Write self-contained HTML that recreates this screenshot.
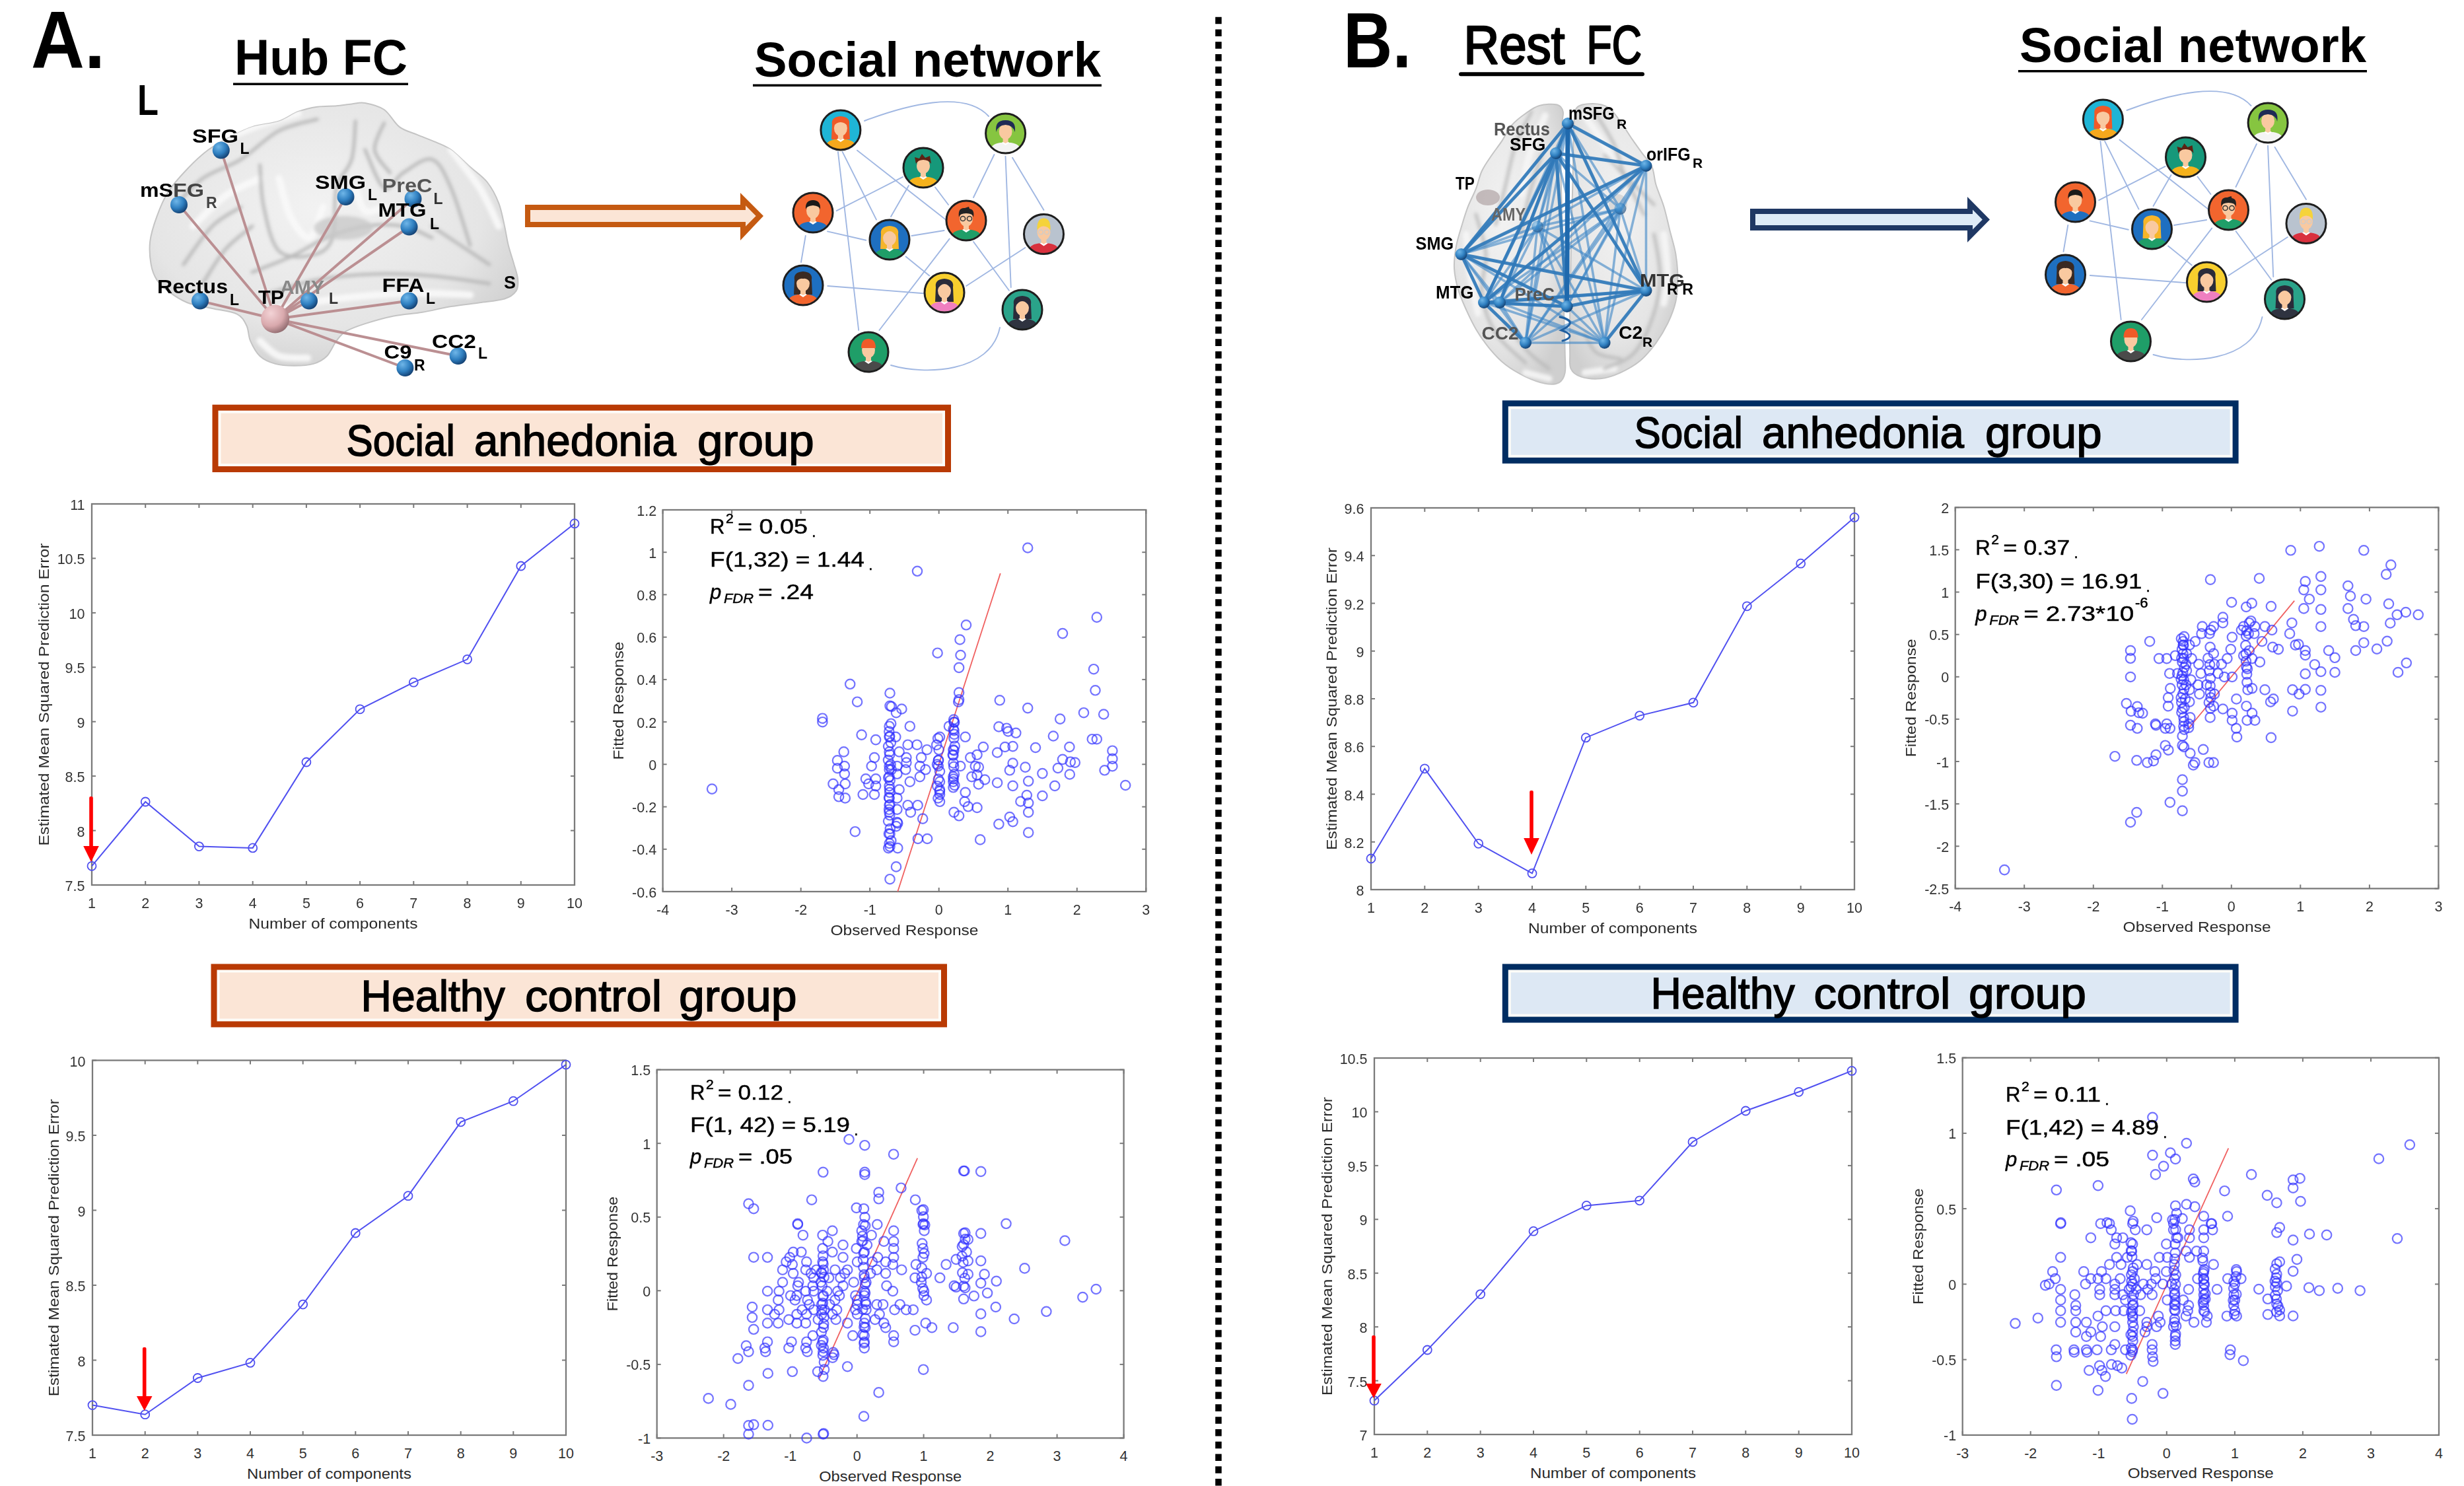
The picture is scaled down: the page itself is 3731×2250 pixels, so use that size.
<!DOCTYPE html>
<html><head><meta charset="utf-8"><title>Figure</title>
<style>
html,body{margin:0;padding:0;background:#fff;width:3731px;height:2250px;overflow:hidden;}
svg{display:block;font-family:"Liberation Sans", sans-serif;}
</style></head><body>
<svg width="3731" height="2250" viewBox="0 0 3731 2250">
<rect width="3731" height="2250" fill="#fff"/>
<line x1="1845" y1="25.7" x2="1845" y2="2250" stroke="#000" stroke-width="9.5" stroke-dasharray="10.6 8.156"/>
<defs>
<radialGradient id="gBrain" cx="0.45" cy="0.4" r="0.65">
<stop offset="0" stop-color="#f2f2f2"/><stop offset="0.7" stop-color="#e5e5e5"/><stop offset="1" stop-color="#cfcfcf"/>
</radialGradient>
<radialGradient id="gBlue" cx="0.35" cy="0.3" r="0.75">
<stop offset="0" stop-color="#6fb6e8"/><stop offset="0.55" stop-color="#2f7fc0"/><stop offset="1" stop-color="#123d6e"/>
</radialGradient>
<radialGradient id="gPink" cx="0.35" cy="0.3" r="0.75">
<stop offset="0" stop-color="#f3d3d6"/><stop offset="0.6" stop-color="#d9a9ad"/><stop offset="1" stop-color="#8f6a6e"/>
</radialGradient>
<filter id="blur2" x="-5%" y="-5%" width="110%" height="110%"><feGaussianBlur stdDeviation="2.5"/></filter>
</defs>
<path d="M228.7 400.4 C227 390.8 225.8 377.8 227.2 365.7 C228.7 353.6 232.8 340.6 237.4 328.1 C241.9 315.5 247 302.5 254.7 290.5 C262.4 278.4 273.5 266.4 283.7 255.7 C293.8 245.1 304.4 235 315.5 226.8 C326.6 218.6 339.1 212.3 350.2 206.6 C361.3 200.8 370 195.9 382 192.1 C394.1 188.2 411 187.3 422.5 183.4 C434.1 179.5 441.8 172.6 451.5 168.9 C461.1 165.3 470.8 163.1 480.4 161.7 C490.1 160.3 500.7 161 509.4 160.3 C518 159.5 525.3 158.1 532.5 157.4 C539.7 156.6 544.6 154.5 552.8 155.9 C561 157.4 573 160 581.7 166 C590.4 172.1 596.6 185.8 604.8 192.1 C613 198.4 621.7 199.8 630.9 203.7 C640 207.5 651.1 211.4 659.8 215.2 C668.5 219.1 674.3 220.5 683 226.8 C691.6 233.1 702.7 244.6 711.9 252.8 C721.1 261 730.7 266.8 737.9 276 C745.2 285.2 751 296.7 755.3 307.8 C759.6 318.9 761.6 331.9 764 342.5 C766.4 353.2 767.4 361.8 769.8 371.5 C772.2 381.1 776 391.7 778.4 400.4 C780.9 409.1 783.8 416.8 784.2 423.6 C784.7 430.3 784.7 436.1 781.3 440.9 C778 445.7 773.1 449.6 764 452.5 C754.8 455.4 739.9 456.4 726.4 458.3 C712.9 460.2 697.4 461.7 683 464.1 C668.5 466.5 654 470.3 639.6 472.8 C625.1 475.2 610.6 475.6 596.2 478.5 C581.7 481.4 564.8 486.3 552.8 490.1 C540.7 494 531.1 497.3 523.8 501.7 C516.6 506 514.2 509.9 509.4 516.2 C504.5 522.4 500.7 533.5 494.9 539.3 C489.1 545.1 482.8 548.5 474.6 550.9 C466.4 553.3 455.3 553.8 445.7 553.8 C436 553.8 425.4 553.3 416.8 550.9 C408.1 548.5 399.9 545.1 393.6 539.3 C387.3 533.5 382.5 523.9 379.1 516.2 C375.8 508.4 376.7 499.8 373.4 493 C370 486.3 367.6 480 358.9 475.6 C350.2 471.3 333.8 469.9 321.3 467 C308.7 464.1 294.7 462.6 283.7 458.3 C272.6 453.9 262.4 446.7 254.7 440.9 C247 435.1 241.7 430.3 237.4 423.6 C233 416.8 230.4 410.1 228.7 400.4 Z" fill="url(#gBrain)" stroke="#c4c4c4" stroke-width="2"/>
<defs><clipPath id="clipBrainA"><path d="M228.7 400.4 C227 390.8 225.8 377.8 227.2 365.7 C228.7 353.6 232.8 340.6 237.4 328.1 C241.9 315.5 247 302.5 254.7 290.5 C262.4 278.4 273.5 266.4 283.7 255.7 C293.8 245.1 304.4 235 315.5 226.8 C326.6 218.6 339.1 212.3 350.2 206.6 C361.3 200.8 370 195.9 382 192.1 C394.1 188.2 411 187.3 422.5 183.4 C434.1 179.5 441.8 172.6 451.5 168.9 C461.1 165.3 470.8 163.1 480.4 161.7 C490.1 160.3 500.7 161 509.4 160.3 C518 159.5 525.3 158.1 532.5 157.4 C539.7 156.6 544.6 154.5 552.8 155.9 C561 157.4 573 160 581.7 166 C590.4 172.1 596.6 185.8 604.8 192.1 C613 198.4 621.7 199.8 630.9 203.7 C640 207.5 651.1 211.4 659.8 215.2 C668.5 219.1 674.3 220.5 683 226.8 C691.6 233.1 702.7 244.6 711.9 252.8 C721.1 261 730.7 266.8 737.9 276 C745.2 285.2 751 296.7 755.3 307.8 C759.6 318.9 761.6 331.9 764 342.5 C766.4 353.2 767.4 361.8 769.8 371.5 C772.2 381.1 776 391.7 778.4 400.4 C780.9 409.1 783.8 416.8 784.2 423.6 C784.7 430.3 784.7 436.1 781.3 440.9 C778 445.7 773.1 449.6 764 452.5 C754.8 455.4 739.9 456.4 726.4 458.3 C712.9 460.2 697.4 461.7 683 464.1 C668.5 466.5 654 470.3 639.6 472.8 C625.1 475.2 610.6 475.6 596.2 478.5 C581.7 481.4 564.8 486.3 552.8 490.1 C540.7 494 531.1 497.3 523.8 501.7 C516.6 506 514.2 509.9 509.4 516.2 C504.5 522.4 500.7 533.5 494.9 539.3 C489.1 545.1 482.8 548.5 474.6 550.9 C466.4 553.3 455.3 553.8 445.7 553.8 C436 553.8 425.4 553.3 416.8 550.9 C408.1 548.5 399.9 545.1 393.6 539.3 C387.3 533.5 382.5 523.9 379.1 516.2 C375.8 508.4 376.7 499.8 373.4 493 C370 486.3 367.6 480 358.9 475.6 C350.2 471.3 333.8 469.9 321.3 467 C308.7 464.1 294.7 462.6 283.7 458.3 C272.6 453.9 262.4 446.7 254.7 440.9 C247 435.1 241.7 430.3 237.4 423.6 C233 416.8 230.4 410.1 228.7 400.4 Z"/></clipPath></defs>
<g clip-path="url(#clipBrainA)" fill="none" stroke-linecap="round" stroke-linejoin="round">
<g filter="url(#blur2)">
<path d="M292.3 342.5 C300.5 334.8 324.6 308.3 341.5 296.2 C358.4 284.2 384.9 274.5 393.6 270.2" stroke="#f8f8f8" stroke-width="11" opacity="0.9"/>
<path d="M422.5 270.2 C425.4 279.9 432.2 313.1 439.9 328.1 C447.6 343 460.6 362.3 468.8 359.9 C477 357.5 485.7 321.3 489.1 313.6" stroke="#f8f8f8" stroke-width="11" opacity="0.9"/>
<path d="M335.7 212.3 C345.4 208.5 374.3 195.9 393.6 189.2 C412.9 182.4 441.8 174.7 451.5 171.8" stroke="#f8f8f8" stroke-width="11" opacity="0.9"/>
<path d="M422.5 467 C437 464.6 475.6 456.4 509.4 452.5 C543.1 448.6 591.3 444.8 625.1 443.8 C658.9 442.9 697.4 446.2 711.9 446.7" stroke="#f8f8f8" stroke-width="11" opacity="0.9"/>
<path d="M538.3 284.7 C540.7 290.5 545.5 314.6 552.8 319.4 C560 324.2 576.9 314.6 581.7 313.6" stroke="#f8f8f8" stroke-width="11" opacity="0.9"/>
<path d="M683 226.8 C690.2 236.5 714.3 265.4 726.4 284.7 C738.4 304 750.5 332.9 755.3 342.5" stroke="#f8f8f8" stroke-width="11" opacity="0.9"/>
<path d="M393.6 516.2 C398.4 520 410.5 535 422.5 539.3 C434.6 543.6 458.7 541.7 465.9 542.2" stroke="#f8f8f8" stroke-width="11" opacity="0.9"/>
<path d="M382 412 C391.7 408.1 421.1 397.5 439.9 388.8 C458.7 380.2 476.1 367.6 494.9 359.9 C513.7 352.2 533.5 345.4 552.8 342.5 C572 339.7 593.7 339.7 610.6 342.5 C627.5 345.4 646.8 357 654 359.9" stroke="#b4b4b4" stroke-width="5" opacity="0.85"/>
<path d="M393.6 250 C394.6 260.6 394.6 291.9 399.4 313.6 C404.2 335.3 410 368.1 422.5 380.2 C435.1 392.2 461.1 389.3 474.6 385.9 C488.1 382.6 497.8 376.8 503.6 359.9 C509.4 343 504.5 304.4 509.4 284.7 C514.2 264.9 527.7 258.2 532.5 241.3 C537.3 224.4 537.3 193 538.3 183.4" stroke="#b4b4b4" stroke-width="5" opacity="0.85"/>
<path d="M263.4 313.6 C270.6 306.4 289.9 282.3 306.8 270.2 C323.7 258.2 345.4 253.3 364.7 241.3 C384 229.2 403.3 208 422.5 197.9 C441.8 187.7 470.8 183.4 480.4 180.5" stroke="#b4b4b4" stroke-width="5" opacity="0.85"/>
<path d="M277.9 400.4 C285.1 390.8 306.8 357 321.3 342.5 C335.7 328.1 357.4 318.4 364.7 313.6" stroke="#b4b4b4" stroke-width="5" opacity="0.85"/>
<path d="M408.1 443.8 C420.1 440.4 453.9 428.4 480.4 423.6 C506.9 418.7 538.3 415.8 567.2 414.9 C596.2 413.9 625.1 415.4 654 417.8 C683 420.2 726.4 427.4 740.8 429.4" stroke="#b4b4b4" stroke-width="5" opacity="0.85"/>
<path d="M552.8 226.8 C557.6 236.5 572 278.9 581.7 284.7 C591.3 290.5 598.6 268.8 610.6 261.5 C622.7 254.3 642 237.4 654 241.3 C666.1 245.1 673.3 263 683 284.7 C692.6 306.4 707.1 357 711.9 371.5" stroke="#b4b4b4" stroke-width="5" opacity="0.85"/>
<path d="M654 342.5 C661.3 347.4 683 361.8 697.4 371.5 C711.9 381.1 733.6 395.6 740.8 400.4" stroke="#b4b4b4" stroke-width="5" opacity="0.85"/>
<path d="M306.8 429.4 C312.6 420.7 329 391.7 341.5 377.3 C354.1 362.8 375.3 348.3 382 342.5" stroke="#b4b4b4" stroke-width="5" opacity="0.85"/>
<path d="M581.7 186.3 C579.3 193 565.8 214.3 567.2 226.8 C568.7 239.3 586.5 255.7 590.4 261.5" stroke="#b4b4b4" stroke-width="5" opacity="0.85"/>
<ellipse cx="520" cy="345" rx="45" ry="18" fill="#c9c9c9" stroke="none" opacity="0.8"/>
</g></g>
<g stroke-linecap="round">
<line x1="416.6" y1="483" x2="334.8" y2="227.5" stroke="#bb8f92" stroke-width="4"/>
<line x1="416.6" y1="483" x2="271" y2="310" stroke="#bb8f92" stroke-width="4"/>
<line x1="416.6" y1="483" x2="523.5" y2="298" stroke="#bb8f92" stroke-width="4"/>
<line x1="416.6" y1="483" x2="625.5" y2="301" stroke="#bb8f92" stroke-width="4"/>
<line x1="416.6" y1="483" x2="619.5" y2="343.5" stroke="#bb8f92" stroke-width="4"/>
<line x1="416.6" y1="483" x2="303" y2="455.6" stroke="#bb8f92" stroke-width="4"/>
<line x1="416.6" y1="483" x2="468" y2="455.6" stroke="#bb8f92" stroke-width="4"/>
<line x1="416.6" y1="483" x2="619.5" y2="455.6" stroke="#bb8f92" stroke-width="4"/>
<line x1="416.6" y1="483" x2="693.7" y2="539" stroke="#bb8f92" stroke-width="4"/>
<line x1="416.6" y1="483" x2="613.4" y2="557" stroke="#bb8f92" stroke-width="4"/>
</g>
<circle cx="334.8" cy="227.5" r="13" fill="url(#gBlue)"/>
<circle cx="271" cy="310" r="13" fill="url(#gBlue)"/>
<circle cx="523.5" cy="298" r="13" fill="url(#gBlue)"/>
<circle cx="625.5" cy="301" r="13" fill="url(#gBlue)"/>
<circle cx="619.5" cy="343.5" r="13" fill="url(#gBlue)"/>
<circle cx="303" cy="455.6" r="13" fill="url(#gBlue)"/>
<circle cx="468" cy="455.6" r="13" fill="url(#gBlue)"/>
<circle cx="619.5" cy="455.6" r="13" fill="url(#gBlue)"/>
<circle cx="693.7" cy="539" r="13" fill="url(#gBlue)"/>
<circle cx="613.4" cy="557" r="13" fill="url(#gBlue)"/>
<circle cx="416.6" cy="483" r="21.5" fill="url(#gPink)"/>
<text x="291" y="216" font-size="30" font-weight="bold" fill="#000" textLength="70" lengthAdjust="spacingAndGlyphs">SFG</text><text x="363.5" y="233" font-size="23" font-weight="bold" fill="#000">L</text>
<text x="212" y="298" font-size="30" font-weight="bold" fill="#000" textLength="50" lengthAdjust="spacingAndGlyphs">mS</text><text x="262" y="298" font-size="30" font-weight="bold" fill="#444" textLength="47" lengthAdjust="spacingAndGlyphs">FG</text><text x="312" y="315" font-size="23" font-weight="bold" fill="#444">R</text>
<text x="477" y="286" font-size="30" font-weight="bold" fill="#000" textLength="77" lengthAdjust="spacingAndGlyphs">SMG</text><text x="557" y="303" font-size="23" font-weight="bold" fill="#000">L</text>
<text x="578.6" y="290.5" font-size="30" font-weight="bold" fill="#555" textLength="76" lengthAdjust="spacingAndGlyphs">PreC</text><text x="656.6" y="308.5" font-size="23" font-weight="bold" fill="#333">L</text>
<text x="572.5" y="328" font-size="30" font-weight="bold" fill="#000" textLength="73" lengthAdjust="spacingAndGlyphs">MTG</text><text x="651" y="346.6" font-size="23" font-weight="bold" fill="#000">L</text>
<text x="238" y="443.5" font-size="30" font-weight="bold" fill="#000" textLength="107" lengthAdjust="spacingAndGlyphs">Rectus</text><text x="348" y="461.5" font-size="23" font-weight="bold" fill="#000">L</text>
<text x="424" y="445" font-size="30" font-weight="bold" fill="#888" textLength="67" lengthAdjust="spacingAndGlyphs">AMY</text><text x="498" y="460" font-size="23" font-weight="bold" fill="#333">L</text>
<text x="391" y="460" font-size="30" font-weight="bold" fill="#000" textLength="39" lengthAdjust="spacingAndGlyphs">TP</text>
<text x="578.6" y="442" font-size="30" font-weight="bold" fill="#000" textLength="64" lengthAdjust="spacingAndGlyphs">FFA</text><text x="645" y="460" font-size="23" font-weight="bold" fill="#000">L</text>
<text x="654" y="527" font-size="30" font-weight="bold" fill="#000" textLength="67" lengthAdjust="spacingAndGlyphs">CC2</text><text x="724" y="543" font-size="23" font-weight="bold" fill="#000">L</text>
<text x="581.6" y="543.4" font-size="30" font-weight="bold" fill="#000" textLength="42" lengthAdjust="spacingAndGlyphs">C9</text><text x="627" y="561.4" font-size="23" font-weight="bold" fill="#000">R</text>
<text x="763" y="437.4" font-size="27" font-weight="bold" fill="#000">S</text>
<path d="M2357.7 158.5 C2351.7 157 2338.7 157.7 2330.8 160 C2322.8 162.2 2316.8 167 2309.8 172 C2302.8 176.9 2294.8 182.9 2288.8 189.9 C2282.8 196.9 2278.8 206.4 2273.9 213.9 C2268.9 221.4 2263.9 227.4 2258.9 234.8 C2253.9 242.3 2247.9 250.3 2243.9 258.8 C2239.9 267.3 2238.4 276.8 2234.9 285.8 C2231.4 294.7 2226.4 303.7 2222.9 312.7 C2219.4 321.7 2217 329.7 2214 339.7 C2211 349.7 2207 361.6 2205 372.6 C2203 383.6 2201.5 394.6 2202 405.6 C2202.5 416.5 2205 428 2208 438.5 C2211 449 2215.5 458.5 2219.9 468.5 C2224.4 478.4 2228.9 488.4 2234.9 498.4 C2240.9 508.4 2248.4 519.4 2255.9 528.3 C2263.4 537.3 2270.9 545.3 2279.8 552.3 C2288.8 559.3 2299.8 565.5 2309.8 570.3 C2319.8 575 2331.3 579.3 2339.7 580.8 C2348.2 582.3 2355.7 582 2360.7 579.3 C2365.7 576.5 2368.2 571.8 2369.7 564.3 C2371.2 556.8 2369.9 549.3 2369.7 534.3 C2369.4 519.4 2368.7 499.4 2368.2 474.4 C2367.7 449.5 2367.4 419.5 2366.7 384.6 C2366 349.7 2364 297.2 2363.7 264.8 C2363.5 232.4 2364.7 205.9 2365.2 189.9 C2365.7 174 2367.9 174.2 2366.7 169 C2365.5 163.7 2363.7 160 2357.7 158.5 Z" fill="url(#gBrain)" stroke="#c4c4c4" stroke-width="2"/>
<path d="M2387.7 163 C2392.4 157.5 2403.6 157 2411.6 157 C2419.6 157 2428.6 158.5 2435.6 163 C2442.6 167.5 2447.6 175.9 2453.6 183.9 C2459.5 191.9 2466 202.9 2471.5 210.9 C2477 218.9 2481.5 224.9 2486.5 231.9 C2491.5 238.8 2498 244.8 2501.5 252.8 C2505 260.8 2504.5 269.8 2507.5 279.8 C2510.5 289.8 2515.9 301.2 2519.4 312.7 C2522.9 324.2 2525.4 336.7 2528.4 348.7 C2531.4 360.6 2535.4 372.6 2537.4 384.6 C2539.4 396.6 2540.4 408.6 2540.4 420.5 C2540.4 432.5 2539.9 445 2537.4 456.5 C2534.9 468 2530.4 478.9 2525.4 489.4 C2520.4 499.9 2514.4 509.9 2507.5 519.4 C2500.5 528.8 2492.5 538.8 2483.5 546.3 C2474.5 553.8 2463.5 559.8 2453.6 564.3 C2443.6 568.8 2433.6 572.3 2423.6 573.3 C2413.6 574.3 2401.1 572.8 2393.7 570.3 C2386.2 567.8 2381.4 564.3 2378.7 558.3 C2375.9 552.3 2377.4 548.3 2377.2 534.3 C2376.9 520.4 2376.9 499.4 2377.2 474.4 C2377.4 449.5 2377.9 419.5 2378.7 384.6 C2379.4 349.7 2380.9 297.2 2381.7 264.8 C2382.4 232.4 2382.2 206.9 2383.2 189.9 C2384.2 173 2382.9 168.5 2387.7 163 Z" fill="url(#gBrain)" stroke="#c4c4c4" stroke-width="2"/>
<defs><clipPath id="clipBrainB"><path d="M2357.7 158.5 C2351.7 157 2338.7 157.7 2330.8 160 C2322.8 162.2 2316.8 167 2309.8 172 C2302.8 176.9 2294.8 182.9 2288.8 189.9 C2282.8 196.9 2278.8 206.4 2273.9 213.9 C2268.9 221.4 2263.9 227.4 2258.9 234.8 C2253.9 242.3 2247.9 250.3 2243.9 258.8 C2239.9 267.3 2238.4 276.8 2234.9 285.8 C2231.4 294.7 2226.4 303.7 2222.9 312.7 C2219.4 321.7 2217 329.7 2214 339.7 C2211 349.7 2207 361.6 2205 372.6 C2203 383.6 2201.5 394.6 2202 405.6 C2202.5 416.5 2205 428 2208 438.5 C2211 449 2215.5 458.5 2219.9 468.5 C2224.4 478.4 2228.9 488.4 2234.9 498.4 C2240.9 508.4 2248.4 519.4 2255.9 528.3 C2263.4 537.3 2270.9 545.3 2279.8 552.3 C2288.8 559.3 2299.8 565.5 2309.8 570.3 C2319.8 575 2331.3 579.3 2339.7 580.8 C2348.2 582.3 2355.7 582 2360.7 579.3 C2365.7 576.5 2368.2 571.8 2369.7 564.3 C2371.2 556.8 2369.9 549.3 2369.7 534.3 C2369.4 519.4 2368.7 499.4 2368.2 474.4 C2367.7 449.5 2367.4 419.5 2366.7 384.6 C2366 349.7 2364 297.2 2363.7 264.8 C2363.5 232.4 2364.7 205.9 2365.2 189.9 C2365.7 174 2367.9 174.2 2366.7 169 C2365.5 163.7 2363.7 160 2357.7 158.5 Z"/><path d="M2387.7 163 C2392.4 157.5 2403.6 157 2411.6 157 C2419.6 157 2428.6 158.5 2435.6 163 C2442.6 167.5 2447.6 175.9 2453.6 183.9 C2459.5 191.9 2466 202.9 2471.5 210.9 C2477 218.9 2481.5 224.9 2486.5 231.9 C2491.5 238.8 2498 244.8 2501.5 252.8 C2505 260.8 2504.5 269.8 2507.5 279.8 C2510.5 289.8 2515.9 301.2 2519.4 312.7 C2522.9 324.2 2525.4 336.7 2528.4 348.7 C2531.4 360.6 2535.4 372.6 2537.4 384.6 C2539.4 396.6 2540.4 408.6 2540.4 420.5 C2540.4 432.5 2539.9 445 2537.4 456.5 C2534.9 468 2530.4 478.9 2525.4 489.4 C2520.4 499.9 2514.4 509.9 2507.5 519.4 C2500.5 528.8 2492.5 538.8 2483.5 546.3 C2474.5 553.8 2463.5 559.8 2453.6 564.3 C2443.6 568.8 2433.6 572.3 2423.6 573.3 C2413.6 574.3 2401.1 572.8 2393.7 570.3 C2386.2 567.8 2381.4 564.3 2378.7 558.3 C2375.9 552.3 2377.4 548.3 2377.2 534.3 C2376.9 520.4 2376.9 499.4 2377.2 474.4 C2377.4 449.5 2377.9 419.5 2378.7 384.6 C2379.4 349.7 2380.9 297.2 2381.7 264.8 C2382.4 232.4 2382.2 206.9 2383.2 189.9 C2384.2 173 2382.9 168.5 2387.7 163 Z"/></clipPath></defs>
<g clip-path="url(#clipBrainB)" fill="none" stroke-linecap="round"><g filter="url(#blur2)">
<path d="M2339.7 174.9 C2335.8 184.9 2321.8 214.9 2315.8 234.8 C2309.8 254.8 2305.8 284.8 2303.8 294.7" stroke="#f6f6f6" stroke-width="10" opacity="0.9"/>
<path d="M2219.9 354.6 C2220.9 364.6 2222.9 394.6 2225.9 414.5 C2228.9 434.5 2235.9 464.5 2237.9 474.4" stroke="#f6f6f6" stroke-width="10" opacity="0.9"/>
<path d="M2399.6 174.9 C2404.6 182.4 2422.1 207.4 2429.6 219.9 C2437.1 232.4 2442.1 244.8 2444.6 249.8" stroke="#f6f6f6" stroke-width="10" opacity="0.9"/>
<path d="M2519.4 354.6 C2520.4 364.6 2525.4 397.1 2525.4 414.5 C2525.4 432 2520.4 452 2519.4 459.5" stroke="#f6f6f6" stroke-width="10" opacity="0.9"/>
<path d="M2309.8 564.3 C2315.8 565.8 2339.7 571.8 2345.7 573.3" stroke="#f6f6f6" stroke-width="10" opacity="0.9"/>
<path d="M2399.6 564.3 C2407.1 563.3 2437.1 559.3 2444.6 558.3" stroke="#f6f6f6" stroke-width="10" opacity="0.9"/>
<path d="M2318.8 169 C2314.8 177.4 2301.3 201.4 2294.8 219.9 C2288.3 238.3 2284.8 259.8 2279.8 279.8 C2274.9 299.7 2267.4 329.7 2264.9 339.7" stroke="#b8b8b8" stroke-width="5" opacity="0.8"/>
<path d="M2234.9 324.7 C2237.4 334.7 2248.4 364.6 2249.9 384.6 C2251.4 404.6 2241.4 424.5 2243.9 444.5 C2246.4 464.5 2253.9 486.9 2264.9 504.4 C2275.9 521.9 2302.3 541.8 2309.8 549.3" stroke="#b8b8b8" stroke-width="5" opacity="0.8"/>
<path d="M2333.8 234.8 C2330.8 244.8 2320.8 274.8 2315.8 294.7 C2310.8 314.7 2305.8 344.7 2303.8 354.6" stroke="#b8b8b8" stroke-width="5" opacity="0.8"/>
<path d="M2414.6 169 C2419.6 177.4 2437.1 203.9 2444.6 219.9 C2452.1 235.8 2452.1 247.3 2459.5 264.8 C2467 282.3 2484.5 314.7 2489.5 324.7" stroke="#b8b8b8" stroke-width="5" opacity="0.8"/>
<path d="M2504.5 354.6 C2506 364.6 2513.5 394.6 2513.5 414.5 C2513.5 434.5 2511 454.5 2504.5 474.4 C2498 494.4 2487 520.4 2474.5 534.3 C2462 548.3 2437.1 554.3 2429.6 558.3" stroke="#b8b8b8" stroke-width="5" opacity="0.8"/>
<path d="M2399.6 504.4 C2402.6 509.4 2408.6 527.8 2417.6 534.3 C2426.6 540.8 2447.6 541.8 2453.6 543.3" stroke="#b8b8b8" stroke-width="5" opacity="0.8"/>
<path d="M2279.8 489.4 C2285.8 496.9 2304.8 522.9 2315.8 534.3 C2326.8 545.8 2340.7 554.3 2345.7 558.3" stroke="#b8b8b8" stroke-width="5" opacity="0.8"/>
<path d="M2429.6 234.8 C2437.1 242.3 2462 267.3 2474.5 279.8 C2487 292.2 2499.5 304.7 2504.5 309.7" stroke="#b8b8b8" stroke-width="5" opacity="0.8"/>
</g></g>
<ellipse cx="2253" cy="299" rx="18" ry="12" fill="#b8acae" opacity="0.8"/>
<ellipse cx="2450" cy="310" rx="14" ry="16" fill="#c9c9c9" opacity="0.6"/>
<g stroke="#3d86c6" stroke-linecap="round">
<line x1="2374" y1="187" x2="2356" y2="232" stroke-width="3.6" opacity="0.6"/>
<line x1="2374" y1="187" x2="2492.5" y2="251" stroke-width="3.6" opacity="0.6"/>
<line x1="2374" y1="187" x2="2328" y2="343" stroke-width="3.6" opacity="0.6"/>
<line x1="2374" y1="187" x2="2212.5" y2="385" stroke-width="3.6" opacity="0.6"/>
<line x1="2374" y1="187" x2="2492.5" y2="440" stroke-width="3.6" opacity="0.6"/>
<line x1="2374" y1="187" x2="2372.7" y2="464" stroke-width="3.6" opacity="0.6"/>
<line x1="2374" y1="187" x2="2247" y2="458" stroke-width="3.6" opacity="0.6"/>
<line x1="2374" y1="187" x2="2271" y2="458" stroke-width="3.6" opacity="0.6"/>
<line x1="2374" y1="187" x2="2310" y2="519" stroke-width="3.6" opacity="0.6"/>
<line x1="2374" y1="187" x2="2429.6" y2="519" stroke-width="3.6" opacity="0.6"/>
<line x1="2374" y1="187" x2="2453.5" y2="316" stroke-width="3.6" opacity="0.6"/>
<line x1="2356" y1="232" x2="2492.5" y2="251" stroke-width="3.6" opacity="0.6"/>
<line x1="2356" y1="232" x2="2328" y2="343" stroke-width="3.6" opacity="0.6"/>
<line x1="2356" y1="232" x2="2212.5" y2="385" stroke-width="3.6" opacity="0.6"/>
<line x1="2356" y1="232" x2="2492.5" y2="440" stroke-width="3.6" opacity="0.6"/>
<line x1="2356" y1="232" x2="2372.7" y2="464" stroke-width="3.6" opacity="0.6"/>
<line x1="2356" y1="232" x2="2247" y2="458" stroke-width="3.6" opacity="0.6"/>
<line x1="2356" y1="232" x2="2271" y2="458" stroke-width="3.6" opacity="0.6"/>
<line x1="2356" y1="232" x2="2310" y2="519" stroke-width="3.6" opacity="0.6"/>
<line x1="2356" y1="232" x2="2429.6" y2="519" stroke-width="3.6" opacity="0.6"/>
<line x1="2356" y1="232" x2="2453.5" y2="316" stroke-width="3.6" opacity="0.6"/>
<line x1="2492.5" y1="251" x2="2328" y2="343" stroke-width="3.6" opacity="0.6"/>
<line x1="2492.5" y1="251" x2="2212.5" y2="385" stroke-width="3.6" opacity="0.6"/>
<line x1="2492.5" y1="251" x2="2492.5" y2="440" stroke-width="3.6" opacity="0.6"/>
<line x1="2492.5" y1="251" x2="2372.7" y2="464" stroke-width="3.6" opacity="0.6"/>
<line x1="2492.5" y1="251" x2="2247" y2="458" stroke-width="3.6" opacity="0.6"/>
<line x1="2492.5" y1="251" x2="2271" y2="458" stroke-width="3.6" opacity="0.6"/>
<line x1="2492.5" y1="251" x2="2310" y2="519" stroke-width="3.6" opacity="0.6"/>
<line x1="2492.5" y1="251" x2="2429.6" y2="519" stroke-width="3.6" opacity="0.6"/>
<line x1="2492.5" y1="251" x2="2453.5" y2="316" stroke-width="3.6" opacity="0.6"/>
<line x1="2328" y1="343" x2="2212.5" y2="385" stroke-width="3.6" opacity="0.6"/>
<line x1="2328" y1="343" x2="2492.5" y2="440" stroke-width="3.6" opacity="0.6"/>
<line x1="2328" y1="343" x2="2372.7" y2="464" stroke-width="3.6" opacity="0.6"/>
<line x1="2328" y1="343" x2="2247" y2="458" stroke-width="3.6" opacity="0.6"/>
<line x1="2328" y1="343" x2="2271" y2="458" stroke-width="3.6" opacity="0.6"/>
<line x1="2328" y1="343" x2="2310" y2="519" stroke-width="3.6" opacity="0.6"/>
<line x1="2328" y1="343" x2="2429.6" y2="519" stroke-width="3.6" opacity="0.6"/>
<line x1="2328" y1="343" x2="2453.5" y2="316" stroke-width="3.6" opacity="0.6"/>
<line x1="2212.5" y1="385" x2="2492.5" y2="440" stroke-width="3.6" opacity="0.6"/>
<line x1="2212.5" y1="385" x2="2372.7" y2="464" stroke-width="3.6" opacity="0.6"/>
<line x1="2212.5" y1="385" x2="2247" y2="458" stroke-width="3.6" opacity="0.6"/>
<line x1="2212.5" y1="385" x2="2271" y2="458" stroke-width="3.6" opacity="0.6"/>
<line x1="2212.5" y1="385" x2="2310" y2="519" stroke-width="3.6" opacity="0.6"/>
<line x1="2212.5" y1="385" x2="2429.6" y2="519" stroke-width="3.6" opacity="0.6"/>
<line x1="2212.5" y1="385" x2="2453.5" y2="316" stroke-width="3.6" opacity="0.6"/>
<line x1="2492.5" y1="440" x2="2372.7" y2="464" stroke-width="3.6" opacity="0.6"/>
<line x1="2492.5" y1="440" x2="2247" y2="458" stroke-width="3.6" opacity="0.6"/>
<line x1="2492.5" y1="440" x2="2271" y2="458" stroke-width="3.6" opacity="0.6"/>
<line x1="2492.5" y1="440" x2="2310" y2="519" stroke-width="3.6" opacity="0.6"/>
<line x1="2492.5" y1="440" x2="2429.6" y2="519" stroke-width="3.6" opacity="0.6"/>
<line x1="2492.5" y1="440" x2="2453.5" y2="316" stroke-width="3.6" opacity="0.6"/>
<line x1="2372.7" y1="464" x2="2247" y2="458" stroke-width="3.6" opacity="0.6"/>
<line x1="2372.7" y1="464" x2="2271" y2="458" stroke-width="3.6" opacity="0.6"/>
<line x1="2372.7" y1="464" x2="2310" y2="519" stroke-width="3.6" opacity="0.6"/>
<line x1="2372.7" y1="464" x2="2429.6" y2="519" stroke-width="3.6" opacity="0.6"/>
<line x1="2372.7" y1="464" x2="2453.5" y2="316" stroke-width="3.6" opacity="0.6"/>
<line x1="2247" y1="458" x2="2271" y2="458" stroke-width="3.6" opacity="0.6"/>
<line x1="2247" y1="458" x2="2310" y2="519" stroke-width="3.6" opacity="0.6"/>
<line x1="2247" y1="458" x2="2429.6" y2="519" stroke-width="3.6" opacity="0.6"/>
<line x1="2247" y1="458" x2="2453.5" y2="316" stroke-width="3.6" opacity="0.6"/>
<line x1="2271" y1="458" x2="2310" y2="519" stroke-width="3.6" opacity="0.6"/>
<line x1="2271" y1="458" x2="2429.6" y2="519" stroke-width="3.6" opacity="0.6"/>
<line x1="2271" y1="458" x2="2453.5" y2="316" stroke-width="3.6" opacity="0.6"/>
<line x1="2310" y1="519" x2="2429.6" y2="519" stroke-width="3.6" opacity="0.6"/>
<line x1="2310" y1="519" x2="2453.5" y2="316" stroke-width="3.6" opacity="0.6"/>
<line x1="2429.6" y1="519" x2="2453.5" y2="316" stroke-width="3.6" opacity="0.6"/>
<line x1="2374" y1="187" x2="2372.7" y2="464" stroke="#2f78b8" stroke-width="5" opacity="0.85"/>
<line x1="2356" y1="232" x2="2212.5" y2="385" stroke="#2f78b8" stroke-width="5" opacity="0.85"/>
<line x1="2374" y1="187" x2="2492.5" y2="251" stroke="#2f78b8" stroke-width="5" opacity="0.85"/>
<line x1="2212.5" y1="385" x2="2492.5" y2="440" stroke="#2f78b8" stroke-width="5" opacity="0.85"/>
<line x1="2212.5" y1="385" x2="2372.7" y2="464" stroke="#2f78b8" stroke-width="5" opacity="0.85"/>
<line x1="2247" y1="458" x2="2372.7" y2="464" stroke="#2f78b8" stroke-width="5" opacity="0.85"/>
<line x1="2492.5" y1="440" x2="2372.7" y2="464" stroke="#2f78b8" stroke-width="5" opacity="0.85"/>
<line x1="2374" y1="187" x2="2492.5" y2="440" stroke="#2f78b8" stroke-width="5" opacity="0.85"/>
<line x1="2356" y1="232" x2="2247" y2="458" stroke="#2f78b8" stroke-width="5" opacity="0.85"/>
<line x1="2212.5" y1="385" x2="2247" y2="458" stroke="#2f78b8" stroke-width="5" opacity="0.85"/>
<line x1="2356" y1="232" x2="2492.5" y2="251" stroke="#2f78b8" stroke-width="5" opacity="0.85"/>
<line x1="2492.5" y1="251" x2="2212.5" y2="385" stroke="#2f78b8" stroke-width="5" opacity="0.85"/>
<line x1="2374" y1="187" x2="2212.5" y2="385" stroke="#2f78b8" stroke-width="5" opacity="0.85"/>
<line x1="2356" y1="232" x2="2372.7" y2="464" stroke="#2f78b8" stroke-width="5" opacity="0.85"/>
<line x1="2492.5" y1="440" x2="2247" y2="458" stroke="#2f78b8" stroke-width="5" opacity="0.85"/>
<line x1="2356" y1="232" x2="2492.5" y2="440" stroke="#2f78b8" stroke-width="5" opacity="0.85"/>
<line x1="2492.5" y1="440" x2="2429.6" y2="519" stroke="#2f78b8" stroke-width="5" opacity="0.85"/>
<line x1="2247" y1="458" x2="2310" y2="519" stroke="#2f78b8" stroke-width="5" opacity="0.85"/>
<line x1="2492.5" y1="251" x2="2247" y2="458" stroke="#2f78b8" stroke-width="5" opacity="0.85"/>
<line x1="2374" y1="187" x2="2271" y2="458" stroke="#2f78b8" stroke-width="5" opacity="0.85"/>
<line x1="2374" y1="187" x2="2372.7" y2="464" stroke="#1f69ad" stroke-width="7"/>
<path d="M2362 480 C2382 484 2382 492 2364 500 C2382 506 2380 512 2366 516" fill="none" stroke="#1f5fa0" stroke-width="3"/>
</g>
<circle cx="2374" cy="187" r="9" fill="url(#gBlue)" opacity="1"/>
<circle cx="2356" cy="232" r="9" fill="url(#gBlue)" opacity="1"/>
<circle cx="2492.5" cy="251" r="9" fill="url(#gBlue)" opacity="1"/>
<circle cx="2328" cy="343" r="9" fill="url(#gBlue)" opacity="0.6"/>
<circle cx="2212.5" cy="385" r="9" fill="url(#gBlue)" opacity="1"/>
<circle cx="2492.5" cy="440" r="9" fill="url(#gBlue)" opacity="1"/>
<circle cx="2372.7" cy="464" r="9" fill="url(#gBlue)" opacity="1"/>
<circle cx="2247" cy="458" r="9" fill="url(#gBlue)" opacity="1"/>
<circle cx="2271" cy="458" r="9" fill="url(#gBlue)" opacity="1"/>
<circle cx="2310" cy="519" r="9" fill="url(#gBlue)" opacity="1"/>
<circle cx="2429.6" cy="519" r="9" fill="url(#gBlue)" opacity="1"/>
<circle cx="2453.5" cy="316" r="9" fill="url(#gBlue)" opacity="0.6"/>
<text x="2375" y="181" font-size="27" font-weight="bold" fill="#000" textLength="69.7" lengthAdjust="spacingAndGlyphs">mSFG</text><text x="2448" y="195" font-size="21" font-weight="bold" fill="#000">R</text>
<text x="2262" y="205" font-size="27" font-weight="bold" fill="#555" textLength="84.8" lengthAdjust="spacingAndGlyphs">Rectus</text>
<text x="2286" y="228" font-size="27" font-weight="bold" fill="#000" textLength="54.5" lengthAdjust="spacingAndGlyphs">SFG</text>
<text x="2493" y="243" font-size="27" font-weight="bold" fill="#000" textLength="66.6" lengthAdjust="spacingAndGlyphs">orIFG</text><text x="2563" y="254" font-size="21" font-weight="bold" fill="#000">R</text>
<text x="2204" y="287" font-size="27" font-weight="bold" fill="#000" textLength="28.8" lengthAdjust="spacingAndGlyphs">TP</text>
<text x="2258" y="334" font-size="27" font-weight="bold" fill="#666" textLength="52" lengthAdjust="spacingAndGlyphs">AMY</text>
<text x="2143.6" y="377.7" font-size="27" font-weight="bold" fill="#000" textLength="57.5" lengthAdjust="spacingAndGlyphs">SMG</text>
<text x="2174" y="452" font-size="27" font-weight="bold" fill="#000" textLength="57.5" lengthAdjust="spacingAndGlyphs">MTG</text>
<text x="2293.5" y="455" font-size="27" font-weight="bold" fill="#555" textLength="60.6" lengthAdjust="spacingAndGlyphs">PreC</text>
<text x="2483" y="433.8" font-size="27" font-weight="bold" fill="#333" textLength="68" lengthAdjust="spacingAndGlyphs">MTG</text>
<text x="2524" y="446" font-size="23" font-weight="bold" fill="#000" textLength="40" lengthAdjust="spacingAndGlyphs">R R</text>
<text x="2243.6" y="514" font-size="27" font-weight="bold" fill="#555" textLength="56" lengthAdjust="spacingAndGlyphs">CC2</text>
<text x="2451" y="512.5" font-size="27" font-weight="bold" fill="#000" textLength="36.3" lengthAdjust="spacingAndGlyphs">C2</text><text x="2487" y="524.5" font-size="21" font-weight="bold" fill="#000">R</text>
<path d="M795 310 L1121 310 L1121 292 L1156 327 L1121 364 L1121 344 L795 344 Z" fill="#c55a11"/><path d="M803 318 L1129 318 L1129 311.3 L1144.7 327 L1129 342.7 L1129 336 L803 336 Z" fill="#fbe5d6"/>
<path d="M2650 316 L2979 316 L2979 298 L3013 332.5 L2979 367 L2979 349 L2650 349 Z" fill="#1f3864"/><path d="M2658 324 L2987 324 L2987 317.5 L3001.8 332.5 L2987 347.5 L2987 341 L2658 341 Z" fill="#deebf7"/>
<defs><clipPath id="avclip"><circle r="29"/></clipPath></defs>
<g><g stroke="#a0b7e2" stroke-width="1.9" fill="none" stroke-linecap="round">
<line x1="1268.9" y1="229.9" x2="1300.2" y2="500"/>
<line x1="1275.6" y1="229.9" x2="1327" y2="332.6"/>
<line x1="1298" y1="227.7" x2="1431.9" y2="332.6"/>
<line x1="1266.7" y1="319.2" x2="1367.1" y2="267.9"/>
<line x1="1376" y1="281" x2="1349" y2="328"/>
<line x1="1416" y1="283.5" x2="1436" y2="310"/>
<line x1="1505.5" y1="234" x2="1474" y2="299"/>
<line x1="1522.5" y1="236.6" x2="1530.8" y2="435"/>
<line x1="1533" y1="238.8" x2="1580.5" y2="317.9"/>
<line x1="1253" y1="350.4" x2="1311.3" y2="363.8"/>
<line x1="1380.5" y1="357" x2="1429.6" y2="349"/>
<line x1="1219.8" y1="357" x2="1213" y2="397"/>
<line x1="1371.6" y1="388.4" x2="1407.3" y2="417.4"/>
<line x1="1437.7" y1="361.6" x2="1331.4" y2="500"/>
<line x1="1474" y1="366" x2="1527.9" y2="439.7"/>
<line x1="1253.3" y1="433" x2="1398.4" y2="444.2"/>
<line x1="1463.1" y1="433" x2="1552.4" y2="375"/>
<path d="M1309 183 C1370 160 1460 135 1497 176"/>
<path d="M1349 553 C1400 568 1500 565 1514 496"/>
</g>
<g transform="translate(1272.9 196.9)">
<circle r="30" fill="#1fb5d6"/>
<g clip-path="url(#avclip)">
<path d="M-13 -8 Q-15 -20 0 -21 Q15 -20 13 -8 L14 14 L-14 14 Z" fill="#f05a28"/>
<path d="M-24 30 Q-24 16 -8 14 L8 14 Q24 16 24 30 Z" fill="#f6a81c"/>
<rect x="-4" y="6" width="8" height="9" fill="#f9c9a0"/>
<path d="M-6 14 L0 18 L6 14 L4 13 L0 15 L-4 13 Z" fill="#fff"/>
<ellipse cx="0" cy="-3" rx="10" ry="12" fill="#f9c9a0"/>
<path d="M-11 -6 Q-12 -19 0 -19 Q12 -19 11 -6 Q6 -12 0 -12 Q-6 -12 -11 -6 Z" fill="#f05a28"/>
</g>
<circle r="30" fill="none" stroke="#1e1e1e" stroke-width="3"/>
</g>
<g transform="translate(1522.6 202)">
<circle r="30" fill="#86c540"/>
<g clip-path="url(#avclip)">
<path d="M-24 30 Q-24 16 -8 14 L8 14 Q24 16 24 30 Z" fill="#f4f4f4"/>
<rect x="-4" y="6" width="8" height="9" fill="#f9c9a0"/>
<path d="M-6 14 L0 18 L6 14 L4 13 L0 15 L-4 13 Z" fill="#fff"/>
<ellipse cx="0" cy="-3" rx="10" ry="12" fill="#f9c9a0"/>
<path d="M-14 -2 Q-17 -20 0 -20 Q17 -20 14 -2 Q12 -12 0 -13 Q-12 -12 -14 -2 Z" fill="#1f2a55"/>
</g>
<circle r="30" fill="none" stroke="#1e1e1e" stroke-width="3"/>
</g>
<g transform="translate(1398 254)">
<circle r="30" fill="#16987a"/>
<g clip-path="url(#avclip)">
<path d="M-24 30 Q-24 16 -8 14 L8 14 Q24 16 24 30 Z" fill="#f6b21c"/>
<rect x="-4" y="6" width="8" height="9" fill="#f9c9a0"/>
<path d="M-6 14 L0 18 L6 14 L4 13 L0 15 L-4 13 Z" fill="#fff"/>
<ellipse cx="0" cy="-3" rx="10" ry="12" fill="#f9c9a0"/>
<path d="M-11 -6 L-13 -16 L-6 -14 L-2 -21 L3 -15 L10 -18 L12 -6 Q8 -12 0 -12 Q-8 -12 -11 -6 Z" fill="#5b2314"/>
</g>
<circle r="30" fill="none" stroke="#1e1e1e" stroke-width="3"/>
</g>
<g transform="translate(1231 322)">
<circle r="30" fill="#f2652e"/>
<g clip-path="url(#avclip)">
<path d="M-24 30 Q-24 16 -8 14 L8 14 Q24 16 24 30 Z" fill="#1e6fc0"/>
<rect x="-4" y="6" width="8" height="9" fill="#f9c9a0"/>
<path d="M-6 14 L0 18 L6 14 L4 13 L0 15 L-4 13 Z" fill="#fff"/>
<ellipse cx="0" cy="-3" rx="10" ry="12" fill="#f9c9a0"/>
<path d="M-11 -5 Q-12 -19 0 -19 Q12 -19 11 -5 Q10 -10 0 -11 Q-10 -10 -11 -5 Z" fill="#1a1a1a"/>
</g>
<circle r="30" fill="none" stroke="#1e1e1e" stroke-width="3"/>
</g>
<g transform="translate(1347 363)">
<circle r="30" fill="#1e6fc0"/>
<g clip-path="url(#avclip)">
<path d="M-13 -8 Q-15 -20 0 -21 Q15 -20 13 -8 L14 14 L-14 14 Z" fill="#f6b52a"/>
<path d="M-24 30 Q-24 16 -8 14 L8 14 Q24 16 24 30 Z" fill="#1f9e68"/>
<rect x="-4" y="6" width="8" height="9" fill="#f9c9a0"/>
<path d="M-6 14 L0 18 L6 14 L4 13 L0 15 L-4 13 Z" fill="#fff"/>
<ellipse cx="0" cy="-3" rx="10" ry="12" fill="#f9c9a0"/>
<path d="M-11 -4 Q-11 -18 0 -18 Q11 -18 11 -4 Q6 -13 0 -13 Q-6 -13 -11 -4 Z" fill="#f6b52a"/>
</g>
<circle r="30" fill="none" stroke="#1e1e1e" stroke-width="3"/>
</g>
<g transform="translate(1463 334)">
<circle r="30" fill="#f2652e"/>
<g clip-path="url(#avclip)">
<path d="M-24 30 Q-24 16 -8 14 L8 14 Q24 16 24 30 Z" fill="#1f9e68"/>
<rect x="-4" y="6" width="8" height="9" fill="#f9c9a0"/>
<path d="M-6 14 L0 18 L6 14 L4 13 L0 15 L-4 13 Z" fill="#fff"/>
<ellipse cx="0" cy="-3" rx="10" ry="12" fill="#f9c9a0"/>
<path d="M-11 -5 Q-13 -20 -2 -19 L4 -21 L5 -18 Q13 -17 11 -5 Q10 -11 0 -11 Q-10 -11 -11 -5 Z" fill="#222222"/>
<g fill="none" stroke="#333" stroke-width="1.5"><circle cx="-5" cy="-3" r="3.6"/><circle cx="5" cy="-3" r="3.6"/></g>
</g>
<circle r="30" fill="none" stroke="#1e1e1e" stroke-width="3"/>
</g>
<g transform="translate(1580.5 354.5)">
<circle r="30" fill="#b9c3cf"/>
<g clip-path="url(#avclip)">
<path d="M-24 30 Q-24 16 -8 14 L8 14 Q24 16 24 30 Z" fill="#d9313e"/>
<rect x="-4" y="6" width="8" height="9" fill="#f9c9a0"/>
<path d="M-6 14 L0 18 L6 14 L4 13 L0 15 L-4 13 Z" fill="#fff"/>
<ellipse cx="0" cy="-3" rx="10" ry="12" fill="#f9c9a0"/>
<path d="M-10 -6 Q-11 -24 0 -24 Q11 -24 10 -6 Q6 -12 0 -12 Q-6 -12 -10 -6 Z" fill="#f5d33a"/>
<g fill="none" stroke="#ccc" stroke-width="1.3"><circle cx="-4.5" cy="-3" r="3.4"/><circle cx="4.5" cy="-3" r="3.4"/></g>
</g>
<circle r="30" fill="none" stroke="#1e1e1e" stroke-width="3"/>
</g>
<g transform="translate(1216 432)">
<circle r="30" fill="#1e6fc0"/>
<g clip-path="url(#avclip)">
<path d="M-13 -8 Q-15 -20 0 -21 Q15 -20 13 -8 L14 14 L-14 14 Z" fill="#3b2a22"/>
<path d="M-24 30 Q-24 16 -8 14 L8 14 Q24 16 24 30 Z" fill="#f2652e"/>
<rect x="-4" y="6" width="8" height="9" fill="#f9c9a0"/>
<path d="M-6 14 L0 18 L6 14 L4 13 L0 15 L-4 13 Z" fill="#fff"/>
<ellipse cx="0" cy="-3" rx="10" ry="12" fill="#f9c9a0"/>
<path d="M-12 -3 Q-13 -19 0 -19 Q13 -19 12 -3 Q6 -12 0 -10 Q-6 -12 -12 -3 Z" fill="#3b2a22"/>
</g>
<circle r="30" fill="none" stroke="#1e1e1e" stroke-width="3"/>
</g>
<g transform="translate(1430 443)">
<circle r="30" fill="#f8cf2e"/>
<g clip-path="url(#avclip)">
<path d="M-13 -8 Q-15 -20 0 -21 Q15 -20 13 -8 L14 14 L-14 14 Z" fill="#2a2b3a"/>
<path d="M-24 30 Q-24 16 -8 14 L8 14 Q24 16 24 30 Z" fill="#ef7fc0"/>
<rect x="-4" y="6" width="8" height="9" fill="#f9c9a0"/>
<path d="M-6 14 L0 18 L6 14 L4 13 L0 15 L-4 13 Z" fill="#fff"/>
<ellipse cx="0" cy="-3" rx="10" ry="12" fill="#f9c9a0"/>
<path d="M-11 -4 Q-11 -18 0 -18 Q11 -18 11 -4 Q6 -13 0 -13 Q-6 -13 -11 -4 Z" fill="#2a2b3a"/>
</g>
<circle r="30" fill="none" stroke="#1e1e1e" stroke-width="3"/>
</g>
<g transform="translate(1548 469)">
<circle r="30" fill="#2aa38a"/>
<g clip-path="url(#avclip)">
<path d="M-13 -8 Q-15 -20 0 -21 Q15 -20 13 -8 L14 14 L-14 14 Z" fill="#2a2b3a"/>
<path d="M-24 30 Q-24 16 -8 14 L8 14 Q24 16 24 30 Z" fill="#2f3340"/>
<rect x="-4" y="6" width="8" height="9" fill="#f9c9a0"/>
<path d="M-6 14 L0 18 L6 14 L4 13 L0 15 L-4 13 Z" fill="#fff"/>
<ellipse cx="0" cy="-3" rx="10" ry="12" fill="#f9c9a0"/>
<path d="M-11 -4 Q-11 -18 0 -18 Q11 -18 11 -4 Q6 -13 0 -13 Q-6 -13 -11 -4 Z" fill="#2a2b3a"/>
</g>
<circle r="30" fill="none" stroke="#1e1e1e" stroke-width="3"/>
</g>
<g transform="translate(1315 533)">
<circle r="30" fill="#1f9e68"/>
<g clip-path="url(#avclip)">
<path d="M-24 30 Q-24 16 -8 14 L8 14 Q24 16 24 30 Z" fill="#4a4a4a"/>
<rect x="-4" y="6" width="8" height="9" fill="#f9c9a0"/>
<path d="M-6 14 L0 18 L6 14 L4 13 L0 15 L-4 13 Z" fill="#fff"/>
<ellipse cx="0" cy="-3" rx="10" ry="12" fill="#f9c9a0"/>
<path d="M-11 -6 Q-11 -20 0 -20 Q11 -20 11 -6 Z" fill="#f05a28"/>
</g>
<circle r="30" fill="none" stroke="#1e1e1e" stroke-width="3"/>
</g></g>
<g transform="translate(1911.5 -16)"><g stroke="#a0b7e2" stroke-width="1.9" fill="none" stroke-linecap="round">
<line x1="1268.9" y1="229.9" x2="1300.2" y2="500"/>
<line x1="1275.6" y1="229.9" x2="1327" y2="332.6"/>
<line x1="1298" y1="227.7" x2="1431.9" y2="332.6"/>
<line x1="1266.7" y1="319.2" x2="1367.1" y2="267.9"/>
<line x1="1376" y1="281" x2="1349" y2="328"/>
<line x1="1416" y1="283.5" x2="1436" y2="310"/>
<line x1="1505.5" y1="234" x2="1474" y2="299"/>
<line x1="1522.5" y1="236.6" x2="1530.8" y2="435"/>
<line x1="1533" y1="238.8" x2="1580.5" y2="317.9"/>
<line x1="1253" y1="350.4" x2="1311.3" y2="363.8"/>
<line x1="1380.5" y1="357" x2="1429.6" y2="349"/>
<line x1="1219.8" y1="357" x2="1213" y2="397"/>
<line x1="1371.6" y1="388.4" x2="1407.3" y2="417.4"/>
<line x1="1437.7" y1="361.6" x2="1331.4" y2="500"/>
<line x1="1474" y1="366" x2="1527.9" y2="439.7"/>
<line x1="1253.3" y1="433" x2="1398.4" y2="444.2"/>
<line x1="1463.1" y1="433" x2="1552.4" y2="375"/>
<path d="M1309 183 C1370 160 1460 135 1497 176"/>
<path d="M1349 553 C1400 568 1500 565 1514 496"/>
</g>
<g transform="translate(1272.9 196.9)">
<circle r="30" fill="#1fb5d6"/>
<g clip-path="url(#avclip)">
<path d="M-13 -8 Q-15 -20 0 -21 Q15 -20 13 -8 L14 14 L-14 14 Z" fill="#f05a28"/>
<path d="M-24 30 Q-24 16 -8 14 L8 14 Q24 16 24 30 Z" fill="#f6a81c"/>
<rect x="-4" y="6" width="8" height="9" fill="#f9c9a0"/>
<path d="M-6 14 L0 18 L6 14 L4 13 L0 15 L-4 13 Z" fill="#fff"/>
<ellipse cx="0" cy="-3" rx="10" ry="12" fill="#f9c9a0"/>
<path d="M-11 -6 Q-12 -19 0 -19 Q12 -19 11 -6 Q6 -12 0 -12 Q-6 -12 -11 -6 Z" fill="#f05a28"/>
</g>
<circle r="30" fill="none" stroke="#1e1e1e" stroke-width="3"/>
</g>
<g transform="translate(1522.6 202)">
<circle r="30" fill="#86c540"/>
<g clip-path="url(#avclip)">
<path d="M-24 30 Q-24 16 -8 14 L8 14 Q24 16 24 30 Z" fill="#f4f4f4"/>
<rect x="-4" y="6" width="8" height="9" fill="#f9c9a0"/>
<path d="M-6 14 L0 18 L6 14 L4 13 L0 15 L-4 13 Z" fill="#fff"/>
<ellipse cx="0" cy="-3" rx="10" ry="12" fill="#f9c9a0"/>
<path d="M-14 -2 Q-17 -20 0 -20 Q17 -20 14 -2 Q12 -12 0 -13 Q-12 -12 -14 -2 Z" fill="#1f2a55"/>
</g>
<circle r="30" fill="none" stroke="#1e1e1e" stroke-width="3"/>
</g>
<g transform="translate(1398 254)">
<circle r="30" fill="#16987a"/>
<g clip-path="url(#avclip)">
<path d="M-24 30 Q-24 16 -8 14 L8 14 Q24 16 24 30 Z" fill="#f6b21c"/>
<rect x="-4" y="6" width="8" height="9" fill="#f9c9a0"/>
<path d="M-6 14 L0 18 L6 14 L4 13 L0 15 L-4 13 Z" fill="#fff"/>
<ellipse cx="0" cy="-3" rx="10" ry="12" fill="#f9c9a0"/>
<path d="M-11 -6 L-13 -16 L-6 -14 L-2 -21 L3 -15 L10 -18 L12 -6 Q8 -12 0 -12 Q-8 -12 -11 -6 Z" fill="#5b2314"/>
</g>
<circle r="30" fill="none" stroke="#1e1e1e" stroke-width="3"/>
</g>
<g transform="translate(1231 322)">
<circle r="30" fill="#f2652e"/>
<g clip-path="url(#avclip)">
<path d="M-24 30 Q-24 16 -8 14 L8 14 Q24 16 24 30 Z" fill="#1e6fc0"/>
<rect x="-4" y="6" width="8" height="9" fill="#f9c9a0"/>
<path d="M-6 14 L0 18 L6 14 L4 13 L0 15 L-4 13 Z" fill="#fff"/>
<ellipse cx="0" cy="-3" rx="10" ry="12" fill="#f9c9a0"/>
<path d="M-11 -5 Q-12 -19 0 -19 Q12 -19 11 -5 Q10 -10 0 -11 Q-10 -10 -11 -5 Z" fill="#1a1a1a"/>
</g>
<circle r="30" fill="none" stroke="#1e1e1e" stroke-width="3"/>
</g>
<g transform="translate(1347 363)">
<circle r="30" fill="#1e6fc0"/>
<g clip-path="url(#avclip)">
<path d="M-13 -8 Q-15 -20 0 -21 Q15 -20 13 -8 L14 14 L-14 14 Z" fill="#f6b52a"/>
<path d="M-24 30 Q-24 16 -8 14 L8 14 Q24 16 24 30 Z" fill="#1f9e68"/>
<rect x="-4" y="6" width="8" height="9" fill="#f9c9a0"/>
<path d="M-6 14 L0 18 L6 14 L4 13 L0 15 L-4 13 Z" fill="#fff"/>
<ellipse cx="0" cy="-3" rx="10" ry="12" fill="#f9c9a0"/>
<path d="M-11 -4 Q-11 -18 0 -18 Q11 -18 11 -4 Q6 -13 0 -13 Q-6 -13 -11 -4 Z" fill="#f6b52a"/>
</g>
<circle r="30" fill="none" stroke="#1e1e1e" stroke-width="3"/>
</g>
<g transform="translate(1463 334)">
<circle r="30" fill="#f2652e"/>
<g clip-path="url(#avclip)">
<path d="M-24 30 Q-24 16 -8 14 L8 14 Q24 16 24 30 Z" fill="#1f9e68"/>
<rect x="-4" y="6" width="8" height="9" fill="#f9c9a0"/>
<path d="M-6 14 L0 18 L6 14 L4 13 L0 15 L-4 13 Z" fill="#fff"/>
<ellipse cx="0" cy="-3" rx="10" ry="12" fill="#f9c9a0"/>
<path d="M-11 -5 Q-13 -20 -2 -19 L4 -21 L5 -18 Q13 -17 11 -5 Q10 -11 0 -11 Q-10 -11 -11 -5 Z" fill="#222222"/>
<g fill="none" stroke="#333" stroke-width="1.5"><circle cx="-5" cy="-3" r="3.6"/><circle cx="5" cy="-3" r="3.6"/></g>
</g>
<circle r="30" fill="none" stroke="#1e1e1e" stroke-width="3"/>
</g>
<g transform="translate(1580.5 354.5)">
<circle r="30" fill="#b9c3cf"/>
<g clip-path="url(#avclip)">
<path d="M-24 30 Q-24 16 -8 14 L8 14 Q24 16 24 30 Z" fill="#d9313e"/>
<rect x="-4" y="6" width="8" height="9" fill="#f9c9a0"/>
<path d="M-6 14 L0 18 L6 14 L4 13 L0 15 L-4 13 Z" fill="#fff"/>
<ellipse cx="0" cy="-3" rx="10" ry="12" fill="#f9c9a0"/>
<path d="M-10 -6 Q-11 -24 0 -24 Q11 -24 10 -6 Q6 -12 0 -12 Q-6 -12 -10 -6 Z" fill="#f5d33a"/>
<g fill="none" stroke="#ccc" stroke-width="1.3"><circle cx="-4.5" cy="-3" r="3.4"/><circle cx="4.5" cy="-3" r="3.4"/></g>
</g>
<circle r="30" fill="none" stroke="#1e1e1e" stroke-width="3"/>
</g>
<g transform="translate(1216 432)">
<circle r="30" fill="#1e6fc0"/>
<g clip-path="url(#avclip)">
<path d="M-13 -8 Q-15 -20 0 -21 Q15 -20 13 -8 L14 14 L-14 14 Z" fill="#3b2a22"/>
<path d="M-24 30 Q-24 16 -8 14 L8 14 Q24 16 24 30 Z" fill="#f2652e"/>
<rect x="-4" y="6" width="8" height="9" fill="#f9c9a0"/>
<path d="M-6 14 L0 18 L6 14 L4 13 L0 15 L-4 13 Z" fill="#fff"/>
<ellipse cx="0" cy="-3" rx="10" ry="12" fill="#f9c9a0"/>
<path d="M-12 -3 Q-13 -19 0 -19 Q13 -19 12 -3 Q6 -12 0 -10 Q-6 -12 -12 -3 Z" fill="#3b2a22"/>
</g>
<circle r="30" fill="none" stroke="#1e1e1e" stroke-width="3"/>
</g>
<g transform="translate(1430 443)">
<circle r="30" fill="#f8cf2e"/>
<g clip-path="url(#avclip)">
<path d="M-13 -8 Q-15 -20 0 -21 Q15 -20 13 -8 L14 14 L-14 14 Z" fill="#2a2b3a"/>
<path d="M-24 30 Q-24 16 -8 14 L8 14 Q24 16 24 30 Z" fill="#ef7fc0"/>
<rect x="-4" y="6" width="8" height="9" fill="#f9c9a0"/>
<path d="M-6 14 L0 18 L6 14 L4 13 L0 15 L-4 13 Z" fill="#fff"/>
<ellipse cx="0" cy="-3" rx="10" ry="12" fill="#f9c9a0"/>
<path d="M-11 -4 Q-11 -18 0 -18 Q11 -18 11 -4 Q6 -13 0 -13 Q-6 -13 -11 -4 Z" fill="#2a2b3a"/>
</g>
<circle r="30" fill="none" stroke="#1e1e1e" stroke-width="3"/>
</g>
<g transform="translate(1548 469)">
<circle r="30" fill="#2aa38a"/>
<g clip-path="url(#avclip)">
<path d="M-13 -8 Q-15 -20 0 -21 Q15 -20 13 -8 L14 14 L-14 14 Z" fill="#2a2b3a"/>
<path d="M-24 30 Q-24 16 -8 14 L8 14 Q24 16 24 30 Z" fill="#2f3340"/>
<rect x="-4" y="6" width="8" height="9" fill="#f9c9a0"/>
<path d="M-6 14 L0 18 L6 14 L4 13 L0 15 L-4 13 Z" fill="#fff"/>
<ellipse cx="0" cy="-3" rx="10" ry="12" fill="#f9c9a0"/>
<path d="M-11 -4 Q-11 -18 0 -18 Q11 -18 11 -4 Q6 -13 0 -13 Q-6 -13 -11 -4 Z" fill="#2a2b3a"/>
</g>
<circle r="30" fill="none" stroke="#1e1e1e" stroke-width="3"/>
</g>
<g transform="translate(1315 533)">
<circle r="30" fill="#1f9e68"/>
<g clip-path="url(#avclip)">
<path d="M-24 30 Q-24 16 -8 14 L8 14 Q24 16 24 30 Z" fill="#4a4a4a"/>
<rect x="-4" y="6" width="8" height="9" fill="#f9c9a0"/>
<path d="M-6 14 L0 18 L6 14 L4 13 L0 15 L-4 13 Z" fill="#fff"/>
<ellipse cx="0" cy="-3" rx="10" ry="12" fill="#f9c9a0"/>
<path d="M-11 -6 Q-11 -20 0 -20 Q11 -20 11 -6 Z" fill="#f05a28"/>
</g>
<circle r="30" fill="none" stroke="#1e1e1e" stroke-width="3"/>
</g></g>
<text x="47" y="103.2" font-size="122" font-weight="bold" fill="#000" textLength="112" lengthAdjust="spacingAndGlyphs">A.</text>
<text x="355" y="113" font-size="76" font-weight="bold" fill="#000" textLength="262" lengthAdjust="spacingAndGlyphs">Hub FC</text>
<rect x="353" y="125.5" width="265" height="3.5" fill="#000"/>
<text x="208" y="173.6" font-size="64" font-weight="bold" fill="#000" textLength="32" lengthAdjust="spacingAndGlyphs">L</text>
<text x="1142" y="116" font-size="74" font-weight="bold" fill="#000" textLength="525" lengthAdjust="spacingAndGlyphs">Social network</text>
<rect x="1140" y="127.5" width="528" height="3.5" fill="#000"/>
<text x="2034" y="101.8" font-size="119" font-weight="bold" fill="#000" textLength="103" lengthAdjust="spacingAndGlyphs">B.</text>
<g fill="#000" stroke="#000" stroke-width="2.6" stroke-linejoin="round" font-size="82"><text x="2216.5" y="95.5" textLength="153" lengthAdjust="spacingAndGlyphs">Rest</text><text x="2402.5" y="95.5" textLength="83.5" lengthAdjust="spacingAndGlyphs">FC</text></g>
<rect x="2209" y="109.2" width="281" height="6" rx="3" fill="#000"/>
<text x="3058" y="94" font-size="74" font-weight="bold" fill="#000" textLength="525" lengthAdjust="spacingAndGlyphs">Social network</text>
<rect x="3056" y="106" width="528" height="3.5" fill="#000"/>
<rect x="321.5" y="612.7" width="1118.5" height="102.3" fill="#b93a04"/>
<rect x="330.5" y="621.7" width="1100.5" height="84.3" fill="#fdfcf8"/>
<rect x="334.5" y="625.7" width="1092.5" height="76.3" fill="#fbe5d6"/>
<text x="524.5" y="690" font-size="66" fill="#000" stroke="#000" stroke-width="1.5" textLength="164.5" lengthAdjust="spacingAndGlyphs">Social</text>
<text x="718" y="690" font-size="66" fill="#000" stroke="#000" stroke-width="1.5" textLength="306" lengthAdjust="spacingAndGlyphs">anhedonia</text>
<text x="1056" y="690" font-size="66" fill="#000" stroke="#000" stroke-width="1.5" textLength="176.7" lengthAdjust="spacingAndGlyphs">group</text>
<rect x="319.5" y="1459.5" width="1114.5" height="95.9" fill="#b93a04"/>
<rect x="328.5" y="1468.5" width="1096.5" height="77.9" fill="#fdfcf8"/>
<rect x="332.5" y="1472.5" width="1088.5" height="69.9" fill="#fbe5d6"/>
<text x="546.6" y="1530.5" font-size="66" fill="#000" stroke="#000" stroke-width="1.5" textLength="218.2" lengthAdjust="spacingAndGlyphs">Healthy</text>
<text x="795" y="1530.5" font-size="66" fill="#000" stroke="#000" stroke-width="1.5" textLength="207" lengthAdjust="spacingAndGlyphs">control</text>
<text x="1028" y="1530.5" font-size="66" fill="#000" stroke="#000" stroke-width="1.5" textLength="178.6" lengthAdjust="spacingAndGlyphs">group</text>
<rect x="2274.8" y="606.3" width="1114.8" height="95.5" fill="#002d62"/>
<rect x="2283.8" y="615.3" width="1096.8" height="77.5" fill="#fdfcf8"/>
<rect x="2287.8" y="619.3" width="1088.8" height="69.5" fill="#dde8f4"/>
<text x="2474.5" y="678" font-size="66" fill="#000" stroke="#000" stroke-width="1.5" textLength="164.5" lengthAdjust="spacingAndGlyphs">Social</text>
<text x="2668" y="678" font-size="66" fill="#000" stroke="#000" stroke-width="1.5" textLength="306" lengthAdjust="spacingAndGlyphs">anhedonia</text>
<text x="3006" y="678" font-size="66" fill="#000" stroke="#000" stroke-width="1.5" textLength="176.7" lengthAdjust="spacingAndGlyphs">group</text>
<rect x="2274.8" y="1459.5" width="1114.8" height="89" fill="#002d62"/>
<rect x="2283.8" y="1468.5" width="1096.8" height="71" fill="#fdfcf8"/>
<rect x="2287.8" y="1472.5" width="1088.8" height="63" fill="#dde8f4"/>
<text x="2499.5" y="1527" font-size="66" fill="#000" stroke="#000" stroke-width="1.5" textLength="218.1" lengthAdjust="spacingAndGlyphs">Healthy</text>
<text x="2746.6" y="1527" font-size="66" fill="#000" stroke="#000" stroke-width="1.5" textLength="206.8" lengthAdjust="spacingAndGlyphs">control</text>
<text x="2981" y="1527" font-size="66" fill="#000" stroke="#000" stroke-width="1.5" textLength="178" lengthAdjust="spacingAndGlyphs">group</text>
<rect x="139" y="763" width="731" height="577" fill="none" stroke="#7a7a7a" stroke-width="2.3"/>
<line x1="139" y1="1340" x2="145" y2="1340" stroke="#7a7a7a" stroke-width="2"/>
<line x1="870" y1="1340" x2="864" y2="1340" stroke="#7a7a7a" stroke-width="2"/>
<text transform="translate(128.5 1349) scale(1.0 1)" font-size="21.5" fill="#333333" text-anchor="end">7.5</text>
<line x1="139" y1="1257.6" x2="145" y2="1257.6" stroke="#7a7a7a" stroke-width="2"/>
<line x1="870" y1="1257.6" x2="864" y2="1257.6" stroke="#7a7a7a" stroke-width="2"/>
<text transform="translate(128.5 1266.6) scale(1.0 1)" font-size="21.5" fill="#333333" text-anchor="end">8</text>
<line x1="139" y1="1175.1" x2="145" y2="1175.1" stroke="#7a7a7a" stroke-width="2"/>
<line x1="870" y1="1175.1" x2="864" y2="1175.1" stroke="#7a7a7a" stroke-width="2"/>
<text transform="translate(128.5 1184.1) scale(1.0 1)" font-size="21.5" fill="#333333" text-anchor="end">8.5</text>
<line x1="139" y1="1092.7" x2="145" y2="1092.7" stroke="#7a7a7a" stroke-width="2"/>
<line x1="870" y1="1092.7" x2="864" y2="1092.7" stroke="#7a7a7a" stroke-width="2"/>
<text transform="translate(128.5 1101.7) scale(1.0 1)" font-size="21.5" fill="#333333" text-anchor="end">9</text>
<line x1="139" y1="1010.3" x2="145" y2="1010.3" stroke="#7a7a7a" stroke-width="2"/>
<line x1="870" y1="1010.3" x2="864" y2="1010.3" stroke="#7a7a7a" stroke-width="2"/>
<text transform="translate(128.5 1019.3) scale(1.0 1)" font-size="21.5" fill="#333333" text-anchor="end">9.5</text>
<line x1="139" y1="927.9" x2="145" y2="927.9" stroke="#7a7a7a" stroke-width="2"/>
<line x1="870" y1="927.9" x2="864" y2="927.9" stroke="#7a7a7a" stroke-width="2"/>
<text transform="translate(128.5 936.9) scale(1.0 1)" font-size="21.5" fill="#333333" text-anchor="end">10</text>
<line x1="139" y1="845.4" x2="145" y2="845.4" stroke="#7a7a7a" stroke-width="2"/>
<line x1="870" y1="845.4" x2="864" y2="845.4" stroke="#7a7a7a" stroke-width="2"/>
<text transform="translate(128.5 854.4) scale(1.0 1)" font-size="21.5" fill="#333333" text-anchor="end">10.5</text>
<line x1="139" y1="763" x2="145" y2="763" stroke="#7a7a7a" stroke-width="2"/>
<line x1="870" y1="763" x2="864" y2="763" stroke="#7a7a7a" stroke-width="2"/>
<text transform="translate(128.5 772) scale(1.0 1)" font-size="21.5" fill="#333333" text-anchor="end">11</text>
<line x1="139" y1="1340" x2="139" y2="1334" stroke="#7a7a7a" stroke-width="2"/>
<line x1="139" y1="763" x2="139" y2="769" stroke="#7a7a7a" stroke-width="2"/>
<text transform="translate(139 1374.5) scale(1.0 1)" font-size="21.5" fill="#333333" text-anchor="middle">1</text>
<line x1="220.2" y1="1340" x2="220.2" y2="1334" stroke="#7a7a7a" stroke-width="2"/>
<line x1="220.2" y1="763" x2="220.2" y2="769" stroke="#7a7a7a" stroke-width="2"/>
<text transform="translate(220.2 1374.5) scale(1.0 1)" font-size="21.5" fill="#333333" text-anchor="middle">2</text>
<line x1="301.4" y1="1340" x2="301.4" y2="1334" stroke="#7a7a7a" stroke-width="2"/>
<line x1="301.4" y1="763" x2="301.4" y2="769" stroke="#7a7a7a" stroke-width="2"/>
<text transform="translate(301.4 1374.5) scale(1.0 1)" font-size="21.5" fill="#333333" text-anchor="middle">3</text>
<line x1="382.7" y1="1340" x2="382.7" y2="1334" stroke="#7a7a7a" stroke-width="2"/>
<line x1="382.7" y1="763" x2="382.7" y2="769" stroke="#7a7a7a" stroke-width="2"/>
<text transform="translate(382.7 1374.5) scale(1.0 1)" font-size="21.5" fill="#333333" text-anchor="middle">4</text>
<line x1="463.9" y1="1340" x2="463.9" y2="1334" stroke="#7a7a7a" stroke-width="2"/>
<line x1="463.9" y1="763" x2="463.9" y2="769" stroke="#7a7a7a" stroke-width="2"/>
<text transform="translate(463.9 1374.5) scale(1.0 1)" font-size="21.5" fill="#333333" text-anchor="middle">5</text>
<line x1="545.1" y1="1340" x2="545.1" y2="1334" stroke="#7a7a7a" stroke-width="2"/>
<line x1="545.1" y1="763" x2="545.1" y2="769" stroke="#7a7a7a" stroke-width="2"/>
<text transform="translate(545.1 1374.5) scale(1.0 1)" font-size="21.5" fill="#333333" text-anchor="middle">6</text>
<line x1="626.3" y1="1340" x2="626.3" y2="1334" stroke="#7a7a7a" stroke-width="2"/>
<line x1="626.3" y1="763" x2="626.3" y2="769" stroke="#7a7a7a" stroke-width="2"/>
<text transform="translate(626.3 1374.5) scale(1.0 1)" font-size="21.5" fill="#333333" text-anchor="middle">7</text>
<line x1="707.6" y1="1340" x2="707.6" y2="1334" stroke="#7a7a7a" stroke-width="2"/>
<line x1="707.6" y1="763" x2="707.6" y2="769" stroke="#7a7a7a" stroke-width="2"/>
<text transform="translate(707.6 1374.5) scale(1.0 1)" font-size="21.5" fill="#333333" text-anchor="middle">8</text>
<line x1="788.8" y1="1340" x2="788.8" y2="1334" stroke="#7a7a7a" stroke-width="2"/>
<line x1="788.8" y1="763" x2="788.8" y2="769" stroke="#7a7a7a" stroke-width="2"/>
<text transform="translate(788.8 1374.5) scale(1.0 1)" font-size="21.5" fill="#333333" text-anchor="middle">9</text>
<line x1="870" y1="1340" x2="870" y2="1334" stroke="#7a7a7a" stroke-width="2"/>
<line x1="870" y1="763" x2="870" y2="769" stroke="#7a7a7a" stroke-width="2"/>
<text transform="translate(870 1374.5) scale(1.0 1)" font-size="21.5" fill="#333333" text-anchor="middle">10</text>
<text x="376.5" y="1405.5" font-size="22.3" fill="#2a2a2a" textLength="256" lengthAdjust="spacingAndGlyphs">Number of components</text>
<text transform="translate(74.4 1051.5) rotate(-90)" font-size="22.3" fill="#2a2a2a" x="-229" textLength="458" lengthAdjust="spacingAndGlyphs">Estimated Mean Squared Prediction Error</text>
<polyline points="139,1311.3 220.2,1214 301.4,1281.6 382.7,1283.9 463.9,1154 545.1,1073.8 626.3,1033.2 707.6,998.3 788.8,857 870,792.7" fill="none" stroke="#5050f0" stroke-width="2"/>
<circle cx="139" cy="1311.3" r="6.5" fill="none" stroke="#5050f0" stroke-width="1.8"/>
<circle cx="220.2" cy="1214" r="6.5" fill="none" stroke="#5050f0" stroke-width="1.8"/>
<circle cx="301.4" cy="1281.6" r="6.5" fill="none" stroke="#5050f0" stroke-width="1.8"/>
<circle cx="382.7" cy="1283.9" r="6.5" fill="none" stroke="#5050f0" stroke-width="1.8"/>
<circle cx="463.9" cy="1154" r="6.5" fill="none" stroke="#5050f0" stroke-width="1.8"/>
<circle cx="545.1" cy="1073.8" r="6.5" fill="none" stroke="#5050f0" stroke-width="1.8"/>
<circle cx="626.3" cy="1033.2" r="6.5" fill="none" stroke="#5050f0" stroke-width="1.8"/>
<circle cx="707.6" cy="998.3" r="6.5" fill="none" stroke="#5050f0" stroke-width="1.8"/>
<circle cx="788.8" cy="857" r="6.5" fill="none" stroke="#5050f0" stroke-width="1.8"/>
<circle cx="870" cy="792.7" r="6.5" fill="none" stroke="#5050f0" stroke-width="1.8"/>
<rect x="135.2" y="1206" width="5.6" height="77" rx="2" fill="#f00"/>
<path d="M126.2 1281 L149.8 1281 L138 1305 Z" fill="#f00"/>
<rect x="140" y="1605.5" width="717" height="567.5" fill="none" stroke="#7a7a7a" stroke-width="2.3"/>
<line x1="140" y1="2173" x2="146" y2="2173" stroke="#7a7a7a" stroke-width="2"/>
<line x1="857" y1="2173" x2="851" y2="2173" stroke="#7a7a7a" stroke-width="2"/>
<text transform="translate(129.5 2182) scale(1.0 1)" font-size="21.5" fill="#333333" text-anchor="end">7.5</text>
<line x1="140" y1="2059.5" x2="146" y2="2059.5" stroke="#7a7a7a" stroke-width="2"/>
<line x1="857" y1="2059.5" x2="851" y2="2059.5" stroke="#7a7a7a" stroke-width="2"/>
<text transform="translate(129.5 2068.5) scale(1.0 1)" font-size="21.5" fill="#333333" text-anchor="end">8</text>
<line x1="140" y1="1946" x2="146" y2="1946" stroke="#7a7a7a" stroke-width="2"/>
<line x1="857" y1="1946" x2="851" y2="1946" stroke="#7a7a7a" stroke-width="2"/>
<text transform="translate(129.5 1955) scale(1.0 1)" font-size="21.5" fill="#333333" text-anchor="end">8.5</text>
<line x1="140" y1="1832.5" x2="146" y2="1832.5" stroke="#7a7a7a" stroke-width="2"/>
<line x1="857" y1="1832.5" x2="851" y2="1832.5" stroke="#7a7a7a" stroke-width="2"/>
<text transform="translate(129.5 1841.5) scale(1.0 1)" font-size="21.5" fill="#333333" text-anchor="end">9</text>
<line x1="140" y1="1719" x2="146" y2="1719" stroke="#7a7a7a" stroke-width="2"/>
<line x1="857" y1="1719" x2="851" y2="1719" stroke="#7a7a7a" stroke-width="2"/>
<text transform="translate(129.5 1728) scale(1.0 1)" font-size="21.5" fill="#333333" text-anchor="end">9.5</text>
<line x1="140" y1="1605.5" x2="146" y2="1605.5" stroke="#7a7a7a" stroke-width="2"/>
<line x1="857" y1="1605.5" x2="851" y2="1605.5" stroke="#7a7a7a" stroke-width="2"/>
<text transform="translate(129.5 1614.5) scale(1.0 1)" font-size="21.5" fill="#333333" text-anchor="end">10</text>
<line x1="140" y1="2173" x2="140" y2="2167" stroke="#7a7a7a" stroke-width="2"/>
<line x1="140" y1="1605.5" x2="140" y2="1611.5" stroke="#7a7a7a" stroke-width="2"/>
<text transform="translate(140 2207.5) scale(1.0 1)" font-size="21.5" fill="#333333" text-anchor="middle">1</text>
<line x1="219.7" y1="2173" x2="219.7" y2="2167" stroke="#7a7a7a" stroke-width="2"/>
<line x1="219.7" y1="1605.5" x2="219.7" y2="1611.5" stroke="#7a7a7a" stroke-width="2"/>
<text transform="translate(219.7 2207.5) scale(1.0 1)" font-size="21.5" fill="#333333" text-anchor="middle">2</text>
<line x1="299.3" y1="2173" x2="299.3" y2="2167" stroke="#7a7a7a" stroke-width="2"/>
<line x1="299.3" y1="1605.5" x2="299.3" y2="1611.5" stroke="#7a7a7a" stroke-width="2"/>
<text transform="translate(299.3 2207.5) scale(1.0 1)" font-size="21.5" fill="#333333" text-anchor="middle">3</text>
<line x1="379" y1="2173" x2="379" y2="2167" stroke="#7a7a7a" stroke-width="2"/>
<line x1="379" y1="1605.5" x2="379" y2="1611.5" stroke="#7a7a7a" stroke-width="2"/>
<text transform="translate(379 2207.5) scale(1.0 1)" font-size="21.5" fill="#333333" text-anchor="middle">4</text>
<line x1="458.7" y1="2173" x2="458.7" y2="2167" stroke="#7a7a7a" stroke-width="2"/>
<line x1="458.7" y1="1605.5" x2="458.7" y2="1611.5" stroke="#7a7a7a" stroke-width="2"/>
<text transform="translate(458.7 2207.5) scale(1.0 1)" font-size="21.5" fill="#333333" text-anchor="middle">5</text>
<line x1="538.3" y1="2173" x2="538.3" y2="2167" stroke="#7a7a7a" stroke-width="2"/>
<line x1="538.3" y1="1605.5" x2="538.3" y2="1611.5" stroke="#7a7a7a" stroke-width="2"/>
<text transform="translate(538.3 2207.5) scale(1.0 1)" font-size="21.5" fill="#333333" text-anchor="middle">6</text>
<line x1="618" y1="2173" x2="618" y2="2167" stroke="#7a7a7a" stroke-width="2"/>
<line x1="618" y1="1605.5" x2="618" y2="1611.5" stroke="#7a7a7a" stroke-width="2"/>
<text transform="translate(618 2207.5) scale(1.0 1)" font-size="21.5" fill="#333333" text-anchor="middle">7</text>
<line x1="697.7" y1="2173" x2="697.7" y2="2167" stroke="#7a7a7a" stroke-width="2"/>
<line x1="697.7" y1="1605.5" x2="697.7" y2="1611.5" stroke="#7a7a7a" stroke-width="2"/>
<text transform="translate(697.7 2207.5) scale(1.0 1)" font-size="21.5" fill="#333333" text-anchor="middle">8</text>
<line x1="777.3" y1="2173" x2="777.3" y2="2167" stroke="#7a7a7a" stroke-width="2"/>
<line x1="777.3" y1="1605.5" x2="777.3" y2="1611.5" stroke="#7a7a7a" stroke-width="2"/>
<text transform="translate(777.3 2207.5) scale(1.0 1)" font-size="21.5" fill="#333333" text-anchor="middle">9</text>
<line x1="857" y1="2173" x2="857" y2="2167" stroke="#7a7a7a" stroke-width="2"/>
<line x1="857" y1="1605.5" x2="857" y2="1611.5" stroke="#7a7a7a" stroke-width="2"/>
<text transform="translate(857 2207.5) scale(1.0 1)" font-size="21.5" fill="#333333" text-anchor="middle">10</text>
<text x="374" y="2238.5" font-size="22.3" fill="#2a2a2a" textLength="249" lengthAdjust="spacingAndGlyphs">Number of components</text>
<text transform="translate(88.5 1889.2) rotate(-90)" font-size="22.3" fill="#2a2a2a" x="-225" textLength="450" lengthAdjust="spacingAndGlyphs">Estimated Mean Squared Prediction Error</text>
<polyline points="140,2127.6 219.7,2141.7 299.3,2086.5 379,2063.4 458.7,1975.1 538.3,1867 618,1810.7 697.7,1698.8 777.3,1667.2 857,1612.1" fill="none" stroke="#5050f0" stroke-width="2"/>
<circle cx="140" cy="2127.6" r="6.5" fill="none" stroke="#5050f0" stroke-width="1.8"/>
<circle cx="219.7" cy="2141.7" r="6.5" fill="none" stroke="#5050f0" stroke-width="1.8"/>
<circle cx="299.3" cy="2086.5" r="6.5" fill="none" stroke="#5050f0" stroke-width="1.8"/>
<circle cx="379" cy="2063.4" r="6.5" fill="none" stroke="#5050f0" stroke-width="1.8"/>
<circle cx="458.7" cy="1975.1" r="6.5" fill="none" stroke="#5050f0" stroke-width="1.8"/>
<circle cx="538.3" cy="1867" r="6.5" fill="none" stroke="#5050f0" stroke-width="1.8"/>
<circle cx="618" cy="1810.7" r="6.5" fill="none" stroke="#5050f0" stroke-width="1.8"/>
<circle cx="697.7" cy="1698.8" r="6.5" fill="none" stroke="#5050f0" stroke-width="1.8"/>
<circle cx="777.3" cy="1667.2" r="6.5" fill="none" stroke="#5050f0" stroke-width="1.8"/>
<circle cx="857" cy="1612.1" r="6.5" fill="none" stroke="#5050f0" stroke-width="1.8"/>
<rect x="215.9" y="2040" width="5.6" height="76" rx="2" fill="#f00"/>
<path d="M206.9 2114 L230.5 2114 L218.7 2136 Z" fill="#f00"/>
<rect x="2076" y="769" width="732" height="578" fill="none" stroke="#7a7a7a" stroke-width="2.3"/>
<line x1="2076" y1="1347" x2="2082" y2="1347" stroke="#7a7a7a" stroke-width="2"/>
<line x1="2808" y1="1347" x2="2802" y2="1347" stroke="#7a7a7a" stroke-width="2"/>
<text transform="translate(2065.5 1356) scale(1.0 1)" font-size="21.5" fill="#333333" text-anchor="end">8</text>
<line x1="2076" y1="1274.8" x2="2082" y2="1274.8" stroke="#7a7a7a" stroke-width="2"/>
<line x1="2808" y1="1274.8" x2="2802" y2="1274.8" stroke="#7a7a7a" stroke-width="2"/>
<text transform="translate(2065.5 1283.8) scale(1.0 1)" font-size="21.5" fill="#333333" text-anchor="end">8.2</text>
<line x1="2076" y1="1202.5" x2="2082" y2="1202.5" stroke="#7a7a7a" stroke-width="2"/>
<line x1="2808" y1="1202.5" x2="2802" y2="1202.5" stroke="#7a7a7a" stroke-width="2"/>
<text transform="translate(2065.5 1211.5) scale(1.0 1)" font-size="21.5" fill="#333333" text-anchor="end">8.4</text>
<line x1="2076" y1="1130.2" x2="2082" y2="1130.2" stroke="#7a7a7a" stroke-width="2"/>
<line x1="2808" y1="1130.2" x2="2802" y2="1130.2" stroke="#7a7a7a" stroke-width="2"/>
<text transform="translate(2065.5 1139.2) scale(1.0 1)" font-size="21.5" fill="#333333" text-anchor="end">8.6</text>
<line x1="2076" y1="1058" x2="2082" y2="1058" stroke="#7a7a7a" stroke-width="2"/>
<line x1="2808" y1="1058" x2="2802" y2="1058" stroke="#7a7a7a" stroke-width="2"/>
<text transform="translate(2065.5 1067) scale(1.0 1)" font-size="21.5" fill="#333333" text-anchor="end">8.8</text>
<line x1="2076" y1="985.8" x2="2082" y2="985.8" stroke="#7a7a7a" stroke-width="2"/>
<line x1="2808" y1="985.8" x2="2802" y2="985.8" stroke="#7a7a7a" stroke-width="2"/>
<text transform="translate(2065.5 994.8) scale(1.0 1)" font-size="21.5" fill="#333333" text-anchor="end">9</text>
<line x1="2076" y1="913.5" x2="2082" y2="913.5" stroke="#7a7a7a" stroke-width="2"/>
<line x1="2808" y1="913.5" x2="2802" y2="913.5" stroke="#7a7a7a" stroke-width="2"/>
<text transform="translate(2065.5 922.5) scale(1.0 1)" font-size="21.5" fill="#333333" text-anchor="end">9.2</text>
<line x1="2076" y1="841.2" x2="2082" y2="841.2" stroke="#7a7a7a" stroke-width="2"/>
<line x1="2808" y1="841.2" x2="2802" y2="841.2" stroke="#7a7a7a" stroke-width="2"/>
<text transform="translate(2065.5 850.2) scale(1.0 1)" font-size="21.5" fill="#333333" text-anchor="end">9.4</text>
<line x1="2076" y1="769" x2="2082" y2="769" stroke="#7a7a7a" stroke-width="2"/>
<line x1="2808" y1="769" x2="2802" y2="769" stroke="#7a7a7a" stroke-width="2"/>
<text transform="translate(2065.5 778) scale(1.0 1)" font-size="21.5" fill="#333333" text-anchor="end">9.6</text>
<line x1="2076" y1="1347" x2="2076" y2="1341" stroke="#7a7a7a" stroke-width="2"/>
<line x1="2076" y1="769" x2="2076" y2="775" stroke="#7a7a7a" stroke-width="2"/>
<text transform="translate(2076 1381.5) scale(1.0 1)" font-size="21.5" fill="#333333" text-anchor="middle">1</text>
<line x1="2157.3" y1="1347" x2="2157.3" y2="1341" stroke="#7a7a7a" stroke-width="2"/>
<line x1="2157.3" y1="769" x2="2157.3" y2="775" stroke="#7a7a7a" stroke-width="2"/>
<text transform="translate(2157.3 1381.5) scale(1.0 1)" font-size="21.5" fill="#333333" text-anchor="middle">2</text>
<line x1="2238.7" y1="1347" x2="2238.7" y2="1341" stroke="#7a7a7a" stroke-width="2"/>
<line x1="2238.7" y1="769" x2="2238.7" y2="775" stroke="#7a7a7a" stroke-width="2"/>
<text transform="translate(2238.7 1381.5) scale(1.0 1)" font-size="21.5" fill="#333333" text-anchor="middle">3</text>
<line x1="2320" y1="1347" x2="2320" y2="1341" stroke="#7a7a7a" stroke-width="2"/>
<line x1="2320" y1="769" x2="2320" y2="775" stroke="#7a7a7a" stroke-width="2"/>
<text transform="translate(2320 1381.5) scale(1.0 1)" font-size="21.5" fill="#333333" text-anchor="middle">4</text>
<line x1="2401.3" y1="1347" x2="2401.3" y2="1341" stroke="#7a7a7a" stroke-width="2"/>
<line x1="2401.3" y1="769" x2="2401.3" y2="775" stroke="#7a7a7a" stroke-width="2"/>
<text transform="translate(2401.3 1381.5) scale(1.0 1)" font-size="21.5" fill="#333333" text-anchor="middle">5</text>
<line x1="2482.7" y1="1347" x2="2482.7" y2="1341" stroke="#7a7a7a" stroke-width="2"/>
<line x1="2482.7" y1="769" x2="2482.7" y2="775" stroke="#7a7a7a" stroke-width="2"/>
<text transform="translate(2482.7 1381.5) scale(1.0 1)" font-size="21.5" fill="#333333" text-anchor="middle">6</text>
<line x1="2564" y1="1347" x2="2564" y2="1341" stroke="#7a7a7a" stroke-width="2"/>
<line x1="2564" y1="769" x2="2564" y2="775" stroke="#7a7a7a" stroke-width="2"/>
<text transform="translate(2564 1381.5) scale(1.0 1)" font-size="21.5" fill="#333333" text-anchor="middle">7</text>
<line x1="2645.3" y1="1347" x2="2645.3" y2="1341" stroke="#7a7a7a" stroke-width="2"/>
<line x1="2645.3" y1="769" x2="2645.3" y2="775" stroke="#7a7a7a" stroke-width="2"/>
<text transform="translate(2645.3 1381.5) scale(1.0 1)" font-size="21.5" fill="#333333" text-anchor="middle">8</text>
<line x1="2726.7" y1="1347" x2="2726.7" y2="1341" stroke="#7a7a7a" stroke-width="2"/>
<line x1="2726.7" y1="769" x2="2726.7" y2="775" stroke="#7a7a7a" stroke-width="2"/>
<text transform="translate(2726.7 1381.5) scale(1.0 1)" font-size="21.5" fill="#333333" text-anchor="middle">9</text>
<line x1="2808" y1="1347" x2="2808" y2="1341" stroke="#7a7a7a" stroke-width="2"/>
<line x1="2808" y1="769" x2="2808" y2="775" stroke="#7a7a7a" stroke-width="2"/>
<text transform="translate(2808 1381.5) scale(1.0 1)" font-size="21.5" fill="#333333" text-anchor="middle">10</text>
<text x="2314" y="1412.5" font-size="22.3" fill="#2a2a2a" textLength="256" lengthAdjust="spacingAndGlyphs">Number of components</text>
<text transform="translate(2024 1058) rotate(-90)" font-size="22.3" fill="#2a2a2a" x="-229" textLength="458" lengthAdjust="spacingAndGlyphs">Estimated Mean Squared Prediction Error</text>
<polyline points="2076,1300 2157.3,1163.8 2238.7,1277.3 2320,1322.4 2401.3,1116.9 2482.7,1083.6 2564,1063.8 2645.3,917.8 2726.7,853.2 2808,783.4" fill="none" stroke="#5050f0" stroke-width="2"/>
<circle cx="2076" cy="1300" r="6.5" fill="none" stroke="#5050f0" stroke-width="1.8"/>
<circle cx="2157.3" cy="1163.8" r="6.5" fill="none" stroke="#5050f0" stroke-width="1.8"/>
<circle cx="2238.7" cy="1277.3" r="6.5" fill="none" stroke="#5050f0" stroke-width="1.8"/>
<circle cx="2320" cy="1322.4" r="6.5" fill="none" stroke="#5050f0" stroke-width="1.8"/>
<circle cx="2401.3" cy="1116.9" r="6.5" fill="none" stroke="#5050f0" stroke-width="1.8"/>
<circle cx="2482.7" cy="1083.6" r="6.5" fill="none" stroke="#5050f0" stroke-width="1.8"/>
<circle cx="2564" cy="1063.8" r="6.5" fill="none" stroke="#5050f0" stroke-width="1.8"/>
<circle cx="2645.3" cy="917.8" r="6.5" fill="none" stroke="#5050f0" stroke-width="1.8"/>
<circle cx="2726.7" cy="853.2" r="6.5" fill="none" stroke="#5050f0" stroke-width="1.8"/>
<circle cx="2808" cy="783.4" r="6.5" fill="none" stroke="#5050f0" stroke-width="1.8"/>
<rect x="2316.2" y="1197" width="5.6" height="74" rx="2" fill="#f00"/>
<path d="M2307.2 1269 L2330.8 1269 L2319 1294 Z" fill="#f00"/>
<rect x="2081" y="1602" width="723" height="570" fill="none" stroke="#7a7a7a" stroke-width="2.3"/>
<line x1="2081" y1="2172" x2="2087" y2="2172" stroke="#7a7a7a" stroke-width="2"/>
<line x1="2804" y1="2172" x2="2798" y2="2172" stroke="#7a7a7a" stroke-width="2"/>
<text transform="translate(2070.5 2181) scale(1.0 1)" font-size="21.5" fill="#333333" text-anchor="end">7</text>
<line x1="2081" y1="2090.6" x2="2087" y2="2090.6" stroke="#7a7a7a" stroke-width="2"/>
<line x1="2804" y1="2090.6" x2="2798" y2="2090.6" stroke="#7a7a7a" stroke-width="2"/>
<text transform="translate(2070.5 2099.6) scale(1.0 1)" font-size="21.5" fill="#333333" text-anchor="end">7.5</text>
<line x1="2081" y1="2009.1" x2="2087" y2="2009.1" stroke="#7a7a7a" stroke-width="2"/>
<line x1="2804" y1="2009.1" x2="2798" y2="2009.1" stroke="#7a7a7a" stroke-width="2"/>
<text transform="translate(2070.5 2018.1) scale(1.0 1)" font-size="21.5" fill="#333333" text-anchor="end">8</text>
<line x1="2081" y1="1927.7" x2="2087" y2="1927.7" stroke="#7a7a7a" stroke-width="2"/>
<line x1="2804" y1="1927.7" x2="2798" y2="1927.7" stroke="#7a7a7a" stroke-width="2"/>
<text transform="translate(2070.5 1936.7) scale(1.0 1)" font-size="21.5" fill="#333333" text-anchor="end">8.5</text>
<line x1="2081" y1="1846.3" x2="2087" y2="1846.3" stroke="#7a7a7a" stroke-width="2"/>
<line x1="2804" y1="1846.3" x2="2798" y2="1846.3" stroke="#7a7a7a" stroke-width="2"/>
<text transform="translate(2070.5 1855.3) scale(1.0 1)" font-size="21.5" fill="#333333" text-anchor="end">9</text>
<line x1="2081" y1="1764.9" x2="2087" y2="1764.9" stroke="#7a7a7a" stroke-width="2"/>
<line x1="2804" y1="1764.9" x2="2798" y2="1764.9" stroke="#7a7a7a" stroke-width="2"/>
<text transform="translate(2070.5 1773.9) scale(1.0 1)" font-size="21.5" fill="#333333" text-anchor="end">9.5</text>
<line x1="2081" y1="1683.4" x2="2087" y2="1683.4" stroke="#7a7a7a" stroke-width="2"/>
<line x1="2804" y1="1683.4" x2="2798" y2="1683.4" stroke="#7a7a7a" stroke-width="2"/>
<text transform="translate(2070.5 1692.4) scale(1.0 1)" font-size="21.5" fill="#333333" text-anchor="end">10</text>
<line x1="2081" y1="1602" x2="2087" y2="1602" stroke="#7a7a7a" stroke-width="2"/>
<line x1="2804" y1="1602" x2="2798" y2="1602" stroke="#7a7a7a" stroke-width="2"/>
<text transform="translate(2070.5 1611) scale(1.0 1)" font-size="21.5" fill="#333333" text-anchor="end">10.5</text>
<line x1="2081" y1="2172" x2="2081" y2="2166" stroke="#7a7a7a" stroke-width="2"/>
<line x1="2081" y1="1602" x2="2081" y2="1608" stroke="#7a7a7a" stroke-width="2"/>
<text transform="translate(2081 2206.5) scale(1.0 1)" font-size="21.5" fill="#333333" text-anchor="middle">1</text>
<line x1="2161.3" y1="2172" x2="2161.3" y2="2166" stroke="#7a7a7a" stroke-width="2"/>
<line x1="2161.3" y1="1602" x2="2161.3" y2="1608" stroke="#7a7a7a" stroke-width="2"/>
<text transform="translate(2161.3 2206.5) scale(1.0 1)" font-size="21.5" fill="#333333" text-anchor="middle">2</text>
<line x1="2241.7" y1="2172" x2="2241.7" y2="2166" stroke="#7a7a7a" stroke-width="2"/>
<line x1="2241.7" y1="1602" x2="2241.7" y2="1608" stroke="#7a7a7a" stroke-width="2"/>
<text transform="translate(2241.7 2206.5) scale(1.0 1)" font-size="21.5" fill="#333333" text-anchor="middle">3</text>
<line x1="2322" y1="2172" x2="2322" y2="2166" stroke="#7a7a7a" stroke-width="2"/>
<line x1="2322" y1="1602" x2="2322" y2="1608" stroke="#7a7a7a" stroke-width="2"/>
<text transform="translate(2322 2206.5) scale(1.0 1)" font-size="21.5" fill="#333333" text-anchor="middle">4</text>
<line x1="2402.3" y1="2172" x2="2402.3" y2="2166" stroke="#7a7a7a" stroke-width="2"/>
<line x1="2402.3" y1="1602" x2="2402.3" y2="1608" stroke="#7a7a7a" stroke-width="2"/>
<text transform="translate(2402.3 2206.5) scale(1.0 1)" font-size="21.5" fill="#333333" text-anchor="middle">5</text>
<line x1="2482.7" y1="2172" x2="2482.7" y2="2166" stroke="#7a7a7a" stroke-width="2"/>
<line x1="2482.7" y1="1602" x2="2482.7" y2="1608" stroke="#7a7a7a" stroke-width="2"/>
<text transform="translate(2482.7 2206.5) scale(1.0 1)" font-size="21.5" fill="#333333" text-anchor="middle">6</text>
<line x1="2563" y1="2172" x2="2563" y2="2166" stroke="#7a7a7a" stroke-width="2"/>
<line x1="2563" y1="1602" x2="2563" y2="1608" stroke="#7a7a7a" stroke-width="2"/>
<text transform="translate(2563 2206.5) scale(1.0 1)" font-size="21.5" fill="#333333" text-anchor="middle">7</text>
<line x1="2643.3" y1="2172" x2="2643.3" y2="2166" stroke="#7a7a7a" stroke-width="2"/>
<line x1="2643.3" y1="1602" x2="2643.3" y2="1608" stroke="#7a7a7a" stroke-width="2"/>
<text transform="translate(2643.3 2206.5) scale(1.0 1)" font-size="21.5" fill="#333333" text-anchor="middle">8</text>
<line x1="2723.7" y1="2172" x2="2723.7" y2="2166" stroke="#7a7a7a" stroke-width="2"/>
<line x1="2723.7" y1="1602" x2="2723.7" y2="1608" stroke="#7a7a7a" stroke-width="2"/>
<text transform="translate(2723.7 2206.5) scale(1.0 1)" font-size="21.5" fill="#333333" text-anchor="middle">9</text>
<line x1="2804" y1="2172" x2="2804" y2="2166" stroke="#7a7a7a" stroke-width="2"/>
<line x1="2804" y1="1602" x2="2804" y2="1608" stroke="#7a7a7a" stroke-width="2"/>
<text transform="translate(2804 2206.5) scale(1.0 1)" font-size="21.5" fill="#333333" text-anchor="middle">10</text>
<text x="2317" y="2237.5" font-size="22.3" fill="#2a2a2a" textLength="251" lengthAdjust="spacingAndGlyphs">Number of components</text>
<text transform="translate(2017 1887) rotate(-90)" font-size="22.3" fill="#2a2a2a" x="-226" textLength="452" lengthAdjust="spacingAndGlyphs">Estimated Mean Squared Prediction Error</text>
<polyline points="2081,2120.7 2161.3,2044 2241.7,1959.6 2322,1864.2 2402.3,1825.4 2482.7,1817.8 2563,1729 2643.3,1682 2723.7,1653.3 2804,1621.4" fill="none" stroke="#5050f0" stroke-width="2"/>
<circle cx="2081" cy="2120.7" r="6.5" fill="none" stroke="#5050f0" stroke-width="1.8"/>
<circle cx="2161.3" cy="2044" r="6.5" fill="none" stroke="#5050f0" stroke-width="1.8"/>
<circle cx="2241.7" cy="1959.6" r="6.5" fill="none" stroke="#5050f0" stroke-width="1.8"/>
<circle cx="2322" cy="1864.2" r="6.5" fill="none" stroke="#5050f0" stroke-width="1.8"/>
<circle cx="2402.3" cy="1825.4" r="6.5" fill="none" stroke="#5050f0" stroke-width="1.8"/>
<circle cx="2482.7" cy="1817.8" r="6.5" fill="none" stroke="#5050f0" stroke-width="1.8"/>
<circle cx="2563" cy="1729" r="6.5" fill="none" stroke="#5050f0" stroke-width="1.8"/>
<circle cx="2643.3" cy="1682" r="6.5" fill="none" stroke="#5050f0" stroke-width="1.8"/>
<circle cx="2723.7" cy="1653.3" r="6.5" fill="none" stroke="#5050f0" stroke-width="1.8"/>
<circle cx="2804" cy="1621.4" r="6.5" fill="none" stroke="#5050f0" stroke-width="1.8"/>
<rect x="2077.2" y="2022" width="5.6" height="75" rx="2" fill="#f00"/>
<path d="M2068.2 2095 L2091.8 2095 L2080 2117 Z" fill="#f00"/>
<rect x="1003.6" y="772" width="731.7" height="578" fill="none" stroke="#7a7a7a" stroke-width="2.3"/>
<line x1="1003.6" y1="1350" x2="1009.6" y2="1350" stroke="#7a7a7a" stroke-width="2"/>
<line x1="1735.3" y1="1350" x2="1729.3" y2="1350" stroke="#7a7a7a" stroke-width="2"/>
<text transform="translate(994.1 1358.5) scale(1.0 1)" font-size="21.5" fill="#333333" text-anchor="end">-0.6</text>
<line x1="1003.6" y1="1285.8" x2="1009.6" y2="1285.8" stroke="#7a7a7a" stroke-width="2"/>
<line x1="1735.3" y1="1285.8" x2="1729.3" y2="1285.8" stroke="#7a7a7a" stroke-width="2"/>
<text transform="translate(994.1 1294.3) scale(1.0 1)" font-size="21.5" fill="#333333" text-anchor="end">-0.4</text>
<line x1="1003.6" y1="1221.6" x2="1009.6" y2="1221.6" stroke="#7a7a7a" stroke-width="2"/>
<line x1="1735.3" y1="1221.6" x2="1729.3" y2="1221.6" stroke="#7a7a7a" stroke-width="2"/>
<text transform="translate(994.1 1230.1) scale(1.0 1)" font-size="21.5" fill="#333333" text-anchor="end">-0.2</text>
<line x1="1003.6" y1="1157.3" x2="1009.6" y2="1157.3" stroke="#7a7a7a" stroke-width="2"/>
<line x1="1735.3" y1="1157.3" x2="1729.3" y2="1157.3" stroke="#7a7a7a" stroke-width="2"/>
<text transform="translate(994.1 1165.8) scale(1.0 1)" font-size="21.5" fill="#333333" text-anchor="end">0</text>
<line x1="1003.6" y1="1093.1" x2="1009.6" y2="1093.1" stroke="#7a7a7a" stroke-width="2"/>
<line x1="1735.3" y1="1093.1" x2="1729.3" y2="1093.1" stroke="#7a7a7a" stroke-width="2"/>
<text transform="translate(994.1 1101.6) scale(1.0 1)" font-size="21.5" fill="#333333" text-anchor="end">0.2</text>
<line x1="1003.6" y1="1028.9" x2="1009.6" y2="1028.9" stroke="#7a7a7a" stroke-width="2"/>
<line x1="1735.3" y1="1028.9" x2="1729.3" y2="1028.9" stroke="#7a7a7a" stroke-width="2"/>
<text transform="translate(994.1 1037.4) scale(1.0 1)" font-size="21.5" fill="#333333" text-anchor="end">0.4</text>
<line x1="1003.6" y1="964.7" x2="1009.6" y2="964.7" stroke="#7a7a7a" stroke-width="2"/>
<line x1="1735.3" y1="964.7" x2="1729.3" y2="964.7" stroke="#7a7a7a" stroke-width="2"/>
<text transform="translate(994.1 973.2) scale(1.0 1)" font-size="21.5" fill="#333333" text-anchor="end">0.6</text>
<line x1="1003.6" y1="900.4" x2="1009.6" y2="900.4" stroke="#7a7a7a" stroke-width="2"/>
<line x1="1735.3" y1="900.4" x2="1729.3" y2="900.4" stroke="#7a7a7a" stroke-width="2"/>
<text transform="translate(994.1 908.9) scale(1.0 1)" font-size="21.5" fill="#333333" text-anchor="end">0.8</text>
<line x1="1003.6" y1="836.2" x2="1009.6" y2="836.2" stroke="#7a7a7a" stroke-width="2"/>
<line x1="1735.3" y1="836.2" x2="1729.3" y2="836.2" stroke="#7a7a7a" stroke-width="2"/>
<text transform="translate(994.1 844.7) scale(1.0 1)" font-size="21.5" fill="#333333" text-anchor="end">1</text>
<line x1="1003.6" y1="772" x2="1009.6" y2="772" stroke="#7a7a7a" stroke-width="2"/>
<line x1="1735.3" y1="772" x2="1729.3" y2="772" stroke="#7a7a7a" stroke-width="2"/>
<text transform="translate(994.1 780.5) scale(1.0 1)" font-size="21.5" fill="#333333" text-anchor="end">1.2</text>
<line x1="1003.6" y1="1350" x2="1003.6" y2="1344" stroke="#7a7a7a" stroke-width="2"/>
<line x1="1003.6" y1="772" x2="1003.6" y2="778" stroke="#7a7a7a" stroke-width="2"/>
<text transform="translate(1003.6 1385) scale(1.0 1)" font-size="21.5" fill="#333333" text-anchor="middle">-4</text>
<line x1="1108.1" y1="1350" x2="1108.1" y2="1344" stroke="#7a7a7a" stroke-width="2"/>
<line x1="1108.1" y1="772" x2="1108.1" y2="778" stroke="#7a7a7a" stroke-width="2"/>
<text transform="translate(1108.1 1385) scale(1.0 1)" font-size="21.5" fill="#333333" text-anchor="middle">-3</text>
<line x1="1212.7" y1="1350" x2="1212.7" y2="1344" stroke="#7a7a7a" stroke-width="2"/>
<line x1="1212.7" y1="772" x2="1212.7" y2="778" stroke="#7a7a7a" stroke-width="2"/>
<text transform="translate(1212.7 1385) scale(1.0 1)" font-size="21.5" fill="#333333" text-anchor="middle">-2</text>
<line x1="1317.2" y1="1350" x2="1317.2" y2="1344" stroke="#7a7a7a" stroke-width="2"/>
<line x1="1317.2" y1="772" x2="1317.2" y2="778" stroke="#7a7a7a" stroke-width="2"/>
<text transform="translate(1317.2 1385) scale(1.0 1)" font-size="21.5" fill="#333333" text-anchor="middle">-1</text>
<line x1="1421.7" y1="1350" x2="1421.7" y2="1344" stroke="#7a7a7a" stroke-width="2"/>
<line x1="1421.7" y1="772" x2="1421.7" y2="778" stroke="#7a7a7a" stroke-width="2"/>
<text transform="translate(1421.7 1385) scale(1.0 1)" font-size="21.5" fill="#333333" text-anchor="middle">0</text>
<line x1="1526.2" y1="1350" x2="1526.2" y2="1344" stroke="#7a7a7a" stroke-width="2"/>
<line x1="1526.2" y1="772" x2="1526.2" y2="778" stroke="#7a7a7a" stroke-width="2"/>
<text transform="translate(1526.2 1385) scale(1.0 1)" font-size="21.5" fill="#333333" text-anchor="middle">1</text>
<line x1="1630.8" y1="1350" x2="1630.8" y2="1344" stroke="#7a7a7a" stroke-width="2"/>
<line x1="1630.8" y1="772" x2="1630.8" y2="778" stroke="#7a7a7a" stroke-width="2"/>
<text transform="translate(1630.8 1385) scale(1.0 1)" font-size="21.5" fill="#333333" text-anchor="middle">2</text>
<line x1="1735.3" y1="1350" x2="1735.3" y2="1344" stroke="#7a7a7a" stroke-width="2"/>
<line x1="1735.3" y1="772" x2="1735.3" y2="778" stroke="#7a7a7a" stroke-width="2"/>
<text transform="translate(1735.3 1385) scale(1.0 1)" font-size="21.5" fill="#333333" text-anchor="middle">3</text>
<text x="1257.5" y="1415.5" font-size="22.3" fill="#2a2a2a" textLength="224" lengthAdjust="spacingAndGlyphs">Observed Response</text>
<text transform="translate(943.6 1061) rotate(-90)" font-size="22.3" fill="#2a2a2a" x="-89.5" textLength="179" lengthAdjust="spacingAndGlyphs">Fitted Response</text>
<line x1="1359.3" y1="1350" x2="1514.8" y2="868.1" stroke="#f06060" stroke-width="1.8"/>
<g fill="none" stroke="#3030ff" stroke-width="2.2" stroke-opacity="0.68">
<circle cx="1078.1" cy="1194.6" r="7.2"/>
<circle cx="1245.3" cy="1087.7" r="7.2"/>
<circle cx="1287.2" cy="1035.8" r="7.2"/>
<circle cx="1298.1" cy="1062.7" r="7.2"/>
<circle cx="1294.8" cy="1259.2" r="7.2"/>
<circle cx="1347.5" cy="1049.5" r="7.2"/>
<circle cx="1347.5" cy="1068.8" r="7.2"/>
<circle cx="1349.9" cy="1069.8" r="7.2"/>
<circle cx="1357" cy="1079.2" r="7.2"/>
<circle cx="1365.4" cy="1073.5" r="7.2"/>
<circle cx="1347.5" cy="1262.9" r="7.2"/>
<circle cx="1347.5" cy="1281.8" r="7.2"/>
<circle cx="1345.2" cy="1284.1" r="7.2"/>
<circle cx="1359.3" cy="1284.1" r="7.2"/>
<circle cx="1357" cy="1312.4" r="7.2"/>
<circle cx="1347.5" cy="1331.2" r="7.2"/>
<circle cx="1359.3" cy="1246.4" r="7.2"/>
<circle cx="1357" cy="1251.1" r="7.2"/>
<circle cx="1389.9" cy="1270" r="7.2"/>
<circle cx="1404.1" cy="1270" r="7.2"/>
<circle cx="1389" cy="864.8" r="7.2"/>
<circle cx="1419.6" cy="988.7" r="7.2"/>
<circle cx="1444.1" cy="1089.6" r="7.2"/>
<circle cx="1453.5" cy="968.5" r="7.2"/>
<circle cx="1454.5" cy="992" r="7.2"/>
<circle cx="1452.1" cy="1010.9" r="7.2"/>
<circle cx="1463" cy="946.3" r="7.2"/>
<circle cx="1452.1" cy="1048.6" r="7.2"/>
<circle cx="1452.1" cy="1059.4" r="7.2"/>
<circle cx="1451.2" cy="1062.7" r="7.2"/>
<circle cx="1479.5" cy="1142.8" r="7.2"/>
<circle cx="1481.8" cy="1161.6" r="7.2"/>
<circle cx="1479.5" cy="1173.4" r="7.2"/>
<circle cx="1488.9" cy="1131" r="7.2"/>
<circle cx="1491.2" cy="1180.5" r="7.2"/>
<circle cx="1481.8" cy="1187.5" r="7.2"/>
<circle cx="1479.5" cy="1222.9" r="7.2"/>
<circle cx="1484.2" cy="1271.4" r="7.2"/>
<circle cx="1510.1" cy="1139.5" r="7.2"/>
<circle cx="1512.4" cy="1100.4" r="7.2"/>
<circle cx="1524.2" cy="1102.7" r="7.2"/>
<circle cx="1526.6" cy="1107.5" r="7.2"/>
<circle cx="1521.8" cy="1131" r="7.2"/>
<circle cx="1533.6" cy="1130.1" r="7.2"/>
<circle cx="1513.8" cy="1060.3" r="7.2"/>
<circle cx="1533.6" cy="1155.5" r="7.2"/>
<circle cx="1528.9" cy="1166.3" r="7.2"/>
<circle cx="1533.6" cy="1189.9" r="7.2"/>
<circle cx="1510.1" cy="1185.2" r="7.2"/>
<circle cx="1512.4" cy="1247.8" r="7.2"/>
<circle cx="1528.9" cy="1237" r="7.2"/>
<circle cx="1533.6" cy="1244.1" r="7.2"/>
<circle cx="1556.2" cy="829.5" r="7.2"/>
<circle cx="1556.2" cy="1072.1" r="7.2"/>
<circle cx="1538.3" cy="1109.8" r="7.2"/>
<circle cx="1552.5" cy="1161.6" r="7.2"/>
<circle cx="1557.2" cy="1182.8" r="7.2"/>
<circle cx="1554.8" cy="1204" r="7.2"/>
<circle cx="1557.2" cy="1215.8" r="7.2"/>
<circle cx="1545.4" cy="1213.5" r="7.2"/>
<circle cx="1557.2" cy="1229.9" r="7.2"/>
<circle cx="1557.2" cy="1260.6" r="7.2"/>
<circle cx="1568" cy="1132" r="7.2"/>
<circle cx="1578.4" cy="1171.1" r="7.2"/>
<circle cx="1578.4" cy="1205" r="7.2"/>
<circle cx="1594.9" cy="1114.5" r="7.2"/>
<circle cx="1597.2" cy="1189.9" r="7.2"/>
<circle cx="1601.9" cy="1163" r="7.2"/>
<circle cx="1605.2" cy="1088.6" r="7.2"/>
<circle cx="1609" cy="959.1" r="7.2"/>
<circle cx="1609" cy="1149.9" r="7.2"/>
<circle cx="1619.4" cy="1131" r="7.2"/>
<circle cx="1619.8" cy="1172.5" r="7.2"/>
<circle cx="1620.8" cy="1153.6" r="7.2"/>
<circle cx="1627.8" cy="1154.6" r="7.2"/>
<circle cx="1641" cy="1079.2" r="7.2"/>
<circle cx="1656.1" cy="1013.2" r="7.2"/>
<circle cx="1653.8" cy="1119.2" r="7.2"/>
<circle cx="1660.8" cy="1119.2" r="7.2"/>
<circle cx="1658.5" cy="1045.3" r="7.2"/>
<circle cx="1660.8" cy="934.6" r="7.2"/>
<circle cx="1671.2" cy="1081.5" r="7.2"/>
<circle cx="1672.6" cy="1166.3" r="7.2"/>
<circle cx="1684.4" cy="1136.7" r="7.2"/>
<circle cx="1684.4" cy="1148.9" r="7.2"/>
<circle cx="1684.4" cy="1160.2" r="7.2"/>
<circle cx="1704.2" cy="1189" r="7.2"/>
<circle cx="1245.4" cy="1093.2" r="7.2"/>
<circle cx="1444.5" cy="1093.2" r="7.2"/>
<circle cx="1346.6" cy="1099.7" r="7.2"/>
<circle cx="1377.8" cy="1099.7" r="7.2"/>
<circle cx="1437" cy="1099.7" r="7.2"/>
<circle cx="1444.5" cy="1106.1" r="7.2"/>
<circle cx="1304.6" cy="1112.6" r="7.2"/>
<circle cx="1346.6" cy="1115.8" r="7.2"/>
<circle cx="1356.3" cy="1115.8" r="7.2"/>
<circle cx="1423" cy="1115.8" r="7.2"/>
<circle cx="1461.7" cy="1115.8" r="7.2"/>
<circle cx="1326.1" cy="1120.1" r="7.2"/>
<circle cx="1374.6" cy="1127.7" r="7.2"/>
<circle cx="1388.5" cy="1127.7" r="7.2"/>
<circle cx="1403.6" cy="1135.2" r="7.2"/>
<circle cx="1443.4" cy="1135.2" r="7.2"/>
<circle cx="1277.7" cy="1138.4" r="7.2"/>
<circle cx="1346.6" cy="1138.4" r="7.2"/>
<circle cx="1361.6" cy="1138.4" r="7.2"/>
<circle cx="1443.4" cy="1143.8" r="7.2"/>
<circle cx="1324" cy="1147.1" r="7.2"/>
<circle cx="1372.4" cy="1147.1" r="7.2"/>
<circle cx="1395" cy="1147.1" r="7.2"/>
<circle cx="1469.3" cy="1147.1" r="7.2"/>
<circle cx="1268" cy="1151.4" r="7.2"/>
<circle cx="1420.8" cy="1151.4" r="7.2"/>
<circle cx="1372.4" cy="1154.6" r="7.2"/>
<circle cx="1278.8" cy="1160" r="7.2"/>
<circle cx="1319.7" cy="1160" r="7.2"/>
<circle cx="1346.6" cy="1160" r="7.2"/>
<circle cx="1358.4" cy="1160" r="7.2"/>
<circle cx="1392.9" cy="1160" r="7.2"/>
<circle cx="1420.8" cy="1160" r="7.2"/>
<circle cx="1454.2" cy="1160" r="7.2"/>
<circle cx="1476.8" cy="1160" r="7.2"/>
<circle cx="1268" cy="1163.2" r="7.2"/>
<circle cx="1346.6" cy="1165.3" r="7.2"/>
<circle cx="1371.3" cy="1165.3" r="7.2"/>
<circle cx="1401.5" cy="1165.3" r="7.2"/>
<circle cx="1278.8" cy="1171.8" r="7.2"/>
<circle cx="1358.4" cy="1171.8" r="7.2"/>
<circle cx="1346.6" cy="1176.1" r="7.2"/>
<circle cx="1392.9" cy="1176.1" r="7.2"/>
<circle cx="1443.4" cy="1176.1" r="7.2"/>
<circle cx="1471.4" cy="1176.1" r="7.2"/>
<circle cx="1311" cy="1179.3" r="7.2"/>
<circle cx="1326.1" cy="1179.3" r="7.2"/>
<circle cx="1377.8" cy="1183.6" r="7.2"/>
<circle cx="1423" cy="1183.6" r="7.2"/>
<circle cx="1443.4" cy="1183.6" r="7.2"/>
<circle cx="1261.5" cy="1186.9" r="7.2"/>
<circle cx="1279.8" cy="1186.9" r="7.2"/>
<circle cx="1315.3" cy="1186.9" r="7.2"/>
<circle cx="1326.1" cy="1190.1" r="7.2"/>
<circle cx="1346.6" cy="1190.1" r="7.2"/>
<circle cx="1443.4" cy="1192.3" r="7.2"/>
<circle cx="1270.1" cy="1195.5" r="7.2"/>
<circle cx="1361.6" cy="1195.5" r="7.2"/>
<circle cx="1423" cy="1195.5" r="7.2"/>
<circle cx="1461.7" cy="1199.8" r="7.2"/>
<circle cx="1306.7" cy="1203" r="7.2"/>
<circle cx="1324" cy="1203" r="7.2"/>
<circle cx="1423" cy="1203" r="7.2"/>
<circle cx="1270.1" cy="1206.3" r="7.2"/>
<circle cx="1279.8" cy="1208.4" r="7.2"/>
<circle cx="1346.6" cy="1208.4" r="7.2"/>
<circle cx="1358.4" cy="1208.4" r="7.2"/>
<circle cx="1423" cy="1213.8" r="7.2"/>
<circle cx="1460.7" cy="1213.8" r="7.2"/>
<circle cx="1346.6" cy="1219.2" r="7.2"/>
<circle cx="1374.6" cy="1219.2" r="7.2"/>
<circle cx="1389.6" cy="1219.2" r="7.2"/>
<circle cx="1466" cy="1221.3" r="7.2"/>
<circle cx="1358.4" cy="1225.6" r="7.2"/>
<circle cx="1346.6" cy="1229.9" r="7.2"/>
<circle cx="1378.9" cy="1229.9" r="7.2"/>
<circle cx="1444.5" cy="1229.9" r="7.2"/>
<circle cx="1452.1" cy="1235.3" r="7.2"/>
<circle cx="1397.2" cy="1239.6" r="7.2"/>
<circle cx="1358.4" cy="1245" r="7.2"/>
<circle cx="1349.2" cy="1095.7" r="7.2"/>
<circle cx="1346.3" cy="1107.6" r="7.2"/>
<circle cx="1347.2" cy="1114.8" r="7.2"/>
<circle cx="1348.9" cy="1124.3" r="7.2"/>
<circle cx="1345.1" cy="1130" r="7.2"/>
<circle cx="1347.2" cy="1142.5" r="7.2"/>
<circle cx="1345" cy="1150.8" r="7.2"/>
<circle cx="1348.6" cy="1157.8" r="7.2"/>
<circle cx="1349.7" cy="1165.3" r="7.2"/>
<circle cx="1345.2" cy="1177.4" r="7.2"/>
<circle cx="1347.7" cy="1181.5" r="7.2"/>
<circle cx="1346.9" cy="1194.9" r="7.2"/>
<circle cx="1347.1" cy="1199.8" r="7.2"/>
<circle cx="1346.1" cy="1207.4" r="7.2"/>
<circle cx="1347.5" cy="1218.2" r="7.2"/>
<circle cx="1346.2" cy="1225.8" r="7.2"/>
<circle cx="1347.3" cy="1234.3" r="7.2"/>
<circle cx="1345.1" cy="1243.3" r="7.2"/>
<circle cx="1347.8" cy="1254.8" r="7.2"/>
<circle cx="1345.9" cy="1262.4" r="7.2"/>
<circle cx="1349.3" cy="1272.9" r="7.2"/>
<circle cx="1346.7" cy="1277" r="7.2"/>
<circle cx="1445.1" cy="1093.8" r="7.2"/>
<circle cx="1443.6" cy="1103.7" r="7.2"/>
<circle cx="1444.9" cy="1111.9" r="7.2"/>
<circle cx="1444.4" cy="1117.8" r="7.2"/>
<circle cx="1445.7" cy="1129.6" r="7.2"/>
<circle cx="1444.4" cy="1136.4" r="7.2"/>
<circle cx="1442.7" cy="1142.7" r="7.2"/>
<circle cx="1443.6" cy="1155.4" r="7.2"/>
<circle cx="1444.2" cy="1160.9" r="7.2"/>
<circle cx="1444.9" cy="1172.4" r="7.2"/>
<circle cx="1443.7" cy="1179.5" r="7.2"/>
<circle cx="1445.4" cy="1188.9" r="7.2"/>
<circle cx="1420.1" cy="1118.1" r="7.2"/>
<circle cx="1418.2" cy="1127.9" r="7.2"/>
<circle cx="1421.6" cy="1135.3" r="7.2"/>
<circle cx="1421.1" cy="1150.9" r="7.2"/>
<circle cx="1419" cy="1157.4" r="7.2"/>
<circle cx="1423" cy="1168" r="7.2"/>
<circle cx="1420.8" cy="1179.6" r="7.2"/>
<circle cx="1419.3" cy="1190.2" r="7.2"/>
<circle cx="1422.9" cy="1198.1" r="7.2"/>
<circle cx="1420.4" cy="1208.5" r="7.2"/>
</g>
<g fill="#000" stroke="#000" stroke-width="0.45" font-size="31">
<text x="1075" y="808.3">R</text>
<text x="1099" y="792.3" font-size="21" stroke-width="0.6">2</text>
<text x="1117" y="808.3" textLength="106" lengthAdjust="spacingAndGlyphs">= 0.05</text>
<text x="1229" y="813.3" font-size="24">.</text>
<text x="1075" y="857.8" textLength="234" lengthAdjust="spacingAndGlyphs">F(1,32) = 1.44</text>
<text x="1315" y="862.8" font-size="24">.</text>
<text x="1075" y="907" font-style="italic">p</text>
<text x="1096" y="913" font-size="21" font-style="italic" textLength="45" lengthAdjust="spacingAndGlyphs">FDR</text>
<text x="1148" y="907" textLength="84" lengthAdjust="spacingAndGlyphs">= .24</text>
</g>
<rect x="994.7" y="1619.7" width="706.9" height="557.7" fill="none" stroke="#7a7a7a" stroke-width="2.3"/>
<line x1="994.7" y1="2177.4" x2="1000.7" y2="2177.4" stroke="#7a7a7a" stroke-width="2"/>
<line x1="1701.6" y1="2177.4" x2="1695.6" y2="2177.4" stroke="#7a7a7a" stroke-width="2"/>
<text transform="translate(985.2 2185.9) scale(1.0 1)" font-size="21.5" fill="#333333" text-anchor="end">-1</text>
<line x1="994.7" y1="2065.9" x2="1000.7" y2="2065.9" stroke="#7a7a7a" stroke-width="2"/>
<line x1="1701.6" y1="2065.9" x2="1695.6" y2="2065.9" stroke="#7a7a7a" stroke-width="2"/>
<text transform="translate(985.2 2074.4) scale(1.0 1)" font-size="21.5" fill="#333333" text-anchor="end">-0.5</text>
<line x1="994.7" y1="1954.3" x2="1000.7" y2="1954.3" stroke="#7a7a7a" stroke-width="2"/>
<line x1="1701.6" y1="1954.3" x2="1695.6" y2="1954.3" stroke="#7a7a7a" stroke-width="2"/>
<text transform="translate(985.2 1962.8) scale(1.0 1)" font-size="21.5" fill="#333333" text-anchor="end">0</text>
<line x1="994.7" y1="1842.8" x2="1000.7" y2="1842.8" stroke="#7a7a7a" stroke-width="2"/>
<line x1="1701.6" y1="1842.8" x2="1695.6" y2="1842.8" stroke="#7a7a7a" stroke-width="2"/>
<text transform="translate(985.2 1851.3) scale(1.0 1)" font-size="21.5" fill="#333333" text-anchor="end">0.5</text>
<line x1="994.7" y1="1731.2" x2="1000.7" y2="1731.2" stroke="#7a7a7a" stroke-width="2"/>
<line x1="1701.6" y1="1731.2" x2="1695.6" y2="1731.2" stroke="#7a7a7a" stroke-width="2"/>
<text transform="translate(985.2 1739.7) scale(1.0 1)" font-size="21.5" fill="#333333" text-anchor="end">1</text>
<line x1="994.7" y1="1619.7" x2="1000.7" y2="1619.7" stroke="#7a7a7a" stroke-width="2"/>
<line x1="1701.6" y1="1619.7" x2="1695.6" y2="1619.7" stroke="#7a7a7a" stroke-width="2"/>
<text transform="translate(985.2 1628.2) scale(1.0 1)" font-size="21.5" fill="#333333" text-anchor="end">1.5</text>
<line x1="994.7" y1="2177.4" x2="994.7" y2="2171.4" stroke="#7a7a7a" stroke-width="2"/>
<line x1="994.7" y1="1619.7" x2="994.7" y2="1625.7" stroke="#7a7a7a" stroke-width="2"/>
<text transform="translate(994.7 2212.4) scale(1.0 1)" font-size="21.5" fill="#333333" text-anchor="middle">-3</text>
<line x1="1095.7" y1="2177.4" x2="1095.7" y2="2171.4" stroke="#7a7a7a" stroke-width="2"/>
<line x1="1095.7" y1="1619.7" x2="1095.7" y2="1625.7" stroke="#7a7a7a" stroke-width="2"/>
<text transform="translate(1095.7 2212.4) scale(1.0 1)" font-size="21.5" fill="#333333" text-anchor="middle">-2</text>
<line x1="1196.7" y1="2177.4" x2="1196.7" y2="2171.4" stroke="#7a7a7a" stroke-width="2"/>
<line x1="1196.7" y1="1619.7" x2="1196.7" y2="1625.7" stroke="#7a7a7a" stroke-width="2"/>
<text transform="translate(1196.7 2212.4) scale(1.0 1)" font-size="21.5" fill="#333333" text-anchor="middle">-1</text>
<line x1="1297.7" y1="2177.4" x2="1297.7" y2="2171.4" stroke="#7a7a7a" stroke-width="2"/>
<line x1="1297.7" y1="1619.7" x2="1297.7" y2="1625.7" stroke="#7a7a7a" stroke-width="2"/>
<text transform="translate(1297.7 2212.4) scale(1.0 1)" font-size="21.5" fill="#333333" text-anchor="middle">0</text>
<line x1="1398.6" y1="2177.4" x2="1398.6" y2="2171.4" stroke="#7a7a7a" stroke-width="2"/>
<line x1="1398.6" y1="1619.7" x2="1398.6" y2="1625.7" stroke="#7a7a7a" stroke-width="2"/>
<text transform="translate(1398.6 2212.4) scale(1.0 1)" font-size="21.5" fill="#333333" text-anchor="middle">1</text>
<line x1="1499.6" y1="2177.4" x2="1499.6" y2="2171.4" stroke="#7a7a7a" stroke-width="2"/>
<line x1="1499.6" y1="1619.7" x2="1499.6" y2="1625.7" stroke="#7a7a7a" stroke-width="2"/>
<text transform="translate(1499.6 2212.4) scale(1.0 1)" font-size="21.5" fill="#333333" text-anchor="middle">2</text>
<line x1="1600.6" y1="2177.4" x2="1600.6" y2="2171.4" stroke="#7a7a7a" stroke-width="2"/>
<line x1="1600.6" y1="1619.7" x2="1600.6" y2="1625.7" stroke="#7a7a7a" stroke-width="2"/>
<text transform="translate(1600.6 2212.4) scale(1.0 1)" font-size="21.5" fill="#333333" text-anchor="middle">3</text>
<line x1="1701.6" y1="2177.4" x2="1701.6" y2="2171.4" stroke="#7a7a7a" stroke-width="2"/>
<line x1="1701.6" y1="1619.7" x2="1701.6" y2="1625.7" stroke="#7a7a7a" stroke-width="2"/>
<text transform="translate(1701.6 2212.4) scale(1.0 1)" font-size="21.5" fill="#333333" text-anchor="middle">4</text>
<text x="1240.2" y="2242.9" font-size="22.3" fill="#2a2a2a" textLength="216" lengthAdjust="spacingAndGlyphs">Observed Response</text>
<text transform="translate(934.7 1898.6) rotate(-90)" font-size="22.3" fill="#2a2a2a" x="-87" textLength="174" lengthAdjust="spacingAndGlyphs">Fitted Response</text>
<line x1="1240.4" y1="2087.2" x2="1389.2" y2="1753.6" stroke="#f06060" stroke-width="1.8"/>
<g fill="none" stroke="#3030ff" stroke-width="2.2" stroke-opacity="0.68">
<circle cx="1285.5" cy="1725.2" r="7.2"/>
<circle cx="1309.4" cy="1734.2" r="7.2"/>
<circle cx="1353.1" cy="1747.7" r="7.2"/>
<circle cx="1246.3" cy="1774.8" r="7.2"/>
<circle cx="1309.4" cy="1774.8" r="7.2"/>
<circle cx="1309.4" cy="1778.4" r="7.2"/>
<circle cx="1459.1" cy="1773" r="7.2"/>
<circle cx="1460.4" cy="1773" r="7.2"/>
<circle cx="1485.2" cy="1773.9" r="7.2"/>
<circle cx="1364.4" cy="1798.7" r="7.2"/>
<circle cx="1330.6" cy="1805.4" r="7.2"/>
<circle cx="1330.6" cy="1815.3" r="7.2"/>
<circle cx="1229.1" cy="1816.7" r="7.2"/>
<circle cx="1386" cy="1816.7" r="7.2"/>
<circle cx="1133.5" cy="1822.6" r="7.2"/>
<circle cx="1141.2" cy="1830.2" r="7.2"/>
<circle cx="1296.8" cy="1828.9" r="7.2"/>
<circle cx="1308" cy="1830.2" r="7.2"/>
<circle cx="1398.2" cy="1831.6" r="7.2"/>
<circle cx="1398.2" cy="1842.4" r="7.2"/>
<circle cx="1398.2" cy="1852.8" r="7.2"/>
<circle cx="1207.9" cy="1852.8" r="7.2"/>
<circle cx="1523.5" cy="1852.8" r="7.2"/>
<circle cx="1459.1" cy="1867.6" r="7.2"/>
<circle cx="1485.2" cy="1867.6" r="7.2"/>
<circle cx="1141.2" cy="1903.7" r="7.2"/>
<circle cx="1459.1" cy="1884.3" r="7.2"/>
<circle cx="1465.8" cy="1876.7" r="7.2"/>
<circle cx="1612.4" cy="1878.5" r="7.2"/>
<circle cx="1447.8" cy="1906.9" r="7.2"/>
<circle cx="1463.6" cy="1895.6" r="7.2"/>
<circle cx="1465.8" cy="1909.1" r="7.2"/>
<circle cx="1485.2" cy="1909.1" r="7.2"/>
<circle cx="1551.5" cy="1920.4" r="7.2"/>
<circle cx="1447.8" cy="1948.8" r="7.2"/>
<circle cx="1459.1" cy="1947.4" r="7.2"/>
<circle cx="1465.8" cy="1929.4" r="7.2"/>
<circle cx="1485.2" cy="1942.9" r="7.2"/>
<circle cx="1490.6" cy="1929.4" r="7.2"/>
<circle cx="1495.1" cy="1957.8" r="7.2"/>
<circle cx="1508.7" cy="1939.8" r="7.2"/>
<circle cx="1139" cy="1979" r="7.2"/>
<circle cx="1459.1" cy="1966.8" r="7.2"/>
<circle cx="1474.8" cy="1962.3" r="7.2"/>
<circle cx="1485.2" cy="1989.4" r="7.2"/>
<circle cx="1507.8" cy="1979" r="7.2"/>
<circle cx="1535.7" cy="1997" r="7.2"/>
<circle cx="1584.4" cy="1985.8" r="7.2"/>
<circle cx="1639.4" cy="1964.1" r="7.2"/>
<circle cx="1659.7" cy="1952" r="7.2"/>
<circle cx="1139" cy="1994.8" r="7.2"/>
<circle cx="1141.2" cy="2012.8" r="7.2"/>
<circle cx="1485.2" cy="2016.4" r="7.2"/>
<circle cx="1129.9" cy="2037.6" r="7.2"/>
<circle cx="1133.5" cy="2046.6" r="7.2"/>
<circle cx="1159.2" cy="2046.6" r="7.2"/>
<circle cx="1222.4" cy="2046.6" r="7.2"/>
<circle cx="1246.3" cy="2046.6" r="7.2"/>
<circle cx="1260.7" cy="2055.7" r="7.2"/>
<circle cx="1262.9" cy="2051.1" r="7.2"/>
<circle cx="1398.2" cy="2073.7" r="7.2"/>
<circle cx="1117.3" cy="2057" r="7.2"/>
<circle cx="1162.8" cy="2079.5" r="7.2"/>
<circle cx="1199.8" cy="2076.8" r="7.2"/>
<circle cx="1238.1" cy="2076.8" r="7.2"/>
<circle cx="1246.3" cy="2084.1" r="7.2"/>
<circle cx="1283.2" cy="2069.2" r="7.2"/>
<circle cx="1133.5" cy="2097.6" r="7.2"/>
<circle cx="1330.6" cy="2108.4" r="7.2"/>
<circle cx="1072.7" cy="2117.4" r="7.2"/>
<circle cx="1106.5" cy="2126.4" r="7.2"/>
<circle cx="1308" cy="2144.5" r="7.2"/>
<circle cx="1133.5" cy="2158.4" r="7.2"/>
<circle cx="1141.2" cy="2157.1" r="7.2"/>
<circle cx="1162.8" cy="2158" r="7.2"/>
<circle cx="1133.5" cy="2171.5" r="7.2"/>
<circle cx="1221.5" cy="2177.4" r="7.2"/>
<circle cx="1246.3" cy="2171.5" r="7.2"/>
<circle cx="1247.2" cy="2170.6" r="7.2"/>
<circle cx="1207.9" cy="1854" r="7.2"/>
<circle cx="1307.5" cy="1854" r="7.2"/>
<circle cx="1328.3" cy="1854" r="7.2"/>
<circle cx="1397.6" cy="1854" r="7.2"/>
<circle cx="1260.4" cy="1863.5" r="7.2"/>
<circle cx="1304.8" cy="1863.5" r="7.2"/>
<circle cx="1353.2" cy="1863.5" r="7.2"/>
<circle cx="1215.9" cy="1870.2" r="7.2"/>
<circle cx="1245.6" cy="1870.2" r="7.2"/>
<circle cx="1319.6" cy="1870.2" r="7.2"/>
<circle cx="1253.6" cy="1879.6" r="7.2"/>
<circle cx="1304.8" cy="1879.6" r="7.2"/>
<circle cx="1338.4" cy="1879.6" r="7.2"/>
<circle cx="1353.2" cy="1879.6" r="7.2"/>
<circle cx="1276.5" cy="1885" r="7.2"/>
<circle cx="1312.9" cy="1885" r="7.2"/>
<circle cx="1245.6" cy="1890.4" r="7.2"/>
<circle cx="1296.7" cy="1890.4" r="7.2"/>
<circle cx="1353.2" cy="1890.4" r="7.2"/>
<circle cx="1397.6" cy="1890.4" r="7.2"/>
<circle cx="1201.1" cy="1895.8" r="7.2"/>
<circle cx="1213.3" cy="1895.8" r="7.2"/>
<circle cx="1260.4" cy="1895.8" r="7.2"/>
<circle cx="1308.8" cy="1895.8" r="7.2"/>
<circle cx="1162.1" cy="1903.8" r="7.2"/>
<circle cx="1195.8" cy="1903.8" r="7.2"/>
<circle cx="1276.5" cy="1903.8" r="7.2"/>
<circle cx="1329" cy="1903.8" r="7.2"/>
<circle cx="1353.2" cy="1903.8" r="7.2"/>
<circle cx="1397.6" cy="1903.8" r="7.2"/>
<circle cx="1190.4" cy="1910.6" r="7.2"/>
<circle cx="1221.3" cy="1910.6" r="7.2"/>
<circle cx="1245.6" cy="1910.6" r="7.2"/>
<circle cx="1298" cy="1910.6" r="7.2"/>
<circle cx="1320.9" cy="1910.6" r="7.2"/>
<circle cx="1341.1" cy="1910.6" r="7.2"/>
<circle cx="1199.8" cy="1914.6" r="7.2"/>
<circle cx="1351.9" cy="1914.6" r="7.2"/>
<circle cx="1386.9" cy="1914.6" r="7.2"/>
<circle cx="1432.6" cy="1914.6" r="7.2"/>
<circle cx="1185" cy="1922.7" r="7.2"/>
<circle cx="1220" cy="1922.7" r="7.2"/>
<circle cx="1236.1" cy="1922.7" r="7.2"/>
<circle cx="1246.9" cy="1922.7" r="7.2"/>
<circle cx="1264.4" cy="1922.7" r="7.2"/>
<circle cx="1283.2" cy="1922.7" r="7.2"/>
<circle cx="1327.7" cy="1922.7" r="7.2"/>
<circle cx="1365.3" cy="1922.7" r="7.2"/>
<circle cx="1201.1" cy="1928.1" r="7.2"/>
<circle cx="1228.1" cy="1928.1" r="7.2"/>
<circle cx="1244.2" cy="1928.1" r="7.2"/>
<circle cx="1279.2" cy="1928.1" r="7.2"/>
<circle cx="1318.2" cy="1928.1" r="7.2"/>
<circle cx="1341.1" cy="1928.1" r="7.2"/>
<circle cx="1403" cy="1928.1" r="7.2"/>
<circle cx="1232.1" cy="1934.8" r="7.2"/>
<circle cx="1255" cy="1934.8" r="7.2"/>
<circle cx="1272.5" cy="1934.8" r="7.2"/>
<circle cx="1308.8" cy="1934.8" r="7.2"/>
<circle cx="1385.5" cy="1934.8" r="7.2"/>
<circle cx="1423.2" cy="1934.8" r="7.2"/>
<circle cx="1185" cy="1941.5" r="7.2"/>
<circle cx="1209.2" cy="1941.5" r="7.2"/>
<circle cx="1242.9" cy="1941.5" r="7.2"/>
<circle cx="1292.7" cy="1941.5" r="7.2"/>
<circle cx="1311.5" cy="1941.5" r="7.2"/>
<circle cx="1395" cy="1941.5" r="7.2"/>
<circle cx="1207.9" cy="1946.9" r="7.2"/>
<circle cx="1230.8" cy="1946.9" r="7.2"/>
<circle cx="1276.5" cy="1946.9" r="7.2"/>
<circle cx="1342.5" cy="1946.9" r="7.2"/>
<circle cx="1444.8" cy="1946.9" r="7.2"/>
<circle cx="1162.1" cy="1955" r="7.2"/>
<circle cx="1179.6" cy="1955" r="7.2"/>
<circle cx="1220" cy="1955" r="7.2"/>
<circle cx="1232.1" cy="1955" r="7.2"/>
<circle cx="1252.3" cy="1955" r="7.2"/>
<circle cx="1268.4" cy="1955" r="7.2"/>
<circle cx="1308.8" cy="1955" r="7.2"/>
<circle cx="1351.9" cy="1955" r="7.2"/>
<circle cx="1399" cy="1955" r="7.2"/>
<circle cx="1197.1" cy="1961.7" r="7.2"/>
<circle cx="1206.5" cy="1961.7" r="7.2"/>
<circle cx="1246.9" cy="1961.7" r="7.2"/>
<circle cx="1271.1" cy="1961.7" r="7.2"/>
<circle cx="1295.4" cy="1961.7" r="7.2"/>
<circle cx="1308.8" cy="1961.7" r="7.2"/>
<circle cx="1399" cy="1961.7" r="7.2"/>
<circle cx="1178.3" cy="1968.4" r="7.2"/>
<circle cx="1203.8" cy="1968.4" r="7.2"/>
<circle cx="1222.7" cy="1968.4" r="7.2"/>
<circle cx="1264.4" cy="1968.4" r="7.2"/>
<circle cx="1298" cy="1968.4" r="7.2"/>
<circle cx="1403" cy="1968.4" r="7.2"/>
<circle cx="1225.4" cy="1975.2" r="7.2"/>
<circle cx="1244.2" cy="1975.2" r="7.2"/>
<circle cx="1256.3" cy="1975.2" r="7.2"/>
<circle cx="1298" cy="1975.2" r="7.2"/>
<circle cx="1311.5" cy="1975.2" r="7.2"/>
<circle cx="1327.7" cy="1975.2" r="7.2"/>
<circle cx="1337.1" cy="1975.2" r="7.2"/>
<circle cx="1362.7" cy="1975.2" r="7.2"/>
<circle cx="1162.1" cy="1983.2" r="7.2"/>
<circle cx="1179.6" cy="1983.2" r="7.2"/>
<circle cx="1214.6" cy="1983.2" r="7.2"/>
<circle cx="1232.1" cy="1983.2" r="7.2"/>
<circle cx="1248.3" cy="1983.2" r="7.2"/>
<circle cx="1267.1" cy="1983.2" r="7.2"/>
<circle cx="1295.4" cy="1983.2" r="7.2"/>
<circle cx="1311.5" cy="1983.2" r="7.2"/>
<circle cx="1354.6" cy="1983.2" r="7.2"/>
<circle cx="1372.1" cy="1983.2" r="7.2"/>
<circle cx="1382.8" cy="1983.2" r="7.2"/>
<circle cx="1172.9" cy="1990" r="7.2"/>
<circle cx="1206.5" cy="1990" r="7.2"/>
<circle cx="1221.3" cy="1990" r="7.2"/>
<circle cx="1244.2" cy="1990" r="7.2"/>
<circle cx="1260.4" cy="1990" r="7.2"/>
<circle cx="1298" cy="1990" r="7.2"/>
<circle cx="1331.7" cy="1990" r="7.2"/>
<circle cx="1194.4" cy="1998" r="7.2"/>
<circle cx="1238.8" cy="1998" r="7.2"/>
<circle cx="1265.7" cy="1998" r="7.2"/>
<circle cx="1325" cy="1998" r="7.2"/>
<circle cx="1162.1" cy="2003.4" r="7.2"/>
<circle cx="1178.3" cy="2003.4" r="7.2"/>
<circle cx="1206.5" cy="2003.4" r="7.2"/>
<circle cx="1220" cy="2003.4" r="7.2"/>
<circle cx="1283.2" cy="2003.4" r="7.2"/>
<circle cx="1308.8" cy="2003.4" r="7.2"/>
<circle cx="1338.4" cy="2003.4" r="7.2"/>
<circle cx="1401.7" cy="2003.4" r="7.2"/>
<circle cx="1246.9" cy="2010.2" r="7.2"/>
<circle cx="1310.2" cy="2010.2" r="7.2"/>
<circle cx="1341.1" cy="2010.2" r="7.2"/>
<circle cx="1411.1" cy="2010.2" r="7.2"/>
<circle cx="1443.4" cy="2010.2" r="7.2"/>
<circle cx="1385.5" cy="2014.2" r="7.2"/>
<circle cx="1230.8" cy="2022.3" r="7.2"/>
<circle cx="1291.3" cy="2022.3" r="7.2"/>
<circle cx="1308.8" cy="2022.3" r="7.2"/>
<circle cx="1353.2" cy="2022.3" r="7.2"/>
<circle cx="1162.1" cy="2031.7" r="7.2"/>
<circle cx="1198.5" cy="2031.7" r="7.2"/>
<circle cx="1221.3" cy="2031.7" r="7.2"/>
<circle cx="1245.6" cy="2031.7" r="7.2"/>
<circle cx="1308.8" cy="2031.7" r="7.2"/>
<circle cx="1353.2" cy="2031.7" r="7.2"/>
<circle cx="1158.1" cy="2041.1" r="7.2"/>
<circle cx="1194.4" cy="2041.1" r="7.2"/>
<circle cx="1220" cy="2041.1" r="7.2"/>
<circle cx="1246.9" cy="2041.1" r="7.2"/>
<circle cx="1308.8" cy="2041.1" r="7.2"/>
<circle cx="1261.7" cy="2047.8" r="7.2"/>
<circle cx="1246.2" cy="1901.6" r="7.2"/>
<circle cx="1246.5" cy="1913.7" r="7.2"/>
<circle cx="1243.8" cy="1926.7" r="7.2"/>
<circle cx="1247.7" cy="1933.8" r="7.2"/>
<circle cx="1244.7" cy="1946.8" r="7.2"/>
<circle cx="1245.9" cy="1963" r="7.2"/>
<circle cx="1245.9" cy="1973.1" r="7.2"/>
<circle cx="1244.3" cy="1983.1" r="7.2"/>
<circle cx="1247.8" cy="1994.3" r="7.2"/>
<circle cx="1247.2" cy="2004.8" r="7.2"/>
<circle cx="1243.8" cy="2017" r="7.2"/>
<circle cx="1246.5" cy="2028.9" r="7.2"/>
<circle cx="1243.7" cy="2037" r="7.2"/>
<circle cx="1245.9" cy="2052.1" r="7.2"/>
<circle cx="1247.9" cy="2062.4" r="7.2"/>
<circle cx="1248.1" cy="2073.6" r="7.2"/>
<circle cx="1309.5" cy="1843" r="7.2"/>
<circle cx="1310.2" cy="1855.8" r="7.2"/>
<circle cx="1306" cy="1871.6" r="7.2"/>
<circle cx="1306.6" cy="1878.5" r="7.2"/>
<circle cx="1307.7" cy="1897.2" r="7.2"/>
<circle cx="1307" cy="1907.2" r="7.2"/>
<circle cx="1307.4" cy="1918.8" r="7.2"/>
<circle cx="1308.4" cy="1930.1" r="7.2"/>
<circle cx="1310" cy="1944.4" r="7.2"/>
<circle cx="1310.1" cy="1957.6" r="7.2"/>
<circle cx="1310.5" cy="1971.4" r="7.2"/>
<circle cx="1306.3" cy="1982.5" r="7.2"/>
<circle cx="1310.3" cy="1996.5" r="7.2"/>
<circle cx="1308.3" cy="2009.3" r="7.2"/>
<circle cx="1306.6" cy="2020.4" r="7.2"/>
<circle cx="1308.4" cy="2033.7" r="7.2"/>
<circle cx="1395.8" cy="1832.8" r="7.2"/>
<circle cx="1400.4" cy="1854.6" r="7.2"/>
<circle cx="1399.5" cy="1863.4" r="7.2"/>
<circle cx="1396.3" cy="1882.8" r="7.2"/>
<circle cx="1399.3" cy="1897.9" r="7.2"/>
<circle cx="1395.7" cy="1919.8" r="7.2"/>
<circle cx="1395.7" cy="1933.5" r="7.2"/>
<circle cx="1397.2" cy="1950.8" r="7.2"/>
<circle cx="1461.4" cy="1866.6" r="7.2"/>
<circle cx="1461.5" cy="1876.3" r="7.2"/>
<circle cx="1456.9" cy="1887.3" r="7.2"/>
<circle cx="1456.7" cy="1902" r="7.2"/>
<circle cx="1458.5" cy="1911.5" r="7.2"/>
<circle cx="1457.3" cy="1927.1" r="7.2"/>
<circle cx="1460.8" cy="1935.3" r="7.2"/>
<circle cx="1461.3" cy="1949.9" r="7.2"/>
</g>
<g fill="#000" stroke="#000" stroke-width="0.45" font-size="31">
<text x="1045" y="1664.8">R</text>
<text x="1069" y="1648.8" font-size="21" stroke-width="0.6">2</text>
<text x="1087" y="1664.8" textLength="99" lengthAdjust="spacingAndGlyphs">= 0.12</text>
<text x="1192" y="1669.8" font-size="24">.</text>
<text x="1045" y="1714" textLength="242" lengthAdjust="spacingAndGlyphs">F(1, 42) = 5.19</text>
<text x="1293" y="1719" font-size="24">.</text>
<text x="1045" y="1762" font-style="italic">p</text>
<text x="1066" y="1768" font-size="21" font-style="italic" textLength="45" lengthAdjust="spacingAndGlyphs">FDR</text>
<text x="1118" y="1762" textLength="82" lengthAdjust="spacingAndGlyphs">= .05</text>
</g>
<rect x="2960.7" y="768.3" width="731.7" height="577.1" fill="none" stroke="#7a7a7a" stroke-width="2.3"/>
<line x1="2960.7" y1="1345.4" x2="2966.7" y2="1345.4" stroke="#7a7a7a" stroke-width="2"/>
<line x1="3692.4" y1="1345.4" x2="3686.4" y2="1345.4" stroke="#7a7a7a" stroke-width="2"/>
<text transform="translate(2951.2 1353.9) scale(1.0 1)" font-size="21.5" fill="#333333" text-anchor="end">-2.5</text>
<line x1="2960.7" y1="1281.3" x2="2966.7" y2="1281.3" stroke="#7a7a7a" stroke-width="2"/>
<line x1="3692.4" y1="1281.3" x2="3686.4" y2="1281.3" stroke="#7a7a7a" stroke-width="2"/>
<text transform="translate(2951.2 1289.8) scale(1.0 1)" font-size="21.5" fill="#333333" text-anchor="end">-2</text>
<line x1="2960.7" y1="1217.2" x2="2966.7" y2="1217.2" stroke="#7a7a7a" stroke-width="2"/>
<line x1="3692.4" y1="1217.2" x2="3686.4" y2="1217.2" stroke="#7a7a7a" stroke-width="2"/>
<text transform="translate(2951.2 1225.7) scale(1.0 1)" font-size="21.5" fill="#333333" text-anchor="end">-1.5</text>
<line x1="2960.7" y1="1153" x2="2966.7" y2="1153" stroke="#7a7a7a" stroke-width="2"/>
<line x1="3692.4" y1="1153" x2="3686.4" y2="1153" stroke="#7a7a7a" stroke-width="2"/>
<text transform="translate(2951.2 1161.5) scale(1.0 1)" font-size="21.5" fill="#333333" text-anchor="end">-1</text>
<line x1="2960.7" y1="1088.9" x2="2966.7" y2="1088.9" stroke="#7a7a7a" stroke-width="2"/>
<line x1="3692.4" y1="1088.9" x2="3686.4" y2="1088.9" stroke="#7a7a7a" stroke-width="2"/>
<text transform="translate(2951.2 1097.4) scale(1.0 1)" font-size="21.5" fill="#333333" text-anchor="end">-0.5</text>
<line x1="2960.7" y1="1024.8" x2="2966.7" y2="1024.8" stroke="#7a7a7a" stroke-width="2"/>
<line x1="3692.4" y1="1024.8" x2="3686.4" y2="1024.8" stroke="#7a7a7a" stroke-width="2"/>
<text transform="translate(2951.2 1033.3) scale(1.0 1)" font-size="21.5" fill="#333333" text-anchor="end">0</text>
<line x1="2960.7" y1="960.7" x2="2966.7" y2="960.7" stroke="#7a7a7a" stroke-width="2"/>
<line x1="3692.4" y1="960.7" x2="3686.4" y2="960.7" stroke="#7a7a7a" stroke-width="2"/>
<text transform="translate(2951.2 969.2) scale(1.0 1)" font-size="21.5" fill="#333333" text-anchor="end">0.5</text>
<line x1="2960.7" y1="896.5" x2="2966.7" y2="896.5" stroke="#7a7a7a" stroke-width="2"/>
<line x1="3692.4" y1="896.5" x2="3686.4" y2="896.5" stroke="#7a7a7a" stroke-width="2"/>
<text transform="translate(2951.2 905) scale(1.0 1)" font-size="21.5" fill="#333333" text-anchor="end">1</text>
<line x1="2960.7" y1="832.4" x2="2966.7" y2="832.4" stroke="#7a7a7a" stroke-width="2"/>
<line x1="3692.4" y1="832.4" x2="3686.4" y2="832.4" stroke="#7a7a7a" stroke-width="2"/>
<text transform="translate(2951.2 840.9) scale(1.0 1)" font-size="21.5" fill="#333333" text-anchor="end">1.5</text>
<line x1="2960.7" y1="768.3" x2="2966.7" y2="768.3" stroke="#7a7a7a" stroke-width="2"/>
<line x1="3692.4" y1="768.3" x2="3686.4" y2="768.3" stroke="#7a7a7a" stroke-width="2"/>
<text transform="translate(2951.2 776.8) scale(1.0 1)" font-size="21.5" fill="#333333" text-anchor="end">2</text>
<line x1="2960.7" y1="1345.4" x2="2960.7" y2="1339.4" stroke="#7a7a7a" stroke-width="2"/>
<line x1="2960.7" y1="768.3" x2="2960.7" y2="774.3" stroke="#7a7a7a" stroke-width="2"/>
<text transform="translate(2960.7 1380.4) scale(1.0 1)" font-size="21.5" fill="#333333" text-anchor="middle">-4</text>
<line x1="3065.2" y1="1345.4" x2="3065.2" y2="1339.4" stroke="#7a7a7a" stroke-width="2"/>
<line x1="3065.2" y1="768.3" x2="3065.2" y2="774.3" stroke="#7a7a7a" stroke-width="2"/>
<text transform="translate(3065.2 1380.4) scale(1.0 1)" font-size="21.5" fill="#333333" text-anchor="middle">-3</text>
<line x1="3169.8" y1="1345.4" x2="3169.8" y2="1339.4" stroke="#7a7a7a" stroke-width="2"/>
<line x1="3169.8" y1="768.3" x2="3169.8" y2="774.3" stroke="#7a7a7a" stroke-width="2"/>
<text transform="translate(3169.8 1380.4) scale(1.0 1)" font-size="21.5" fill="#333333" text-anchor="middle">-2</text>
<line x1="3274.3" y1="1345.4" x2="3274.3" y2="1339.4" stroke="#7a7a7a" stroke-width="2"/>
<line x1="3274.3" y1="768.3" x2="3274.3" y2="774.3" stroke="#7a7a7a" stroke-width="2"/>
<text transform="translate(3274.3 1380.4) scale(1.0 1)" font-size="21.5" fill="#333333" text-anchor="middle">-1</text>
<line x1="3378.8" y1="1345.4" x2="3378.8" y2="1339.4" stroke="#7a7a7a" stroke-width="2"/>
<line x1="3378.8" y1="768.3" x2="3378.8" y2="774.3" stroke="#7a7a7a" stroke-width="2"/>
<text transform="translate(3378.8 1380.4) scale(1.0 1)" font-size="21.5" fill="#333333" text-anchor="middle">0</text>
<line x1="3483.3" y1="1345.4" x2="3483.3" y2="1339.4" stroke="#7a7a7a" stroke-width="2"/>
<line x1="3483.3" y1="768.3" x2="3483.3" y2="774.3" stroke="#7a7a7a" stroke-width="2"/>
<text transform="translate(3483.3 1380.4) scale(1.0 1)" font-size="21.5" fill="#333333" text-anchor="middle">1</text>
<line x1="3587.9" y1="1345.4" x2="3587.9" y2="1339.4" stroke="#7a7a7a" stroke-width="2"/>
<line x1="3587.9" y1="768.3" x2="3587.9" y2="774.3" stroke="#7a7a7a" stroke-width="2"/>
<text transform="translate(3587.9 1380.4) scale(1.0 1)" font-size="21.5" fill="#333333" text-anchor="middle">2</text>
<line x1="3692.4" y1="1345.4" x2="3692.4" y2="1339.4" stroke="#7a7a7a" stroke-width="2"/>
<line x1="3692.4" y1="768.3" x2="3692.4" y2="774.3" stroke="#7a7a7a" stroke-width="2"/>
<text transform="translate(3692.4 1380.4) scale(1.0 1)" font-size="21.5" fill="#333333" text-anchor="middle">3</text>
<text x="3214.6" y="1410.9" font-size="22.3" fill="#2a2a2a" textLength="224" lengthAdjust="spacingAndGlyphs">Observed Response</text>
<text transform="translate(2900.7 1056.8) rotate(-90)" font-size="22.3" fill="#2a2a2a" x="-89.5" textLength="179" lengthAdjust="spacingAndGlyphs">Fitted Response</text>
<line x1="3314" y1="1102.8" x2="3474.2" y2="909.6" stroke="#f06060" stroke-width="1.8"/>
<g fill="none" stroke="#3030ff" stroke-width="2.2" stroke-opacity="0.68">
<circle cx="3468.6" cy="833.3" r="7.2"/>
<circle cx="3511.9" cy="827.2" r="7.2"/>
<circle cx="3579.3" cy="833.3" r="7.2"/>
<circle cx="3347" cy="877.6" r="7.2"/>
<circle cx="3421" cy="875.7" r="7.2"/>
<circle cx="3490.7" cy="880.4" r="7.2"/>
<circle cx="3514.3" cy="872.9" r="7.2"/>
<circle cx="3620.3" cy="855.4" r="7.2"/>
<circle cx="3613.2" cy="869.6" r="7.2"/>
<circle cx="3379.1" cy="912" r="7.2"/>
<circle cx="3401.2" cy="919" r="7.2"/>
<circle cx="3409.7" cy="913.4" r="7.2"/>
<circle cx="3438.9" cy="918.1" r="7.2"/>
<circle cx="3488.4" cy="893.1" r="7.2"/>
<circle cx="3514.3" cy="893.1" r="7.2"/>
<circle cx="3496.8" cy="907.2" r="7.2"/>
<circle cx="3555.3" cy="887" r="7.2"/>
<circle cx="3559" cy="902.5" r="7.2"/>
<circle cx="3582.6" cy="907.2" r="7.2"/>
<circle cx="3617" cy="914.3" r="7.2"/>
<circle cx="3365.9" cy="934.6" r="7.2"/>
<circle cx="3408.3" cy="940.2" r="7.2"/>
<circle cx="3488.4" cy="921.4" r="7.2"/>
<circle cx="3514.3" cy="922.8" r="7.2"/>
<circle cx="3514.3" cy="948.7" r="7.2"/>
<circle cx="3555.3" cy="921.4" r="7.2"/>
<circle cx="3563.7" cy="937.9" r="7.2"/>
<circle cx="3567" cy="947.3" r="7.2"/>
<circle cx="3579.3" cy="948.7" r="7.2"/>
<circle cx="3629.7" cy="930.8" r="7.2"/>
<circle cx="3642.9" cy="927" r="7.2"/>
<circle cx="3661.7" cy="930.8" r="7.2"/>
<circle cx="3619.3" cy="943.5" r="7.2"/>
<circle cx="3226" cy="985" r="7.2"/>
<circle cx="3226" cy="996.8" r="7.2"/>
<circle cx="3480.4" cy="975.6" r="7.2"/>
<circle cx="3490.7" cy="985" r="7.2"/>
<circle cx="3490.7" cy="992" r="7.2"/>
<circle cx="3526.1" cy="985" r="7.2"/>
<circle cx="3535.5" cy="995.8" r="7.2"/>
<circle cx="3567" cy="985" r="7.2"/>
<circle cx="3579.3" cy="973.2" r="7.2"/>
<circle cx="3599.1" cy="982.6" r="7.2"/>
<circle cx="3614.6" cy="970.8" r="7.2"/>
<circle cx="3504.9" cy="1006.2" r="7.2"/>
<circle cx="3514.3" cy="1017" r="7.2"/>
<circle cx="3535.5" cy="1018" r="7.2"/>
<circle cx="3631.1" cy="1018" r="7.2"/>
<circle cx="3643.8" cy="1003.8" r="7.2"/>
<circle cx="3226" cy="1025" r="7.2"/>
<circle cx="3490.7" cy="1020.3" r="7.2"/>
<circle cx="3481.3" cy="1050.9" r="7.2"/>
<circle cx="3490.7" cy="1043.9" r="7.2"/>
<circle cx="3514.3" cy="1045.3" r="7.2"/>
<circle cx="3219.8" cy="1065.1" r="7.2"/>
<circle cx="3226.9" cy="1076.9" r="7.2"/>
<circle cx="3238.7" cy="1079.2" r="7.2"/>
<circle cx="3236.3" cy="1069.8" r="7.2"/>
<circle cx="3514.3" cy="1070.7" r="7.2"/>
<circle cx="3226" cy="1098.1" r="7.2"/>
<circle cx="3236.3" cy="1102.8" r="7.2"/>
<circle cx="3264.6" cy="1098.1" r="7.2"/>
<circle cx="3278.7" cy="1102.8" r="7.2"/>
<circle cx="3285.8" cy="1102.8" r="7.2"/>
<circle cx="3314.1" cy="1101.8" r="7.2"/>
<circle cx="3386.1" cy="1102.8" r="7.2"/>
<circle cx="3438.9" cy="1116.9" r="7.2"/>
<circle cx="3387.1" cy="1116" r="7.2"/>
<circle cx="3304.6" cy="1114.5" r="7.2"/>
<circle cx="3202.4" cy="1145.2" r="7.2"/>
<circle cx="3235.4" cy="1151.3" r="7.2"/>
<circle cx="3251.4" cy="1154.6" r="7.2"/>
<circle cx="3260.8" cy="1152.2" r="7.2"/>
<circle cx="3264.6" cy="1142.8" r="7.2"/>
<circle cx="3278.7" cy="1128.7" r="7.2"/>
<circle cx="3283.4" cy="1135.7" r="7.2"/>
<circle cx="3304.6" cy="1128.7" r="7.2"/>
<circle cx="3307" cy="1131" r="7.2"/>
<circle cx="3316.4" cy="1140.5" r="7.2"/>
<circle cx="3321.1" cy="1158.4" r="7.2"/>
<circle cx="3323.5" cy="1154.6" r="7.2"/>
<circle cx="3336.2" cy="1134.8" r="7.2"/>
<circle cx="3344.7" cy="1154.6" r="7.2"/>
<circle cx="3351.7" cy="1154.6" r="7.2"/>
<circle cx="3304.6" cy="1180.5" r="7.2"/>
<circle cx="3304.6" cy="1197.9" r="7.2"/>
<circle cx="3285.8" cy="1214.9" r="7.2"/>
<circle cx="3304.6" cy="1227.6" r="7.2"/>
<circle cx="3235.4" cy="1230" r="7.2"/>
<circle cx="3226" cy="1245" r="7.2"/>
<circle cx="3035.2" cy="1317.1" r="7.2"/>
<circle cx="3365.9" cy="943.2" r="7.2"/>
<circle cx="3405.8" cy="943.2" r="7.2"/>
<circle cx="3470.4" cy="943.2" r="7.2"/>
<circle cx="3334.7" cy="948.6" r="7.2"/>
<circle cx="3351.9" cy="948.6" r="7.2"/>
<circle cx="3397.2" cy="948.6" r="7.2"/>
<circle cx="3414.4" cy="948.6" r="7.2"/>
<circle cx="3429.5" cy="948.6" r="7.2"/>
<circle cx="3347.6" cy="954" r="7.2"/>
<circle cx="3393.9" cy="954" r="7.2"/>
<circle cx="3440.2" cy="954" r="7.2"/>
<circle cx="3333.6" cy="959.4" r="7.2"/>
<circle cx="3345.5" cy="959.4" r="7.2"/>
<circle cx="3404.7" cy="959.4" r="7.2"/>
<circle cx="3413.3" cy="959.4" r="7.2"/>
<circle cx="3467.1" cy="959.4" r="7.2"/>
<circle cx="3379.9" cy="964.8" r="7.2"/>
<circle cx="3255.1" cy="971.2" r="7.2"/>
<circle cx="3305.7" cy="971.2" r="7.2"/>
<circle cx="3324" cy="971.2" r="7.2"/>
<circle cx="3425.1" cy="971.2" r="7.2"/>
<circle cx="3305.7" cy="976.6" r="7.2"/>
<circle cx="3315.3" cy="976.6" r="7.2"/>
<circle cx="3475.7" cy="976.6" r="7.2"/>
<circle cx="3346.6" cy="979.8" r="7.2"/>
<circle cx="3441.3" cy="979.8" r="7.2"/>
<circle cx="3377.8" cy="983.1" r="7.2"/>
<circle cx="3449.9" cy="983.1" r="7.2"/>
<circle cx="3405.8" cy="985.2" r="7.2"/>
<circle cx="3311" cy="989.5" r="7.2"/>
<circle cx="3351.9" cy="989.5" r="7.2"/>
<circle cx="3293.8" cy="992.7" r="7.2"/>
<circle cx="3397.2" cy="992.7" r="7.2"/>
<circle cx="3269.1" cy="997.1" r="7.2"/>
<circle cx="3280.9" cy="997.1" r="7.2"/>
<circle cx="3306.7" cy="997.1" r="7.2"/>
<circle cx="3318.6" cy="997.1" r="7.2"/>
<circle cx="3372.4" cy="997.1" r="7.2"/>
<circle cx="3410.1" cy="997.1" r="7.2"/>
<circle cx="3421.9" cy="1002.4" r="7.2"/>
<circle cx="3310" cy="1005.7" r="7.2"/>
<circle cx="3329.3" cy="1005.7" r="7.2"/>
<circle cx="3353" cy="1005.7" r="7.2"/>
<circle cx="3363.8" cy="1005.7" r="7.2"/>
<circle cx="3401.5" cy="1010" r="7.2"/>
<circle cx="3311" cy="1015.3" r="7.2"/>
<circle cx="3285.2" cy="1019.7" r="7.2"/>
<circle cx="3297.1" cy="1019.7" r="7.2"/>
<circle cx="3332.6" cy="1019.7" r="7.2"/>
<circle cx="3358.4" cy="1019.7" r="7.2"/>
<circle cx="3368.1" cy="1025" r="7.2"/>
<circle cx="3379.9" cy="1025" r="7.2"/>
<circle cx="3306.7" cy="1029.3" r="7.2"/>
<circle cx="3317.5" cy="1029.3" r="7.2"/>
<circle cx="3310" cy="1036.9" r="7.2"/>
<circle cx="3328.3" cy="1036.9" r="7.2"/>
<circle cx="3341.2" cy="1036.9" r="7.2"/>
<circle cx="3286.3" cy="1042.3" r="7.2"/>
<circle cx="3410.1" cy="1042.3" r="7.2"/>
<circle cx="3315.3" cy="1044.4" r="7.2"/>
<circle cx="3403.6" cy="1044.4" r="7.2"/>
<circle cx="3429.5" cy="1044.4" r="7.2"/>
<circle cx="3471.4" cy="1044.4" r="7.2"/>
<circle cx="3330.4" cy="1050.9" r="7.2"/>
<circle cx="3353" cy="1050.9" r="7.2"/>
<circle cx="3283.1" cy="1056.3" r="7.2"/>
<circle cx="3347.6" cy="1056.3" r="7.2"/>
<circle cx="3308.9" cy="1058.4" r="7.2"/>
<circle cx="3386.4" cy="1058.4" r="7.2"/>
<circle cx="3442.4" cy="1058.4" r="7.2"/>
<circle cx="3315.3" cy="1062.7" r="7.2"/>
<circle cx="3438.1" cy="1062.7" r="7.2"/>
<circle cx="3283.1" cy="1069.2" r="7.2"/>
<circle cx="3351.9" cy="1069.2" r="7.2"/>
<circle cx="3401.5" cy="1069.2" r="7.2"/>
<circle cx="3304.6" cy="1073.5" r="7.2"/>
<circle cx="3365.9" cy="1073.5" r="7.2"/>
<circle cx="3471.4" cy="1076.7" r="7.2"/>
<circle cx="3244.3" cy="1079.9" r="7.2"/>
<circle cx="3379.9" cy="1079.9" r="7.2"/>
<circle cx="3410.1" cy="1079.9" r="7.2"/>
<circle cx="3316.4" cy="1086.4" r="7.2"/>
<circle cx="3346.6" cy="1086.4" r="7.2"/>
<circle cx="3379.9" cy="1090.7" r="7.2"/>
<circle cx="3402.5" cy="1090.7" r="7.2"/>
<circle cx="3414.4" cy="1090.7" r="7.2"/>
<circle cx="3263.7" cy="1096.1" r="7.2"/>
<circle cx="3280.9" cy="1096.1" r="7.2"/>
<circle cx="3314.3" cy="1096.1" r="7.2"/>
<circle cx="3307.2" cy="963.9" r="7.2"/>
<circle cx="3302.9" cy="967" r="7.2"/>
<circle cx="3306.2" cy="977.1" r="7.2"/>
<circle cx="3304" cy="983.2" r="7.2"/>
<circle cx="3305.5" cy="989.8" r="7.2"/>
<circle cx="3303.3" cy="996.5" r="7.2"/>
<circle cx="3304.5" cy="1002.7" r="7.2"/>
<circle cx="3307.5" cy="1010.7" r="7.2"/>
<circle cx="3305.2" cy="1018.4" r="7.2"/>
<circle cx="3303.8" cy="1023.2" r="7.2"/>
<circle cx="3302.6" cy="1028.3" r="7.2"/>
<circle cx="3304.1" cy="1036.9" r="7.2"/>
<circle cx="3307" cy="1043.4" r="7.2"/>
<circle cx="3305.3" cy="1050.8" r="7.2"/>
<circle cx="3302.6" cy="1056.4" r="7.2"/>
<circle cx="3303.2" cy="1063.6" r="7.2"/>
<circle cx="3307.5" cy="1071.2" r="7.2"/>
<circle cx="3303.4" cy="1078.7" r="7.2"/>
<circle cx="3306.5" cy="1086.4" r="7.2"/>
<circle cx="3307" cy="1092.5" r="7.2"/>
<circle cx="3306.4" cy="1099.5" r="7.2"/>
<circle cx="3307.4" cy="1104.6" r="7.2"/>
<circle cx="3343.3" cy="996.5" r="7.2"/>
<circle cx="3346.1" cy="1006.3" r="7.2"/>
<circle cx="3345.2" cy="1015.6" r="7.2"/>
<circle cx="3347.1" cy="1027.1" r="7.2"/>
<circle cx="3346.7" cy="1038.4" r="7.2"/>
<circle cx="3346.9" cy="1048.6" r="7.2"/>
<circle cx="3344.8" cy="1063.6" r="7.2"/>
<circle cx="3347.1" cy="1072.6" r="7.2"/>
<circle cx="3401.9" cy="954.9" r="7.2"/>
<circle cx="3401.1" cy="962.7" r="7.2"/>
<circle cx="3400.3" cy="977.2" r="7.2"/>
<circle cx="3400.8" cy="989.9" r="7.2"/>
<circle cx="3401" cy="1001.2" r="7.2"/>
<circle cx="3403" cy="1012.7" r="7.2"/>
<circle cx="3402.1" cy="1020.9" r="7.2"/>
<circle cx="3402.4" cy="1033.1" r="7.2"/>
</g>
<g fill="#000" stroke="#000" stroke-width="0.45" font-size="31">
<text x="2991.3" y="840">R</text>
<text x="3015.3" y="824" font-size="21" stroke-width="0.6">2</text>
<text x="3033.3" y="840" textLength="101" lengthAdjust="spacingAndGlyphs">= 0.37</text>
<text x="3140.3" y="845" font-size="24">.</text>
<text x="2991.3" y="890.8" textLength="252" lengthAdjust="spacingAndGlyphs">F(3,30) = 16.91</text>
<text x="3249.3" y="895.8" font-size="24">.</text>
<text x="2991.3" y="940" font-style="italic">p</text>
<text x="3012.3" y="946" font-size="21" font-style="italic" textLength="45" lengthAdjust="spacingAndGlyphs">FDR</text>
<text x="3064.3" y="940" textLength="167" lengthAdjust="spacingAndGlyphs">= 2.73*10</text>
</g>
<text x="3233" y="920" font-size="22" fill="#000" stroke="#000" stroke-width="0.6">-6</text>
<rect x="2971.7" y="1601.6" width="721.3" height="571.3" fill="none" stroke="#7a7a7a" stroke-width="2.3"/>
<line x1="2971.7" y1="2172.9" x2="2977.7" y2="2172.9" stroke="#7a7a7a" stroke-width="2"/>
<line x1="3693" y1="2172.9" x2="3687" y2="2172.9" stroke="#7a7a7a" stroke-width="2"/>
<text transform="translate(2962.2 2181.4) scale(1.0 1)" font-size="21.5" fill="#333333" text-anchor="end">-1</text>
<line x1="2971.7" y1="2058.6" x2="2977.7" y2="2058.6" stroke="#7a7a7a" stroke-width="2"/>
<line x1="3693" y1="2058.6" x2="3687" y2="2058.6" stroke="#7a7a7a" stroke-width="2"/>
<text transform="translate(2962.2 2067.1) scale(1.0 1)" font-size="21.5" fill="#333333" text-anchor="end">-0.5</text>
<line x1="2971.7" y1="1944.4" x2="2977.7" y2="1944.4" stroke="#7a7a7a" stroke-width="2"/>
<line x1="3693" y1="1944.4" x2="3687" y2="1944.4" stroke="#7a7a7a" stroke-width="2"/>
<text transform="translate(2962.2 1952.9) scale(1.0 1)" font-size="21.5" fill="#333333" text-anchor="end">0</text>
<line x1="2971.7" y1="1830.1" x2="2977.7" y2="1830.1" stroke="#7a7a7a" stroke-width="2"/>
<line x1="3693" y1="1830.1" x2="3687" y2="1830.1" stroke="#7a7a7a" stroke-width="2"/>
<text transform="translate(2962.2 1838.6) scale(1.0 1)" font-size="21.5" fill="#333333" text-anchor="end">0.5</text>
<line x1="2971.7" y1="1715.9" x2="2977.7" y2="1715.9" stroke="#7a7a7a" stroke-width="2"/>
<line x1="3693" y1="1715.9" x2="3687" y2="1715.9" stroke="#7a7a7a" stroke-width="2"/>
<text transform="translate(2962.2 1724.4) scale(1.0 1)" font-size="21.5" fill="#333333" text-anchor="end">1</text>
<line x1="2971.7" y1="1601.6" x2="2977.7" y2="1601.6" stroke="#7a7a7a" stroke-width="2"/>
<line x1="3693" y1="1601.6" x2="3687" y2="1601.6" stroke="#7a7a7a" stroke-width="2"/>
<text transform="translate(2962.2 1610.1) scale(1.0 1)" font-size="21.5" fill="#333333" text-anchor="end">1.5</text>
<line x1="2971.7" y1="2172.9" x2="2971.7" y2="2166.9" stroke="#7a7a7a" stroke-width="2"/>
<line x1="2971.7" y1="1601.6" x2="2971.7" y2="1607.6" stroke="#7a7a7a" stroke-width="2"/>
<text transform="translate(2971.7 2207.9) scale(1.0 1)" font-size="21.5" fill="#333333" text-anchor="middle">-3</text>
<line x1="3074.7" y1="2172.9" x2="3074.7" y2="2166.9" stroke="#7a7a7a" stroke-width="2"/>
<line x1="3074.7" y1="1601.6" x2="3074.7" y2="1607.6" stroke="#7a7a7a" stroke-width="2"/>
<text transform="translate(3074.7 2207.9) scale(1.0 1)" font-size="21.5" fill="#333333" text-anchor="middle">-2</text>
<line x1="3177.8" y1="2172.9" x2="3177.8" y2="2166.9" stroke="#7a7a7a" stroke-width="2"/>
<line x1="3177.8" y1="1601.6" x2="3177.8" y2="1607.6" stroke="#7a7a7a" stroke-width="2"/>
<text transform="translate(3177.8 2207.9) scale(1.0 1)" font-size="21.5" fill="#333333" text-anchor="middle">-1</text>
<line x1="3280.8" y1="2172.9" x2="3280.8" y2="2166.9" stroke="#7a7a7a" stroke-width="2"/>
<line x1="3280.8" y1="1601.6" x2="3280.8" y2="1607.6" stroke="#7a7a7a" stroke-width="2"/>
<text transform="translate(3280.8 2207.9) scale(1.0 1)" font-size="21.5" fill="#333333" text-anchor="middle">0</text>
<line x1="3383.9" y1="2172.9" x2="3383.9" y2="2166.9" stroke="#7a7a7a" stroke-width="2"/>
<line x1="3383.9" y1="1601.6" x2="3383.9" y2="1607.6" stroke="#7a7a7a" stroke-width="2"/>
<text transform="translate(3383.9 2207.9) scale(1.0 1)" font-size="21.5" fill="#333333" text-anchor="middle">1</text>
<line x1="3486.9" y1="2172.9" x2="3486.9" y2="2166.9" stroke="#7a7a7a" stroke-width="2"/>
<line x1="3486.9" y1="1601.6" x2="3486.9" y2="1607.6" stroke="#7a7a7a" stroke-width="2"/>
<text transform="translate(3486.9 2207.9) scale(1.0 1)" font-size="21.5" fill="#333333" text-anchor="middle">2</text>
<line x1="3590" y1="2172.9" x2="3590" y2="2166.9" stroke="#7a7a7a" stroke-width="2"/>
<line x1="3590" y1="1601.6" x2="3590" y2="1607.6" stroke="#7a7a7a" stroke-width="2"/>
<text transform="translate(3590 2207.9) scale(1.0 1)" font-size="21.5" fill="#333333" text-anchor="middle">3</text>
<line x1="3693" y1="2172.9" x2="3693" y2="2166.9" stroke="#7a7a7a" stroke-width="2"/>
<line x1="3693" y1="1601.6" x2="3693" y2="1607.6" stroke="#7a7a7a" stroke-width="2"/>
<text transform="translate(3693 2207.9) scale(1.0 1)" font-size="21.5" fill="#333333" text-anchor="middle">4</text>
<text x="3221.8" y="2238.4" font-size="22.3" fill="#2a2a2a" textLength="221" lengthAdjust="spacingAndGlyphs">Observed Response</text>
<text transform="translate(2911.7 1887.2) rotate(-90)" font-size="22.3" fill="#2a2a2a" x="-88" textLength="176" lengthAdjust="spacingAndGlyphs">Fitted Response</text>
<line x1="3219.7" y1="2080.4" x2="3374.3" y2="1738.7" stroke="#f06060" stroke-width="1.8"/>
<g fill="none" stroke="#3030ff" stroke-width="2.2" stroke-opacity="0.68">
<circle cx="3259.4" cy="1691.8" r="7.2"/>
<circle cx="3310.8" cy="1731" r="7.2"/>
<circle cx="3648.9" cy="1733.3" r="7.2"/>
<circle cx="3259.4" cy="1749.1" r="7.2"/>
<circle cx="3286.4" cy="1745.5" r="7.2"/>
<circle cx="3294.1" cy="1754.9" r="7.2"/>
<circle cx="3276.1" cy="1765.8" r="7.2"/>
<circle cx="3602" cy="1754.5" r="7.2"/>
<circle cx="3263.9" cy="1778.4" r="7.2"/>
<circle cx="3409.1" cy="1778.4" r="7.2"/>
<circle cx="3321.1" cy="1785.1" r="7.2"/>
<circle cx="3323.4" cy="1789.6" r="7.2"/>
<circle cx="3472.2" cy="1786.5" r="7.2"/>
<circle cx="3482.6" cy="1784.2" r="7.2"/>
<circle cx="3472.2" cy="1798.7" r="7.2"/>
<circle cx="3176.9" cy="1795.1" r="7.2"/>
<circle cx="3113.8" cy="1801.8" r="7.2"/>
<circle cx="3368.5" cy="1803.2" r="7.2"/>
<circle cx="3433" cy="1809.9" r="7.2"/>
<circle cx="3447.4" cy="1821.2" r="7.2"/>
<circle cx="3483.5" cy="1819" r="7.2"/>
<circle cx="3225.6" cy="1833.4" r="7.2"/>
<circle cx="3294.1" cy="1825.7" r="7.2"/>
<circle cx="3310.8" cy="1823.5" r="7.2"/>
<circle cx="3323.4" cy="1827.1" r="7.2"/>
<circle cx="3373" cy="1841.5" r="7.2"/>
<circle cx="3336.9" cy="1841.5" r="7.2"/>
<circle cx="3120.5" cy="1851.4" r="7.2"/>
<circle cx="3190.4" cy="1851.4" r="7.2"/>
<circle cx="3230.1" cy="1849.2" r="7.2"/>
<circle cx="3265.7" cy="1843.8" r="7.2"/>
<circle cx="3289.6" cy="1846.9" r="7.2"/>
<circle cx="3304.5" cy="1845.1" r="7.2"/>
<circle cx="3348.2" cy="1852.8" r="7.2"/>
<circle cx="3451.9" cy="1858.6" r="7.2"/>
<circle cx="3447.4" cy="1866.3" r="7.2"/>
<circle cx="3497" cy="1868.5" r="7.2"/>
<circle cx="3523.1" cy="1869.9" r="7.2"/>
<circle cx="3630" cy="1875.3" r="7.2"/>
<circle cx="3472.2" cy="1877.6" r="7.2"/>
<circle cx="3447.4" cy="1913.6" r="7.2"/>
<circle cx="3451.9" cy="1910.5" r="7.2"/>
<circle cx="3478" cy="1906.9" r="7.2"/>
<circle cx="3097.1" cy="1946.1" r="7.2"/>
<circle cx="3420.3" cy="1952" r="7.2"/>
<circle cx="3447.4" cy="1929.4" r="7.2"/>
<circle cx="3447.4" cy="1942.9" r="7.2"/>
<circle cx="3448.7" cy="1954.2" r="7.2"/>
<circle cx="3462.3" cy="1947.4" r="7.2"/>
<circle cx="3472.2" cy="1924.9" r="7.2"/>
<circle cx="3496.1" cy="1949.7" r="7.2"/>
<circle cx="3511.9" cy="1954.2" r="7.2"/>
<circle cx="3539.8" cy="1950.6" r="7.2"/>
<circle cx="3573.6" cy="1954.2" r="7.2"/>
<circle cx="3433.9" cy="1966.8" r="7.2"/>
<circle cx="3447.4" cy="1974.5" r="7.2"/>
<circle cx="3451.9" cy="1983.5" r="7.2"/>
<circle cx="3051.5" cy="2003.8" r="7.2"/>
<circle cx="3085.8" cy="1995.7" r="7.2"/>
<circle cx="3433.9" cy="1990.3" r="7.2"/>
<circle cx="3451.9" cy="1992.5" r="7.2"/>
<circle cx="3472.2" cy="1992.5" r="7.2"/>
<circle cx="3113.8" cy="2054.3" r="7.2"/>
<circle cx="3140.8" cy="2047.5" r="7.2"/>
<circle cx="3160.2" cy="2047.5" r="7.2"/>
<circle cx="3228.7" cy="2046.6" r="7.2"/>
<circle cx="3376.6" cy="2051.1" r="7.2"/>
<circle cx="3396.9" cy="2060.2" r="7.2"/>
<circle cx="3163.3" cy="2075" r="7.2"/>
<circle cx="3179.1" cy="2067.8" r="7.2"/>
<circle cx="3182.7" cy="2075" r="7.2"/>
<circle cx="3188.1" cy="2084.1" r="7.2"/>
<circle cx="3197.2" cy="2066" r="7.2"/>
<circle cx="3206.2" cy="2067.8" r="7.2"/>
<circle cx="3212.9" cy="2071.4" r="7.2"/>
<circle cx="3244.5" cy="2091.7" r="7.2"/>
<circle cx="3259.4" cy="2054.3" r="7.2"/>
<circle cx="3260.3" cy="2061.5" r="7.2"/>
<circle cx="3113.8" cy="2097.6" r="7.2"/>
<circle cx="3176.9" cy="2105.2" r="7.2"/>
<circle cx="3275.2" cy="2109.8" r="7.2"/>
<circle cx="3227.8" cy="2117.4" r="7.2"/>
<circle cx="3228.7" cy="2149" r="7.2"/>
<circle cx="3120.2" cy="1852.7" r="7.2"/>
<circle cx="3180.8" cy="1852.7" r="7.2"/>
<circle cx="3194.2" cy="1852.7" r="7.2"/>
<circle cx="3229.2" cy="1852.7" r="7.2"/>
<circle cx="3291.1" cy="1852.7" r="7.2"/>
<circle cx="3349" cy="1852.7" r="7.2"/>
<circle cx="3196.9" cy="1862.1" r="7.2"/>
<circle cx="3233.2" cy="1862.1" r="7.2"/>
<circle cx="3250.7" cy="1862.1" r="7.2"/>
<circle cx="3291.1" cy="1862.1" r="7.2"/>
<circle cx="3315.3" cy="1862.1" r="7.2"/>
<circle cx="3336.9" cy="1862.1" r="7.2"/>
<circle cx="3350.3" cy="1862.1" r="7.2"/>
<circle cx="3165.9" cy="1874.2" r="7.2"/>
<circle cx="3205" cy="1874.2" r="7.2"/>
<circle cx="3214.4" cy="1874.2" r="7.2"/>
<circle cx="3297.8" cy="1874.2" r="7.2"/>
<circle cx="3315.3" cy="1874.2" r="7.2"/>
<circle cx="3336.9" cy="1874.2" r="7.2"/>
<circle cx="3202.3" cy="1883.6" r="7.2"/>
<circle cx="3229.2" cy="1883.6" r="7.2"/>
<circle cx="3280.3" cy="1883.6" r="7.2"/>
<circle cx="3227.9" cy="1894.4" r="7.2"/>
<circle cx="3310" cy="1894.4" r="7.2"/>
<circle cx="3326.1" cy="1894.4" r="7.2"/>
<circle cx="3336.9" cy="1894.4" r="7.2"/>
<circle cx="3120.2" cy="1903.8" r="7.2"/>
<circle cx="3205" cy="1903.8" r="7.2"/>
<circle cx="3221.1" cy="1903.8" r="7.2"/>
<circle cx="3269.6" cy="1903.8" r="7.2"/>
<circle cx="3281.7" cy="1903.8" r="7.2"/>
<circle cx="3315.3" cy="1903.8" r="7.2"/>
<circle cx="3194.2" cy="1914.6" r="7.2"/>
<circle cx="3211.7" cy="1914.6" r="7.2"/>
<circle cx="3235.9" cy="1914.6" r="7.2"/>
<circle cx="3250.7" cy="1914.6" r="7.2"/>
<circle cx="3292.5" cy="1914.6" r="7.2"/>
<circle cx="3351.7" cy="1914.6" r="7.2"/>
<circle cx="3108.1" cy="1925.4" r="7.2"/>
<circle cx="3155.2" cy="1925.4" r="7.2"/>
<circle cx="3182.1" cy="1925.4" r="7.2"/>
<circle cx="3229.2" cy="1925.4" r="7.2"/>
<circle cx="3262.9" cy="1925.4" r="7.2"/>
<circle cx="3280.3" cy="1925.4" r="7.2"/>
<circle cx="3336.9" cy="1925.4" r="7.2"/>
<circle cx="3386.7" cy="1925.4" r="7.2"/>
<circle cx="3112.1" cy="1936.1" r="7.2"/>
<circle cx="3165.9" cy="1936.1" r="7.2"/>
<circle cx="3176.7" cy="1936.1" r="7.2"/>
<circle cx="3188.8" cy="1936.1" r="7.2"/>
<circle cx="3210.4" cy="1936.1" r="7.2"/>
<circle cx="3231.9" cy="1936.1" r="7.2"/>
<circle cx="3264.2" cy="1936.1" r="7.2"/>
<circle cx="3292.5" cy="1936.1" r="7.2"/>
<circle cx="3327.5" cy="1936.1" r="7.2"/>
<circle cx="3336.9" cy="1936.1" r="7.2"/>
<circle cx="3373.2" cy="1936.1" r="7.2"/>
<circle cx="3393.4" cy="1936.1" r="7.2"/>
<circle cx="3102.7" cy="1944.2" r="7.2"/>
<circle cx="3157.9" cy="1944.2" r="7.2"/>
<circle cx="3202.3" cy="1944.2" r="7.2"/>
<circle cx="3229.2" cy="1944.2" r="7.2"/>
<circle cx="3245.4" cy="1944.2" r="7.2"/>
<circle cx="3257.5" cy="1944.2" r="7.2"/>
<circle cx="3275" cy="1944.2" r="7.2"/>
<circle cx="3288.4" cy="1944.2" r="7.2"/>
<circle cx="3336.9" cy="1944.2" r="7.2"/>
<circle cx="3384" cy="1944.2" r="7.2"/>
<circle cx="3120.2" cy="1952.3" r="7.2"/>
<circle cx="3179.4" cy="1952.3" r="7.2"/>
<circle cx="3202.3" cy="1952.3" r="7.2"/>
<circle cx="3223.8" cy="1952.3" r="7.2"/>
<circle cx="3234.6" cy="1952.3" r="7.2"/>
<circle cx="3252.1" cy="1952.3" r="7.2"/>
<circle cx="3292.5" cy="1952.3" r="7.2"/>
<circle cx="3314" cy="1952.3" r="7.2"/>
<circle cx="3336.9" cy="1952.3" r="7.2"/>
<circle cx="3357.1" cy="1952.3" r="7.2"/>
<circle cx="3141.7" cy="1960.4" r="7.2"/>
<circle cx="3179.4" cy="1960.4" r="7.2"/>
<circle cx="3202.3" cy="1960.4" r="7.2"/>
<circle cx="3214.4" cy="1960.4" r="7.2"/>
<circle cx="3241.3" cy="1960.4" r="7.2"/>
<circle cx="3258.8" cy="1960.4" r="7.2"/>
<circle cx="3292.5" cy="1960.4" r="7.2"/>
<circle cx="3336.9" cy="1960.4" r="7.2"/>
<circle cx="3382.6" cy="1960.4" r="7.2"/>
<circle cx="3120.2" cy="1968.4" r="7.2"/>
<circle cx="3218.4" cy="1968.4" r="7.2"/>
<circle cx="3229.2" cy="1968.4" r="7.2"/>
<circle cx="3281.7" cy="1968.4" r="7.2"/>
<circle cx="3293.8" cy="1968.4" r="7.2"/>
<circle cx="3305.9" cy="1968.4" r="7.2"/>
<circle cx="3336.9" cy="1968.4" r="7.2"/>
<circle cx="3384" cy="1968.4" r="7.2"/>
<circle cx="3143.1" cy="1976.5" r="7.2"/>
<circle cx="3229.2" cy="1976.5" r="7.2"/>
<circle cx="3293.8" cy="1976.5" r="7.2"/>
<circle cx="3314" cy="1976.5" r="7.2"/>
<circle cx="3336.9" cy="1976.5" r="7.2"/>
<circle cx="3120.2" cy="1984.6" r="7.2"/>
<circle cx="3143.1" cy="1984.6" r="7.2"/>
<circle cx="3188.8" cy="1984.6" r="7.2"/>
<circle cx="3203.6" cy="1984.6" r="7.2"/>
<circle cx="3215.7" cy="1984.6" r="7.2"/>
<circle cx="3229.2" cy="1984.6" r="7.2"/>
<circle cx="3240" cy="1984.6" r="7.2"/>
<circle cx="3293.8" cy="1984.6" r="7.2"/>
<circle cx="3312.7" cy="1984.6" r="7.2"/>
<circle cx="3336.9" cy="1984.6" r="7.2"/>
<circle cx="3384" cy="1984.6" r="7.2"/>
<circle cx="3176.7" cy="1992.7" r="7.2"/>
<circle cx="3229.2" cy="1992.7" r="7.2"/>
<circle cx="3268.2" cy="1992.7" r="7.2"/>
<circle cx="3310" cy="1992.7" r="7.2"/>
<circle cx="3342.3" cy="1992.7" r="7.2"/>
<circle cx="3371.9" cy="1992.7" r="7.2"/>
<circle cx="3386.7" cy="1992.7" r="7.2"/>
<circle cx="3120.2" cy="2002.1" r="7.2"/>
<circle cx="3143.1" cy="2002.1" r="7.2"/>
<circle cx="3159.2" cy="2002.1" r="7.2"/>
<circle cx="3229.2" cy="2002.1" r="7.2"/>
<circle cx="3250.7" cy="2002.1" r="7.2"/>
<circle cx="3270.9" cy="2002.1" r="7.2"/>
<circle cx="3292.5" cy="2002.1" r="7.2"/>
<circle cx="3322.1" cy="2002.1" r="7.2"/>
<circle cx="3340.9" cy="2002.1" r="7.2"/>
<circle cx="3183.4" cy="2008.8" r="7.2"/>
<circle cx="3202.3" cy="2008.8" r="7.2"/>
<circle cx="3250.7" cy="2008.8" r="7.2"/>
<circle cx="3265.5" cy="2008.8" r="7.2"/>
<circle cx="3291.1" cy="2008.8" r="7.2"/>
<circle cx="3143.1" cy="2016.9" r="7.2"/>
<circle cx="3165.9" cy="2016.9" r="7.2"/>
<circle cx="3229.2" cy="2016.9" r="7.2"/>
<circle cx="3248" cy="2016.9" r="7.2"/>
<circle cx="3159.2" cy="2023.6" r="7.2"/>
<circle cx="3180.8" cy="2023.6" r="7.2"/>
<circle cx="3229.2" cy="2023.6" r="7.2"/>
<circle cx="3293.8" cy="2023.6" r="7.2"/>
<circle cx="3293.8" cy="2030.3" r="7.2"/>
<circle cx="3202.3" cy="2035.7" r="7.2"/>
<circle cx="3258.8" cy="2035.7" r="7.2"/>
<circle cx="3293.8" cy="2035.7" r="7.2"/>
<circle cx="3113.5" cy="2043.8" r="7.2"/>
<circle cx="3140.4" cy="2043.8" r="7.2"/>
<circle cx="3159.2" cy="2043.8" r="7.2"/>
<circle cx="3175.4" cy="2043.8" r="7.2"/>
<circle cx="3196.9" cy="2043.8" r="7.2"/>
<circle cx="3218.4" cy="2043.8" r="7.2"/>
<circle cx="3229.2" cy="2043.8" r="7.2"/>
<circle cx="3258.8" cy="2043.8" r="7.2"/>
<circle cx="3377.3" cy="2043.8" r="7.2"/>
<circle cx="3226.7" cy="1881.6" r="7.2"/>
<circle cx="3227" cy="1893.9" r="7.2"/>
<circle cx="3228.2" cy="1902.9" r="7.2"/>
<circle cx="3230.2" cy="1919.9" r="7.2"/>
<circle cx="3227.3" cy="1930.2" r="7.2"/>
<circle cx="3227.6" cy="1939.9" r="7.2"/>
<circle cx="3226.7" cy="1948.7" r="7.2"/>
<circle cx="3230.8" cy="1960.2" r="7.2"/>
<circle cx="3230.2" cy="1975.6" r="7.2"/>
<circle cx="3227.2" cy="1986.7" r="7.2"/>
<circle cx="3229.3" cy="1994.6" r="7.2"/>
<circle cx="3230.5" cy="2008.7" r="7.2"/>
<circle cx="3226.6" cy="2020.9" r="7.2"/>
<circle cx="3229.6" cy="2030.3" r="7.2"/>
<circle cx="3227.1" cy="2040.9" r="7.2"/>
<circle cx="3226.6" cy="2051.9" r="7.2"/>
<circle cx="3295.8" cy="1837" r="7.2"/>
<circle cx="3293" cy="1846.6" r="7.2"/>
<circle cx="3294.4" cy="1861.8" r="7.2"/>
<circle cx="3295.7" cy="1874.1" r="7.2"/>
<circle cx="3293.6" cy="1883.8" r="7.2"/>
<circle cx="3293.7" cy="1897" r="7.2"/>
<circle cx="3293" cy="1906.2" r="7.2"/>
<circle cx="3291.7" cy="1923.6" r="7.2"/>
<circle cx="3294.6" cy="1930.3" r="7.2"/>
<circle cx="3294.2" cy="1944.6" r="7.2"/>
<circle cx="3293.2" cy="1958.5" r="7.2"/>
<circle cx="3292.5" cy="1975" r="7.2"/>
<circle cx="3292.5" cy="1983.1" r="7.2"/>
<circle cx="3292.9" cy="1997.2" r="7.2"/>
<circle cx="3295.2" cy="2007.7" r="7.2"/>
<circle cx="3294.3" cy="2019.9" r="7.2"/>
<circle cx="3335" cy="1904.9" r="7.2"/>
<circle cx="3335.6" cy="1909.3" r="7.2"/>
<circle cx="3337.6" cy="1922.1" r="7.2"/>
<circle cx="3336.2" cy="1928.3" r="7.2"/>
<circle cx="3336.8" cy="1937" r="7.2"/>
<circle cx="3338" cy="1945.2" r="7.2"/>
<circle cx="3339.3" cy="1958.8" r="7.2"/>
<circle cx="3339.3" cy="1967" r="7.2"/>
<circle cx="3335.9" cy="1972.1" r="7.2"/>
<circle cx="3338.4" cy="1986.2" r="7.2"/>
<circle cx="3386.2" cy="1922.3" r="7.2"/>
<circle cx="3385.6" cy="1932.9" r="7.2"/>
<circle cx="3382.5" cy="1940.4" r="7.2"/>
<circle cx="3382.2" cy="1950.6" r="7.2"/>
<circle cx="3386.3" cy="1959.6" r="7.2"/>
<circle cx="3381.5" cy="1968.7" r="7.2"/>
<circle cx="3382.3" cy="1976.5" r="7.2"/>
<circle cx="3383.3" cy="1990" r="7.2"/>
<circle cx="3445" cy="1921.6" r="7.2"/>
<circle cx="3446.6" cy="1934.9" r="7.2"/>
<circle cx="3444.8" cy="1939.9" r="7.2"/>
<circle cx="3445.3" cy="1948.4" r="7.2"/>
<circle cx="3445.2" cy="1961.3" r="7.2"/>
<circle cx="3447" cy="1967.1" r="7.2"/>
<circle cx="3449.5" cy="1977.7" r="7.2"/>
<circle cx="3447.1" cy="1986.3" r="7.2"/>
</g>
<g fill="#000" stroke="#000" stroke-width="0.45" font-size="31">
<text x="3037" y="1668">R</text>
<text x="3061" y="1652" font-size="21" stroke-width="0.6">2</text>
<text x="3079" y="1668" textLength="102" lengthAdjust="spacingAndGlyphs">= 0.11</text>
<text x="3187" y="1673" font-size="24">.</text>
<text x="3037" y="1717.5" textLength="232" lengthAdjust="spacingAndGlyphs">F(1,42) = 4.89</text>
<text x="3275" y="1722.5" font-size="24">.</text>
<text x="3037" y="1765.7" font-style="italic">p</text>
<text x="3058" y="1771.7" font-size="21" font-style="italic" textLength="45" lengthAdjust="spacingAndGlyphs">FDR</text>
<text x="3110" y="1765.7" textLength="84" lengthAdjust="spacingAndGlyphs">= .05</text>
</g>
</svg>
</body></html>
